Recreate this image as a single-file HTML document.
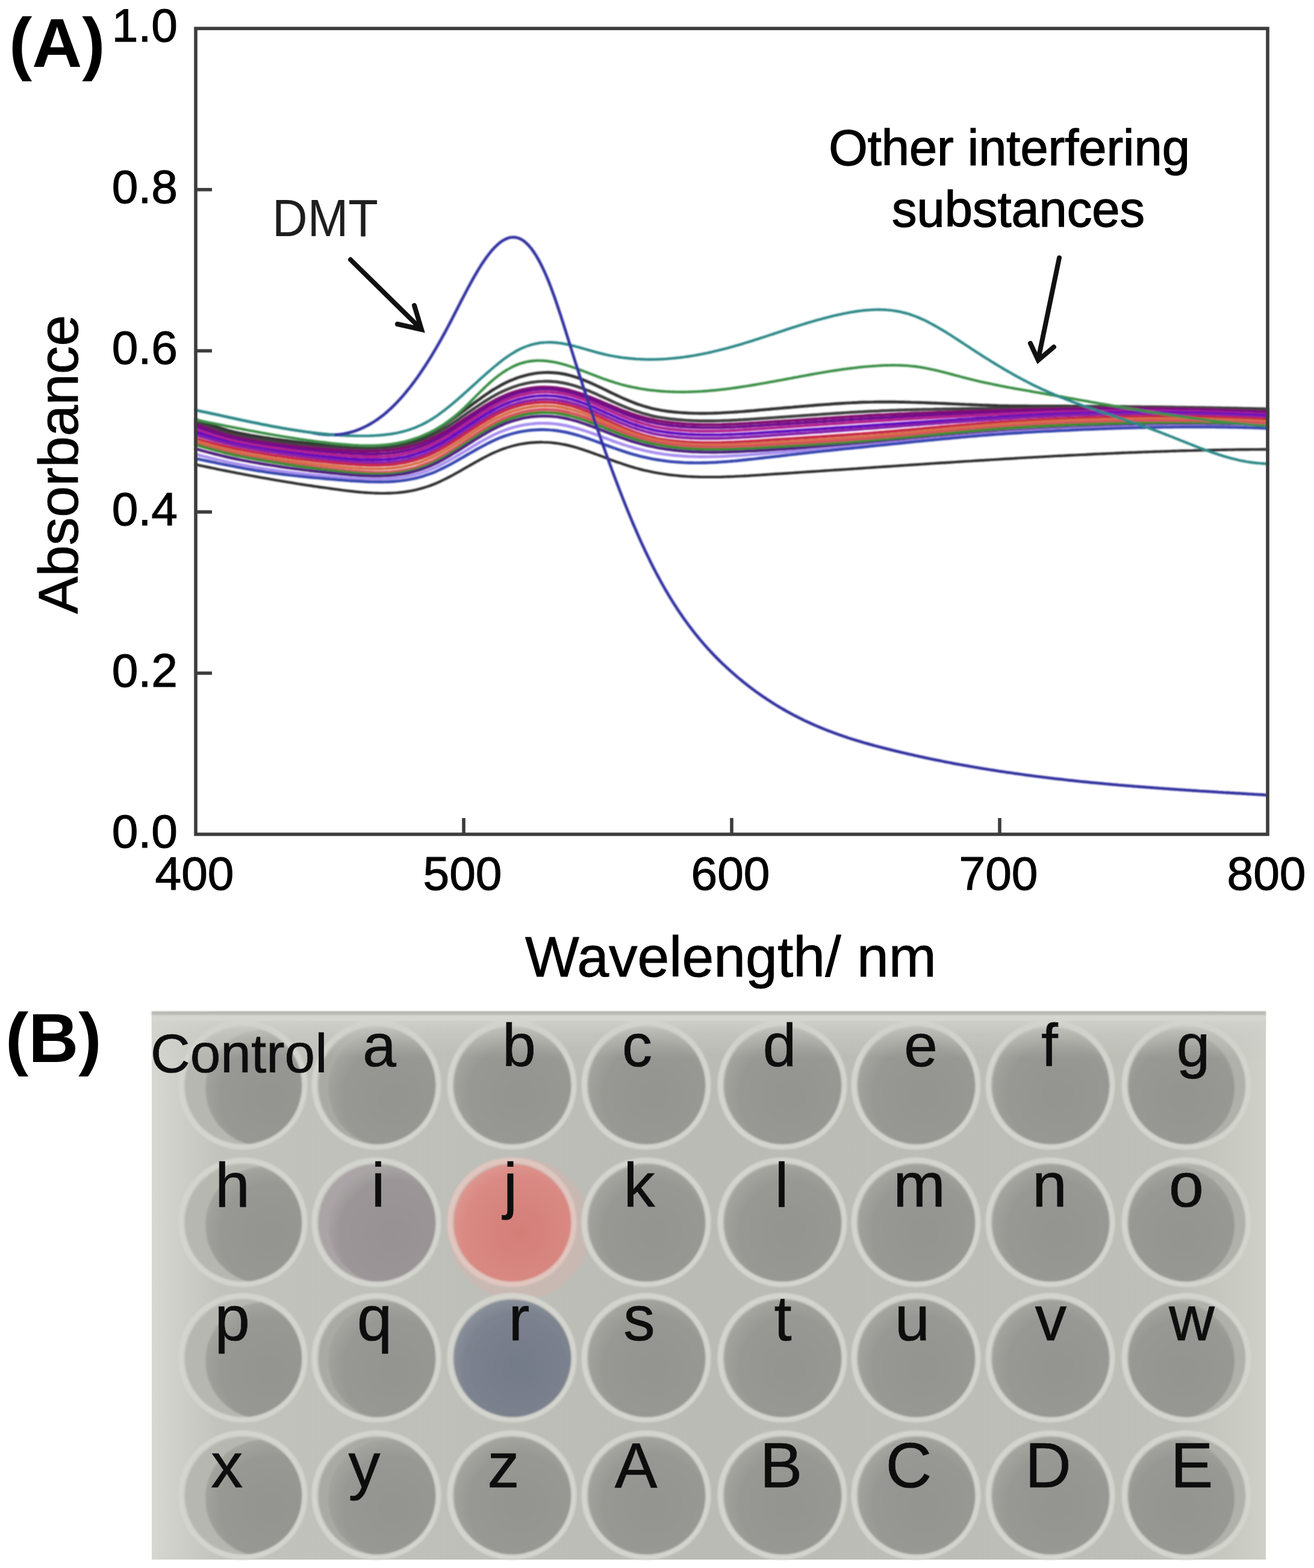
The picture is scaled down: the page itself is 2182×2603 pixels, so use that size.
<!DOCTYPE html>
<html><head><meta charset="utf-8"><title>Figure</title>
<style>
html,body{margin:0;padding:0;background:#fff;}
svg{display:block;}
text{font-family:"Liberation Sans",Arial,sans-serif;}
</style></head>
<body>
<svg width="2182" height="2603" viewBox="0 0 2182 2603">
<defs>
<clipPath id="cw00"><circle cx="404.0" cy="1802.0" r="97.5"/></clipPath>
<clipPath id="cw01"><circle cx="626.0" cy="1802.0" r="97.5"/></clipPath>
<clipPath id="cw07"><circle cx="1971.0" cy="1802.0" r="97.5"/></clipPath>
<clipPath id="cw10"><circle cx="404.0" cy="2030.0" r="97.5"/></clipPath>
<clipPath id="cw11"><circle cx="626.0" cy="2030.0" r="97.5"/></clipPath>
<clipPath id="cw17"><circle cx="1971.0" cy="2030.0" r="97.5"/></clipPath>
<clipPath id="cw20"><circle cx="404.0" cy="2255.0" r="97.5"/></clipPath>
<clipPath id="cw21"><circle cx="626.0" cy="2255.0" r="97.5"/></clipPath>
<clipPath id="cw27"><circle cx="1971.0" cy="2255.0" r="97.5"/></clipPath>
<clipPath id="cw30"><circle cx="404.0" cy="2483.0" r="97.5"/></clipPath>
<clipPath id="cw31"><circle cx="626.0" cy="2483.0" r="97.5"/></clipPath>
<clipPath id="cw37"><circle cx="1971.0" cy="2483.0" r="97.5"/></clipPath>
<radialGradient id="wg" cx="56%" cy="58%" r="62%">
<stop offset="0" stop-color="#939490"/><stop offset="0.7" stop-color="#979893"/><stop offset="1" stop-color="#a6a7a1"/>
</radialGradient>
<linearGradient id="wl" x1="0" y1="0" x2="1" y2="0">
<stop offset="0" stop-color="#b4b5af"/><stop offset="0.35" stop-color="#a4a59f"/><stop offset="0.45" stop-color="#90918c"/><stop offset="1" stop-color="#8e8f8a"/>
</linearGradient>
<radialGradient id="wj" cx="56%" cy="58%" r="62%">
<stop offset="0" stop-color="#d47e78"/><stop offset="0.75" stop-color="#d98882"/><stop offset="1" stop-color="#dc9890"/>
</radialGradient>
<radialGradient id="wr" cx="56%" cy="58%" r="62%">
<stop offset="0" stop-color="#747b88"/><stop offset="0.75" stop-color="#7b828e"/><stop offset="1" stop-color="#8c929c"/>
</radialGradient>
<radialGradient id="wi" cx="56%" cy="58%" r="62%">
<stop offset="0" stop-color="#979193"/><stop offset="0.75" stop-color="#9b9597"/><stop offset="1" stop-color="#aca8a8"/>
</radialGradient>
<linearGradient id="pbg" x1="0" y1="0" x2="1" y2="0">
<stop offset="0" stop-color="#d6d7d0"/><stop offset="0.06" stop-color="#c2c3bd"/><stop offset="0.5" stop-color="#babbb5"/><stop offset="0.92" stop-color="#bebfb8"/><stop offset="1" stop-color="#cfd0c8"/>
</linearGradient>
<linearGradient id="topfade" x1="0" y1="0" x2="0" y2="1">
<stop offset="0" stop-color="#d4d5cf" stop-opacity="0.9"/><stop offset="0.35" stop-color="#cfd0ca" stop-opacity="0.55"/><stop offset="1" stop-color="#c8c9c3" stop-opacity="0"/>
</linearGradient>
<filter id="soft" x="-5%" y="-5%" width="110%" height="110%"><feGaussianBlur stdDeviation="1.8"/></filter>
<filter id="soft2"><feGaussianBlur stdDeviation="1.0"/></filter>
<filter id="soft3"><feGaussianBlur stdDeviation="0.7"/></filter>
</defs>
<rect width="2182" height="2603" fill="#ffffff"/>
<!-- Panel A -->
<text x="15" y="111" font-size="115" font-weight="bold" fill="#000">(A)</text>
<g fill="none" stroke-linejoin="round" stroke-linecap="round" filter="url(#soft2)">
<path d="M325.0,696.2 C326.5,696.7 331.0,698.4 334.0,699.4 C337.0,700.5 340.0,701.6 343.0,702.7 C346.0,703.7 349.0,704.8 352.0,705.8 C355.0,706.9 358.0,707.9 361.0,708.9 C364.0,709.9 367.0,710.9 370.0,711.8 C373.0,712.7 376.0,713.6 379.0,714.5 C382.0,715.3 385.0,716.1 388.0,716.8 C391.0,717.6 394.0,718.3 397.0,718.9 C400.0,719.5 403.0,720.1 406.0,720.6 C409.0,721.2 412.0,721.7 415.0,722.3 C418.0,722.8 421.0,723.3 424.0,723.8 C427.0,724.3 430.0,724.8 433.0,725.3 C436.0,725.8 439.0,726.3 442.0,726.8 C445.0,727.2 448.0,727.7 451.0,728.1 C454.0,728.6 457.0,729.0 460.0,729.4 C463.0,729.8 466.0,730.2 469.0,730.6 C472.0,731.0 475.0,731.4 478.0,731.8 C481.0,732.2 484.0,732.5 487.0,732.9 C490.0,733.3 493.0,733.6 496.0,733.9 C499.0,734.3 502.0,734.6 505.0,734.9 C508.0,735.2 511.0,735.5 514.0,735.8 C517.0,736.1 520.0,736.4 523.0,736.7 C526.0,737.0 529.0,737.3 532.0,737.5 C535.0,737.8 538.0,738.1 541.0,738.3 C544.0,738.5 547.0,738.8 550.0,739.0 C553.0,739.2 556.0,739.5 559.0,739.7 C562.0,739.9 565.0,740.1 568.0,740.3 C571.0,740.5 574.0,740.7 577.0,740.8 C580.0,741.0 583.0,741.2 586.0,741.3 C589.0,741.4 592.0,741.6 595.0,741.7 C598.0,741.8 601.0,741.8 604.0,741.9 C607.0,741.9 610.0,742.0 613.0,741.9 C616.0,741.9 619.0,741.9 622.0,741.8 C625.0,741.7 628.0,741.6 631.0,741.5 C634.0,741.3 637.0,741.1 640.0,740.9 C643.0,740.6 646.0,740.3 649.0,740.0 C652.0,739.6 655.0,739.1 658.0,738.6 C661.0,738.1 664.0,737.5 667.0,736.8 C670.0,736.2 673.0,735.4 676.0,734.6 C679.0,733.8 682.0,732.8 685.0,731.9 C688.0,730.9 691.0,729.8 694.0,728.6 C697.0,727.5 700.0,726.2 703.0,724.9 C706.0,723.5 709.0,722.1 712.0,720.6 C715.0,719.1 718.0,717.4 721.0,715.7 C724.0,714.0 727.0,712.2 730.0,710.4 C733.0,708.5 736.0,706.5 739.0,704.5 C742.0,702.5 745.0,700.4 748.0,698.3 C751.0,696.2 754.0,694.0 757.0,691.8 C760.0,689.6 763.0,687.3 766.0,685.1 C769.0,682.8 772.0,680.6 775.0,678.3 C778.0,676.1 781.0,673.8 784.0,671.5 C787.0,669.3 790.0,667.1 793.0,664.9 C796.0,662.7 799.0,660.5 802.0,658.4 C805.0,656.3 808.0,654.2 811.0,652.2 C814.0,650.2 817.0,648.3 820.0,646.4 C823.0,644.6 826.0,642.8 829.0,641.1 C832.0,639.4 835.0,637.8 838.0,636.3 C841.0,634.8 844.0,633.4 847.0,632.1 C850.0,630.8 853.0,629.6 856.0,628.4 C859.0,627.3 862.0,626.3 865.0,625.3 C868.0,624.4 871.0,623.5 874.0,622.8 C877.0,622.0 880.0,621.4 883.0,620.8 C886.0,620.3 889.0,619.8 892.0,619.4 C895.0,619.1 898.0,618.8 901.0,618.6 C904.0,618.4 907.0,618.3 910.0,618.3 C913.0,618.3 916.0,618.5 919.0,618.7 C922.0,618.9 925.0,619.2 928.0,619.5 C931.0,619.9 934.0,620.4 937.0,621.0 C940.0,621.6 943.0,622.3 946.0,623.1 C949.0,623.9 952.0,624.7 955.0,625.7 C958.0,626.7 961.0,627.7 964.0,628.8 C967.0,629.9 970.0,631.1 973.0,632.4 C976.0,633.6 979.0,634.9 982.0,636.2 C985.0,637.6 988.0,639.0 991.0,640.4 C994.0,641.8 997.0,643.2 1000.0,644.6 C1003.0,646.1 1006.0,647.5 1009.0,649.0 C1012.0,650.5 1015.0,651.9 1018.0,653.4 C1021.0,654.8 1024.0,656.2 1027.0,657.6 C1030.0,659.0 1033.0,660.4 1036.0,661.7 C1039.0,663.0 1042.0,664.3 1045.0,665.6 C1048.0,666.8 1051.0,668.0 1054.0,669.1 C1057.0,670.2 1060.0,671.3 1063.0,672.3 C1066.0,673.3 1069.0,674.3 1072.0,675.2 C1075.0,676.1 1078.0,676.9 1081.0,677.7 C1084.0,678.4 1087.0,679.1 1090.0,679.7 C1093.0,680.4 1096.0,680.9 1099.0,681.4 C1102.0,681.9 1105.0,682.3 1108.0,682.7 C1111.0,683.1 1114.0,683.4 1117.0,683.8 C1120.0,684.1 1123.0,684.4 1126.0,684.6 C1129.0,684.9 1132.0,685.1 1135.0,685.3 C1138.0,685.5 1141.0,685.6 1144.0,685.8 C1147.0,685.9 1150.0,686.0 1153.0,686.1 C1156.0,686.1 1159.0,686.2 1162.0,686.2 C1165.0,686.2 1168.0,686.2 1171.0,686.2 C1174.0,686.2 1177.0,686.1 1180.0,686.1 C1183.0,686.0 1186.0,685.9 1189.0,685.8 C1192.0,685.7 1195.0,685.6 1198.0,685.4 C1201.0,685.3 1204.0,685.1 1207.0,684.9 C1210.0,684.8 1213.0,684.6 1216.0,684.4 C1219.0,684.2 1222.0,684.0 1225.0,683.8 C1228.0,683.5 1231.0,683.3 1234.0,683.1 C1237.0,682.8 1240.0,682.6 1243.0,682.3 C1246.0,682.1 1249.0,681.8 1252.0,681.6 C1255.0,681.3 1258.0,681.1 1261.0,680.8 C1264.0,680.5 1267.0,680.3 1270.0,680.0 C1273.0,679.7 1276.0,679.5 1279.0,679.2 C1282.0,678.9 1285.0,678.7 1288.0,678.4 C1291.0,678.1 1294.0,677.9 1297.0,677.6 C1300.0,677.4 1303.0,677.1 1306.0,676.8 C1309.0,676.6 1312.0,676.3 1315.0,676.1 C1318.0,675.8 1321.0,675.5 1324.0,675.3 C1327.0,675.0 1330.0,674.8 1333.0,674.5 C1336.0,674.3 1339.0,674.0 1342.0,673.8 C1345.0,673.5 1348.0,673.3 1351.0,673.0 C1354.0,672.8 1357.0,672.6 1360.0,672.3 C1363.0,672.1 1366.0,671.9 1369.0,671.6 C1372.0,671.4 1375.0,671.2 1378.0,671.0 C1381.0,670.7 1384.0,670.5 1387.0,670.3 C1390.0,670.1 1393.0,669.9 1396.0,669.7 C1399.0,669.5 1402.0,669.3 1405.0,669.1 C1408.0,668.9 1411.0,668.7 1414.0,668.6 C1417.0,668.4 1420.0,668.3 1423.0,668.2 C1426.0,668.0 1429.0,667.9 1432.0,667.8 C1435.0,667.7 1438.0,667.6 1441.0,667.6 C1444.0,667.5 1447.0,667.4 1450.0,667.4 C1453.0,667.3 1456.0,667.3 1459.0,667.3 C1462.0,667.3 1465.0,667.2 1468.0,667.2 C1471.0,667.2 1474.0,667.2 1477.0,667.3 C1480.0,667.3 1483.0,667.3 1486.0,667.3 C1489.0,667.4 1492.0,667.4 1495.0,667.5 C1498.0,667.5 1501.0,667.6 1504.0,667.6 C1507.0,667.7 1510.0,667.8 1513.0,667.9 C1516.0,667.9 1519.0,668.0 1522.0,668.1 C1525.0,668.2 1528.0,668.3 1531.0,668.4 C1534.0,668.5 1537.0,668.6 1540.0,668.7 C1543.0,668.8 1546.0,668.9 1549.0,669.1 C1552.0,669.2 1555.0,669.3 1558.0,669.4 C1561.0,669.6 1564.0,669.7 1567.0,669.8 C1570.0,669.9 1573.0,670.1 1576.0,670.2 C1579.0,670.3 1582.0,670.5 1585.0,670.6 C1588.0,670.7 1591.0,670.8 1594.0,671.0 C1597.0,671.1 1600.0,671.2 1603.0,671.4 C1606.0,671.5 1609.0,671.6 1612.0,671.7 C1615.0,671.9 1618.0,672.0 1621.0,672.1 C1624.0,672.2 1627.0,672.3 1630.0,672.5 C1633.0,672.6 1636.0,672.7 1639.0,672.8 C1642.0,672.9 1645.0,673.0 1648.0,673.1 C1651.0,673.2 1654.0,673.3 1657.0,673.4 C1660.0,673.4 1663.0,673.5 1666.0,673.6 C1669.0,673.7 1672.0,673.7 1675.0,673.8 C1678.0,673.8 1681.0,673.9 1684.0,673.9 C1687.0,674.0 1690.0,674.0 1693.0,674.0 C1696.0,674.0 1699.0,674.0 1702.0,674.0 C1705.0,674.1 1708.0,674.1 1711.0,674.1 C1714.0,674.1 1717.0,674.1 1720.0,674.1 C1723.0,674.1 1726.0,674.1 1729.0,674.1 C1732.0,674.1 1735.0,674.1 1738.0,674.2 C1741.0,674.2 1744.0,674.2 1747.0,674.2 C1750.0,674.2 1753.0,674.2 1756.0,674.2 C1759.0,674.3 1762.0,674.3 1765.0,674.3 C1768.0,674.3 1771.0,674.3 1774.0,674.3 C1777.0,674.3 1780.0,674.4 1783.0,674.4 C1786.0,674.4 1789.0,674.4 1792.0,674.4 C1795.0,674.5 1798.0,674.5 1801.0,674.5 C1804.0,674.5 1807.0,674.5 1810.0,674.6 C1813.0,674.6 1816.0,674.6 1819.0,674.6 C1822.0,674.6 1825.0,674.7 1828.0,674.7 C1831.0,674.7 1834.0,674.7 1837.0,674.8 C1840.0,674.8 1843.0,674.8 1846.0,674.8 C1849.0,674.9 1852.0,674.9 1855.0,674.9 C1858.0,675.0 1861.0,675.0 1864.0,675.0 C1867.0,675.0 1870.0,675.1 1873.0,675.1 C1876.0,675.1 1879.0,675.2 1882.0,675.2 C1885.0,675.2 1888.0,675.3 1891.0,675.3 C1894.0,675.3 1897.0,675.4 1900.0,675.4 C1903.0,675.4 1906.0,675.5 1909.0,675.5 C1912.0,675.5 1915.0,675.6 1918.0,675.6 C1921.0,675.7 1924.0,675.7 1927.0,675.7 C1930.0,675.8 1933.0,675.8 1936.0,675.9 C1939.0,675.9 1942.0,675.9 1945.0,676.0 C1948.0,676.0 1951.0,676.1 1954.0,676.1 C1957.0,676.1 1960.0,676.2 1963.0,676.2 C1966.0,676.3 1969.0,676.3 1972.0,676.4 C1975.0,676.4 1978.0,676.5 1981.0,676.5 C1984.0,676.6 1987.0,676.6 1990.0,676.7 C1993.0,676.7 1996.0,676.8 1999.0,676.8 C2002.0,676.9 2005.0,676.9 2008.0,677.0 C2011.0,677.0 2014.0,677.1 2017.0,677.1 C2020.0,677.2 2023.0,677.2 2026.0,677.3 C2029.0,677.4 2032.0,677.4 2035.0,677.5 C2038.0,677.5 2041.0,677.6 2044.0,677.6 C2047.0,677.7 2050.0,677.8 2053.0,677.8 C2056.0,677.9 2059.0,677.9 2062.0,678.0 C2065.0,678.1 2068.0,678.1 2071.0,678.2 C2074.0,678.3 2077.0,678.3 2080.0,678.4 C2083.0,678.5 2086.0,678.5 2089.0,678.6 C2092.0,678.7 2095.3,678.7 2098.0,678.8 C2100.7,678.9 2103.8,678.9 2105.0,679.0" stroke="#303030" stroke-width="4.9"/>
<path d="M325.0,700.2 C326.5,700.7 331.0,702.4 334.0,703.4 C337.0,704.5 340.0,705.6 343.0,706.7 C346.0,707.8 349.0,708.8 352.0,709.9 C355.0,710.9 358.0,711.9 361.0,712.9 C364.0,713.9 367.0,714.9 370.0,715.8 C373.0,716.7 376.0,717.6 379.0,718.5 C382.0,719.3 385.0,720.1 388.0,720.8 C391.0,721.6 394.0,722.3 397.0,722.9 C400.0,723.5 403.0,724.1 406.0,724.6 C409.0,725.2 412.0,725.7 415.0,726.3 C418.0,726.8 421.0,727.3 424.0,727.8 C427.0,728.3 430.0,728.8 433.0,729.3 C436.0,729.7 439.0,730.2 442.0,730.7 C445.0,731.1 448.0,731.5 451.0,732.0 C454.0,732.4 457.0,732.8 460.0,733.2 C463.0,733.6 466.0,734.0 469.0,734.4 C472.0,734.8 475.0,735.1 478.0,735.5 C481.0,735.9 484.0,736.2 487.0,736.5 C490.0,736.9 493.0,737.2 496.0,737.5 C499.0,737.8 502.0,738.1 505.0,738.4 C508.0,738.7 511.0,739.0 514.0,739.3 C517.0,739.6 520.0,739.8 523.0,740.1 C526.0,740.4 529.0,740.6 532.0,740.9 C535.0,741.1 538.0,741.3 541.0,741.6 C544.0,741.8 547.0,742.0 550.0,742.2 C553.0,742.4 556.0,742.6 559.0,742.8 C562.0,743.0 565.0,743.2 568.0,743.4 C571.0,743.6 574.0,743.7 577.0,743.9 C580.0,744.1 583.0,744.2 586.0,744.3 C589.0,744.5 592.0,744.6 595.0,744.7 C598.0,744.8 601.0,744.8 604.0,744.9 C607.0,744.9 610.0,744.9 613.0,744.9 C616.0,744.9 619.0,744.9 622.0,744.8 C625.0,744.7 628.0,744.6 631.0,744.4 C634.0,744.3 637.0,744.1 640.0,743.9 C643.0,743.6 646.0,743.4 649.0,743.0 C652.0,742.7 655.0,742.3 658.0,741.8 C661.0,741.3 664.0,740.8 667.0,740.2 C670.0,739.6 673.0,738.9 676.0,738.1 C679.0,737.4 682.0,736.6 685.0,735.7 C688.0,734.8 691.0,733.8 694.0,732.8 C697.0,731.7 700.0,730.6 703.0,729.4 C706.0,728.1 709.0,726.8 712.0,725.4 C715.0,724.1 718.0,722.6 721.0,721.0 C724.0,719.5 727.0,717.8 730.0,716.1 C733.0,714.4 736.0,712.5 739.0,710.7 C742.0,708.8 745.0,706.9 748.0,705.0 C751.0,703.0 754.0,701.0 757.0,699.0 C760.0,696.9 763.0,694.9 766.0,692.8 C769.0,690.7 772.0,688.6 775.0,686.5 C778.0,684.5 781.0,682.4 784.0,680.3 C787.0,678.2 790.0,676.2 793.0,674.2 C796.0,672.2 799.0,670.2 802.0,668.2 C805.0,666.3 808.0,664.4 811.0,662.6 C814.0,660.7 817.0,659.0 820.0,657.3 C823.0,655.6 826.0,654.0 829.0,652.4 C832.0,650.9 835.0,649.5 838.0,648.2 C841.0,646.8 844.0,645.6 847.0,644.4 C850.0,643.2 853.0,642.2 856.0,641.2 C859.0,640.2 862.0,639.3 865.0,638.5 C868.0,637.7 871.0,637.0 874.0,636.3 C877.0,635.7 880.0,635.2 883.0,634.7 C886.0,634.3 889.0,633.9 892.0,633.6 C895.0,633.3 898.0,633.2 901.0,633.1 C904.0,632.9 907.0,632.9 910.0,633.0 C913.0,633.1 916.0,633.2 919.0,633.5 C922.0,633.7 925.0,634.1 928.0,634.5 C931.0,634.9 934.0,635.4 937.0,636.0 C940.0,636.6 943.0,637.3 946.0,638.1 C949.0,638.8 952.0,639.7 955.0,640.6 C958.0,641.6 961.0,642.6 964.0,643.7 C967.0,644.7 970.0,645.9 973.0,647.0 C976.0,648.2 979.0,649.5 982.0,650.7 C985.0,652.0 988.0,653.3 991.0,654.6 C994.0,656.0 997.0,657.3 1000.0,658.7 C1003.0,660.1 1006.0,661.4 1009.0,662.8 C1012.0,664.2 1015.0,665.6 1018.0,666.9 C1021.0,668.3 1024.0,669.6 1027.0,670.9 C1030.0,672.2 1033.0,673.5 1036.0,674.8 C1039.0,676.0 1042.0,677.2 1045.0,678.4 C1048.0,679.5 1051.0,680.7 1054.0,681.7 C1057.0,682.8 1060.0,683.8 1063.0,684.7 C1066.0,685.7 1069.0,686.6 1072.0,687.4 C1075.0,688.3 1078.0,689.1 1081.0,689.8 C1084.0,690.5 1087.0,691.2 1090.0,691.8 C1093.0,692.4 1096.0,692.9 1099.0,693.4 C1102.0,693.9 1105.0,694.3 1108.0,694.7 C1111.0,695.1 1114.0,695.5 1117.0,695.8 C1120.0,696.1 1123.0,696.4 1126.0,696.7 C1129.0,697.0 1132.0,697.2 1135.0,697.4 C1138.0,697.7 1141.0,697.8 1144.0,698.0 C1147.0,698.2 1150.0,698.3 1153.0,698.4 C1156.0,698.5 1159.0,698.6 1162.0,698.7 C1165.0,698.7 1168.0,698.7 1171.0,698.8 C1174.0,698.8 1177.0,698.8 1180.0,698.8 C1183.0,698.7 1186.0,698.7 1189.0,698.6 C1192.0,698.6 1195.0,698.5 1198.0,698.4 C1201.0,698.3 1204.0,698.2 1207.0,698.1 C1210.0,698.0 1213.0,697.9 1216.0,697.7 C1219.0,697.6 1222.0,697.4 1225.0,697.3 C1228.0,697.1 1231.0,696.9 1234.0,696.8 C1237.0,696.6 1240.0,696.4 1243.0,696.2 C1246.0,696.0 1249.0,695.8 1252.0,695.6 C1255.0,695.4 1258.0,695.2 1261.0,695.0 C1264.0,694.8 1267.0,694.6 1270.0,694.4 C1273.0,694.2 1276.0,694.0 1279.0,693.8 C1282.0,693.6 1285.0,693.4 1288.0,693.1 C1291.0,692.9 1294.0,692.7 1297.0,692.5 C1300.0,692.3 1303.0,692.1 1306.0,691.9 C1309.0,691.7 1312.0,691.5 1315.0,691.3 C1318.0,691.1 1321.0,690.9 1324.0,690.6 C1327.0,690.4 1330.0,690.2 1333.0,690.0 C1336.0,689.8 1339.0,689.6 1342.0,689.4 C1345.0,689.2 1348.0,689.0 1351.0,688.8 C1354.0,688.6 1357.0,688.3 1360.0,688.1 C1363.0,687.9 1366.0,687.7 1369.0,687.5 C1372.0,687.3 1375.0,687.1 1378.0,686.9 C1381.0,686.7 1384.0,686.5 1387.0,686.3 C1390.0,686.1 1393.0,685.9 1396.0,685.7 C1399.0,685.5 1402.0,685.3 1405.0,685.1 C1408.0,684.9 1411.0,684.7 1414.0,684.5 C1417.0,684.3 1420.0,684.1 1423.0,684.0 C1426.0,683.8 1429.0,683.6 1432.0,683.5 C1435.0,683.3 1438.0,683.2 1441.0,683.0 C1444.0,682.9 1447.0,682.7 1450.0,682.6 C1453.0,682.4 1456.0,682.3 1459.0,682.2 C1462.0,682.0 1465.0,681.9 1468.0,681.8 C1471.0,681.7 1474.0,681.5 1477.0,681.4 C1480.0,681.3 1483.0,681.2 1486.0,681.1 C1489.0,681.0 1492.0,680.9 1495.0,680.8 C1498.0,680.7 1501.0,680.6 1504.0,680.5 C1507.0,680.4 1510.0,680.3 1513.0,680.2 C1516.0,680.2 1519.0,680.1 1522.0,680.0 C1525.0,679.9 1528.0,679.8 1531.0,679.8 C1534.0,679.7 1537.0,679.6 1540.0,679.6 C1543.0,679.5 1546.0,679.4 1549.0,679.4 C1552.0,679.3 1555.0,679.3 1558.0,679.2 C1561.0,679.1 1564.0,679.1 1567.0,679.0 C1570.0,679.0 1573.0,678.9 1576.0,678.9 C1579.0,678.8 1582.0,678.8 1585.0,678.7 C1588.0,678.7 1591.0,678.6 1594.0,678.6 C1597.0,678.5 1600.0,678.5 1603.0,678.4 C1606.0,678.4 1609.0,678.4 1612.0,678.3 C1615.0,678.3 1618.0,678.2 1621.0,678.2 C1624.0,678.2 1627.0,678.1 1630.0,678.1 C1633.0,678.0 1636.0,678.0 1639.0,678.0 C1642.0,677.9 1645.0,677.9 1648.0,677.8 C1651.0,677.8 1654.0,677.7 1657.0,677.7 C1660.0,677.7 1663.0,677.6 1666.0,677.6 C1669.0,677.5 1672.0,677.5 1675.0,677.4 C1678.0,677.4 1681.0,677.4 1684.0,677.3 C1687.0,677.3 1690.0,677.2 1693.0,677.2 C1696.0,677.1 1699.0,677.1 1702.0,677.0 C1705.0,677.0 1708.0,676.9 1711.0,676.9 C1714.0,676.8 1717.0,676.8 1720.0,676.7 C1723.0,676.7 1726.0,676.6 1729.0,676.6 C1732.0,676.5 1735.0,676.5 1738.0,676.4 C1741.0,676.4 1744.0,676.4 1747.0,676.3 C1750.0,676.3 1753.0,676.3 1756.0,676.2 C1759.0,676.2 1762.0,676.2 1765.0,676.1 C1768.0,676.1 1771.0,676.1 1774.0,676.0 C1777.0,676.0 1780.0,676.0 1783.0,675.9 C1786.0,675.9 1789.0,675.9 1792.0,675.9 C1795.0,675.9 1798.0,675.8 1801.0,675.8 C1804.0,675.8 1807.0,675.8 1810.0,675.8 C1813.0,675.7 1816.0,675.7 1819.0,675.7 C1822.0,675.7 1825.0,675.7 1828.0,675.7 C1831.0,675.7 1834.0,675.7 1837.0,675.7 C1840.0,675.7 1843.0,675.7 1846.0,675.7 C1849.0,675.7 1852.0,675.7 1855.0,675.7 C1858.0,675.7 1861.0,675.7 1864.0,675.7 C1867.0,675.7 1870.0,675.7 1873.0,675.7 C1876.0,675.7 1879.0,675.7 1882.0,675.7 C1885.0,675.7 1888.0,675.8 1891.0,675.8 C1894.0,675.8 1897.0,675.8 1900.0,675.8 C1903.0,675.9 1906.0,675.9 1909.0,675.9 C1912.0,675.9 1915.0,676.0 1918.0,676.0 C1921.0,676.0 1924.0,676.1 1927.0,676.1 C1930.0,676.1 1933.0,676.2 1936.0,676.2 C1939.0,676.2 1942.0,676.3 1945.0,676.3 C1948.0,676.4 1951.0,676.4 1954.0,676.5 C1957.0,676.5 1960.0,676.6 1963.0,676.6 C1966.0,676.7 1969.0,676.7 1972.0,676.8 C1975.0,676.8 1978.0,676.9 1981.0,677.0 C1984.0,677.0 1987.0,677.1 1990.0,677.2 C1993.0,677.2 1996.0,677.3 1999.0,677.4 C2002.0,677.4 2005.0,677.5 2008.0,677.6 C2011.0,677.7 2014.0,677.7 2017.0,677.8 C2020.0,677.9 2023.0,678.0 2026.0,678.1 C2029.0,678.2 2032.0,678.2 2035.0,678.3 C2038.0,678.4 2041.0,678.5 2044.0,678.6 C2047.0,678.7 2050.0,678.8 2053.0,678.9 C2056.0,679.0 2059.0,679.1 2062.0,679.2 C2065.0,679.3 2068.0,679.5 2071.0,679.6 C2074.0,679.7 2077.0,679.8 2080.0,679.9 C2083.0,680.0 2086.0,680.1 2089.0,680.3 C2092.0,680.4 2095.3,680.5 2098.0,680.7 C2100.7,680.8 2103.8,680.9 2105.0,681.0" stroke="#404040" stroke-width="4.9"/>
<path d="M325.0,704.2 C326.5,704.7 331.0,706.4 334.0,707.4 C337.0,708.5 340.0,709.6 343.0,710.7 C346.0,711.8 349.0,712.8 352.0,713.9 C355.0,714.9 358.0,715.9 361.0,716.9 C364.0,717.9 367.0,718.9 370.0,719.8 C373.0,720.7 376.0,721.6 379.0,722.5 C382.0,723.3 385.0,724.1 388.0,724.8 C391.0,725.6 394.0,726.3 397.0,726.9 C400.0,727.5 403.0,728.1 406.0,728.6 C409.0,729.2 412.0,729.7 415.0,730.2 C418.0,730.8 421.0,731.3 424.0,731.8 C427.0,732.3 430.0,732.8 433.0,733.2 C436.0,733.7 439.0,734.2 442.0,734.6 C445.0,735.1 448.0,735.5 451.0,735.9 C454.0,736.3 457.0,736.8 460.0,737.2 C463.0,737.6 466.0,737.9 469.0,738.3 C472.0,738.7 475.0,739.0 478.0,739.4 C481.0,739.8 484.0,740.1 487.0,740.4 C490.0,740.8 493.0,741.1 496.0,741.4 C499.0,741.7 502.0,742.0 505.0,742.3 C508.0,742.6 511.0,742.9 514.0,743.1 C517.0,743.4 520.0,743.7 523.0,743.9 C526.0,744.2 529.0,744.4 532.0,744.7 C535.0,744.9 538.0,745.1 541.0,745.4 C544.0,745.6 547.0,745.8 550.0,746.0 C553.0,746.2 556.0,746.4 559.0,746.6 C562.0,746.8 565.0,747.0 568.0,747.2 C571.0,747.4 574.0,747.5 577.0,747.7 C580.0,747.9 583.0,748.0 586.0,748.2 C589.0,748.3 592.0,748.4 595.0,748.5 C598.0,748.6 601.0,748.7 604.0,748.7 C607.0,748.8 610.0,748.8 613.0,748.8 C616.0,748.8 619.0,748.8 622.0,748.7 C625.0,748.6 628.0,748.5 631.0,748.4 C634.0,748.3 637.0,748.1 640.0,747.9 C643.0,747.7 646.0,747.4 649.0,747.1 C652.0,746.8 655.0,746.4 658.0,745.9 C661.0,745.5 664.0,745.0 667.0,744.4 C670.0,743.9 673.0,743.2 676.0,742.5 C679.0,741.8 682.0,741.1 685.0,740.2 C688.0,739.4 691.0,738.5 694.0,737.5 C697.0,736.5 700.0,735.4 703.0,734.3 C706.0,733.1 709.0,731.9 712.0,730.6 C715.0,729.2 718.0,727.8 721.0,726.3 C724.0,724.9 727.0,723.3 730.0,721.6 C733.0,720.0 736.0,718.2 739.0,716.5 C742.0,714.7 745.0,712.9 748.0,711.0 C751.0,709.1 754.0,707.2 757.0,705.2 C760.0,703.3 763.0,701.3 766.0,699.3 C769.0,697.3 772.0,695.3 775.0,693.3 C778.0,691.3 781.0,689.3 784.0,687.3 C787.0,685.4 790.0,683.4 793.0,681.5 C796.0,679.5 799.0,677.6 802.0,675.8 C805.0,673.9 808.0,672.1 811.0,670.4 C814.0,668.6 817.0,666.9 820.0,665.3 C823.0,663.7 826.0,662.2 829.0,660.7 C832.0,659.3 835.0,657.9 838.0,656.7 C841.0,655.4 844.0,654.2 847.0,653.1 C850.0,652.0 853.0,651.0 856.0,650.1 C859.0,649.2 862.0,648.4 865.0,647.6 C868.0,646.9 871.0,646.2 874.0,645.7 C877.0,645.1 880.0,644.6 883.0,644.2 C886.0,643.8 889.0,643.5 892.0,643.2 C895.0,643.0 898.0,642.9 901.0,642.8 C904.0,642.7 907.0,642.8 910.0,642.9 C913.0,643.0 916.0,643.1 919.0,643.4 C922.0,643.7 925.0,644.0 928.0,644.5 C931.0,644.9 934.0,645.4 937.0,646.0 C940.0,646.6 943.0,647.3 946.0,648.0 C949.0,648.8 952.0,649.6 955.0,650.5 C958.0,651.4 961.0,652.4 964.0,653.4 C967.0,654.4 970.0,655.5 973.0,656.6 C976.0,657.7 979.0,658.9 982.0,660.1 C985.0,661.2 988.0,662.5 991.0,663.7 C994.0,664.9 997.0,666.2 1000.0,667.4 C1003.0,668.7 1006.0,670.0 1009.0,671.2 C1012.0,672.5 1015.0,673.7 1018.0,675.0 C1021.0,676.2 1024.0,677.5 1027.0,678.7 C1030.0,679.9 1033.0,681.1 1036.0,682.2 C1039.0,683.3 1042.0,684.4 1045.0,685.5 C1048.0,686.5 1051.0,687.6 1054.0,688.5 C1057.0,689.5 1060.0,690.4 1063.0,691.3 C1066.0,692.2 1069.0,693.0 1072.0,693.8 C1075.0,694.5 1078.0,695.3 1081.0,695.9 C1084.0,696.6 1087.0,697.2 1090.0,697.8 C1093.0,698.4 1096.0,698.9 1099.0,699.4 C1102.0,699.9 1105.0,700.3 1108.0,700.7 C1111.0,701.1 1114.0,701.5 1117.0,701.8 C1120.0,702.1 1123.0,702.5 1126.0,702.7 C1129.0,703.0 1132.0,703.3 1135.0,703.5 C1138.0,703.7 1141.0,703.9 1144.0,704.1 C1147.0,704.2 1150.0,704.4 1153.0,704.5 C1156.0,704.6 1159.0,704.7 1162.0,704.8 C1165.0,704.8 1168.0,704.9 1171.0,704.9 C1174.0,704.9 1177.0,704.9 1180.0,704.9 C1183.0,704.9 1186.0,704.9 1189.0,704.9 C1192.0,704.8 1195.0,704.7 1198.0,704.7 C1201.0,704.6 1204.0,704.5 1207.0,704.4 C1210.0,704.3 1213.0,704.2 1216.0,704.1 C1219.0,703.9 1222.0,703.8 1225.0,703.6 C1228.0,703.5 1231.0,703.3 1234.0,703.2 C1237.0,703.0 1240.0,702.8 1243.0,702.7 C1246.0,702.5 1249.0,702.3 1252.0,702.1 C1255.0,701.9 1258.0,701.8 1261.0,701.6 C1264.0,701.4 1267.0,701.2 1270.0,701.0 C1273.0,700.8 1276.0,700.6 1279.0,700.4 C1282.0,700.2 1285.0,700.0 1288.0,699.8 C1291.0,699.6 1294.0,699.4 1297.0,699.3 C1300.0,699.1 1303.0,698.9 1306.0,698.7 C1309.0,698.5 1312.0,698.3 1315.0,698.1 C1318.0,697.9 1321.0,697.7 1324.0,697.5 C1327.0,697.3 1330.0,697.1 1333.0,696.9 C1336.0,696.7 1339.0,696.5 1342.0,696.3 C1345.0,696.1 1348.0,695.9 1351.0,695.7 C1354.0,695.5 1357.0,695.3 1360.0,695.1 C1363.0,694.9 1366.0,694.7 1369.0,694.5 C1372.0,694.3 1375.0,694.1 1378.0,693.9 C1381.0,693.7 1384.0,693.5 1387.0,693.3 C1390.0,693.1 1393.0,692.9 1396.0,692.7 C1399.0,692.5 1402.0,692.3 1405.0,692.1 C1408.0,691.9 1411.0,691.7 1414.0,691.5 C1417.0,691.3 1420.0,691.1 1423.0,690.9 C1426.0,690.7 1429.0,690.6 1432.0,690.4 C1435.0,690.2 1438.0,690.0 1441.0,689.8 C1444.0,689.7 1447.0,689.5 1450.0,689.3 C1453.0,689.2 1456.0,689.0 1459.0,688.8 C1462.0,688.7 1465.0,688.5 1468.0,688.4 C1471.0,688.2 1474.0,688.1 1477.0,687.9 C1480.0,687.8 1483.0,687.6 1486.0,687.5 C1489.0,687.3 1492.0,687.2 1495.0,687.0 C1498.0,686.9 1501.0,686.8 1504.0,686.6 C1507.0,686.5 1510.0,686.4 1513.0,686.2 C1516.0,686.1 1519.0,686.0 1522.0,685.8 C1525.0,685.7 1528.0,685.6 1531.0,685.5 C1534.0,685.3 1537.0,685.2 1540.0,685.1 C1543.0,685.0 1546.0,684.9 1549.0,684.8 C1552.0,684.6 1555.0,684.5 1558.0,684.4 C1561.0,684.3 1564.0,684.2 1567.0,684.1 C1570.0,684.0 1573.0,683.9 1576.0,683.8 C1579.0,683.7 1582.0,683.6 1585.0,683.5 C1588.0,683.4 1591.0,683.3 1594.0,683.2 C1597.0,683.1 1600.0,683.0 1603.0,682.9 C1606.0,682.8 1609.0,682.7 1612.0,682.6 C1615.0,682.5 1618.0,682.4 1621.0,682.3 C1624.0,682.2 1627.0,682.1 1630.0,682.0 C1633.0,681.9 1636.0,681.8 1639.0,681.8 C1642.0,681.7 1645.0,681.6 1648.0,681.5 C1651.0,681.4 1654.0,681.3 1657.0,681.2 C1660.0,681.2 1663.0,681.1 1666.0,681.0 C1669.0,680.9 1672.0,680.8 1675.0,680.7 C1678.0,680.6 1681.0,680.6 1684.0,680.5 C1687.0,680.4 1690.0,680.3 1693.0,680.2 C1696.0,680.2 1699.0,680.1 1702.0,680.0 C1705.0,679.9 1708.0,679.8 1711.0,679.7 C1714.0,679.7 1717.0,679.6 1720.0,679.5 C1723.0,679.5 1726.0,679.4 1729.0,679.3 C1732.0,679.2 1735.0,679.2 1738.0,679.1 C1741.0,679.1 1744.0,679.0 1747.0,678.9 C1750.0,678.9 1753.0,678.8 1756.0,678.8 C1759.0,678.7 1762.0,678.6 1765.0,678.6 C1768.0,678.5 1771.0,678.5 1774.0,678.5 C1777.0,678.4 1780.0,678.4 1783.0,678.3 C1786.0,678.3 1789.0,678.2 1792.0,678.2 C1795.0,678.2 1798.0,678.1 1801.0,678.1 C1804.0,678.1 1807.0,678.0 1810.0,678.0 C1813.0,678.0 1816.0,678.0 1819.0,677.9 C1822.0,677.9 1825.0,677.9 1828.0,677.9 C1831.0,677.9 1834.0,677.9 1837.0,677.8 C1840.0,677.8 1843.0,677.8 1846.0,677.8 C1849.0,677.8 1852.0,677.8 1855.0,677.8 C1858.0,677.8 1861.0,677.8 1864.0,677.8 C1867.0,677.8 1870.0,677.8 1873.0,677.8 C1876.0,677.8 1879.0,677.8 1882.0,677.8 C1885.0,677.9 1888.0,677.9 1891.0,677.9 C1894.0,677.9 1897.0,677.9 1900.0,678.0 C1903.0,678.0 1906.0,678.0 1909.0,678.0 C1912.0,678.1 1915.0,678.1 1918.0,678.1 C1921.0,678.2 1924.0,678.2 1927.0,678.2 C1930.0,678.3 1933.0,678.3 1936.0,678.4 C1939.0,678.4 1942.0,678.5 1945.0,678.5 C1948.0,678.6 1951.0,678.6 1954.0,678.7 C1957.0,678.7 1960.0,678.8 1963.0,678.8 C1966.0,678.9 1969.0,679.0 1972.0,679.0 C1975.0,679.1 1978.0,679.2 1981.0,679.2 C1984.0,679.3 1987.0,679.4 1990.0,679.5 C1993.0,679.6 1996.0,679.6 1999.0,679.7 C2002.0,679.8 2005.0,679.9 2008.0,680.0 C2011.0,680.1 2014.0,680.2 2017.0,680.3 C2020.0,680.4 2023.0,680.5 2026.0,680.6 C2029.0,680.7 2032.0,680.8 2035.0,680.9 C2038.0,681.0 2041.0,681.1 2044.0,681.2 C2047.0,681.3 2050.0,681.4 2053.0,681.6 C2056.0,681.7 2059.0,681.8 2062.0,681.9 C2065.0,682.1 2068.0,682.2 2071.0,682.3 C2074.0,682.5 2077.0,682.6 2080.0,682.7 C2083.0,682.9 2086.0,683.0 2089.0,683.2 C2092.0,683.3 2095.3,683.5 2098.0,683.6 C2100.7,683.7 2103.8,683.9 2105.0,684.0" stroke="#801070" stroke-width="4.9"/>
<path d="M325.0,708.2 C326.5,708.7 331.0,710.2 334.0,711.3 C337.0,712.3 340.0,713.3 343.0,714.3 C346.0,715.4 349.0,716.4 352.0,717.4 C355.0,718.3 358.0,719.3 361.0,720.3 C364.0,721.2 367.0,722.1 370.0,723.0 C373.0,723.9 376.0,724.8 379.0,725.6 C382.0,726.4 385.0,727.2 388.0,727.9 C391.0,728.6 394.0,729.3 397.0,729.9 C400.0,730.5 403.0,731.1 406.0,731.6 C409.0,732.2 412.0,732.7 415.0,733.3 C418.0,733.8 421.0,734.3 424.0,734.8 C427.0,735.3 430.0,735.8 433.0,736.3 C436.0,736.8 439.0,737.3 442.0,737.8 C445.0,738.2 448.0,738.7 451.0,739.1 C454.0,739.6 457.0,740.0 460.0,740.4 C463.0,740.8 466.0,741.2 469.0,741.6 C472.0,742.0 475.0,742.4 478.0,742.8 C481.0,743.2 484.0,743.6 487.0,743.9 C490.0,744.3 493.0,744.6 496.0,745.0 C499.0,745.3 502.0,745.7 505.0,746.0 C508.0,746.3 511.0,746.6 514.0,746.9 C517.0,747.2 520.0,747.5 523.0,747.8 C526.0,748.1 529.0,748.4 532.0,748.7 C535.0,749.0 538.0,749.2 541.0,749.5 C544.0,749.7 547.0,750.0 550.0,750.2 C553.0,750.5 556.0,750.7 559.0,750.9 C562.0,751.2 565.0,751.4 568.0,751.6 C571.0,751.8 574.0,752.0 577.0,752.2 C580.0,752.4 583.0,752.6 586.0,752.7 C589.0,752.9 592.0,753.1 595.0,753.2 C598.0,753.3 601.0,753.4 604.0,753.5 C607.0,753.6 610.0,753.6 613.0,753.6 C616.0,753.6 619.0,753.6 622.0,753.6 C625.0,753.5 628.0,753.5 631.0,753.4 C634.0,753.2 637.0,753.1 640.0,752.9 C643.0,752.7 646.0,752.4 649.0,752.1 C652.0,751.8 655.0,751.4 658.0,751.0 C661.0,750.6 664.0,750.1 667.0,749.5 C670.0,748.9 673.0,748.3 676.0,747.6 C679.0,746.9 682.0,746.1 685.0,745.3 C688.0,744.4 691.0,743.5 694.0,742.5 C697.0,741.5 700.0,740.4 703.0,739.2 C706.0,738.0 709.0,736.8 712.0,735.5 C715.0,734.1 718.0,732.7 721.0,731.2 C724.0,729.7 727.0,728.1 730.0,726.4 C733.0,724.7 736.0,723.0 739.0,721.2 C742.0,719.4 745.0,717.5 748.0,715.6 C751.0,713.7 754.0,711.7 757.0,709.8 C760.0,707.8 763.0,705.8 766.0,703.7 C769.0,701.7 772.0,699.7 775.0,697.7 C778.0,695.6 781.0,693.6 784.0,691.6 C787.0,689.6 790.0,687.6 793.0,685.6 C796.0,683.6 799.0,681.7 802.0,679.8 C805.0,677.9 808.0,676.1 811.0,674.3 C814.0,672.5 817.0,670.8 820.0,669.2 C823.0,667.5 826.0,666.0 829.0,664.5 C832.0,663.0 835.0,661.6 838.0,660.3 C841.0,659.0 844.0,657.8 847.0,656.7 C850.0,655.6 853.0,654.5 856.0,653.6 C859.0,652.6 862.0,651.8 865.0,651.0 C868.0,650.2 871.0,649.6 874.0,649.0 C877.0,648.4 880.0,647.9 883.0,647.4 C886.0,647.0 889.0,646.7 892.0,646.4 C895.0,646.2 898.0,646.0 901.0,645.9 C904.0,645.8 907.0,645.8 910.0,645.9 C913.0,646.0 916.0,646.2 919.0,646.4 C922.0,646.7 925.0,647.0 928.0,647.5 C931.0,647.9 934.0,648.4 937.0,649.0 C940.0,649.6 943.0,650.3 946.0,651.1 C949.0,651.8 952.0,652.7 955.0,653.6 C958.0,654.5 961.0,655.5 964.0,656.5 C967.0,657.6 970.0,658.7 973.0,659.8 C976.0,661.0 979.0,662.2 982.0,663.4 C985.0,664.6 988.0,665.9 991.0,667.2 C994.0,668.4 997.0,669.8 1000.0,671.1 C1003.0,672.4 1006.0,673.7 1009.0,675.0 C1012.0,676.3 1015.0,677.7 1018.0,678.9 C1021.0,680.2 1024.0,681.5 1027.0,682.8 C1030.0,684.1 1033.0,685.3 1036.0,686.5 C1039.0,687.7 1042.0,688.8 1045.0,689.9 C1048.0,691.0 1051.0,692.1 1054.0,693.1 C1057.0,694.1 1060.0,695.1 1063.0,696.0 C1066.0,696.9 1069.0,697.8 1072.0,698.6 C1075.0,699.4 1078.0,700.2 1081.0,700.9 C1084.0,701.6 1087.0,702.2 1090.0,702.8 C1093.0,703.4 1096.0,703.9 1099.0,704.4 C1102.0,704.9 1105.0,705.3 1108.0,705.7 C1111.0,706.1 1114.0,706.5 1117.0,706.8 C1120.0,707.1 1123.0,707.5 1126.0,707.7 C1129.0,708.0 1132.0,708.3 1135.0,708.5 C1138.0,708.7 1141.0,708.9 1144.0,709.1 C1147.0,709.2 1150.0,709.4 1153.0,709.5 C1156.0,709.6 1159.0,709.7 1162.0,709.8 C1165.0,709.8 1168.0,709.9 1171.0,709.9 C1174.0,709.9 1177.0,709.9 1180.0,709.9 C1183.0,709.9 1186.0,709.9 1189.0,709.9 C1192.0,709.8 1195.0,709.7 1198.0,709.7 C1201.0,709.6 1204.0,709.5 1207.0,709.4 C1210.0,709.3 1213.0,709.2 1216.0,709.1 C1219.0,708.9 1222.0,708.8 1225.0,708.6 C1228.0,708.5 1231.0,708.3 1234.0,708.2 C1237.0,708.0 1240.0,707.8 1243.0,707.7 C1246.0,707.5 1249.0,707.3 1252.0,707.1 C1255.0,706.9 1258.0,706.8 1261.0,706.6 C1264.0,706.4 1267.0,706.2 1270.0,706.0 C1273.0,705.8 1276.0,705.6 1279.0,705.4 C1282.0,705.2 1285.0,705.0 1288.0,704.8 C1291.0,704.6 1294.0,704.4 1297.0,704.3 C1300.0,704.1 1303.0,703.9 1306.0,703.7 C1309.0,703.5 1312.0,703.3 1315.0,703.1 C1318.0,702.9 1321.0,702.7 1324.0,702.5 C1327.0,702.3 1330.0,702.1 1333.0,701.9 C1336.0,701.7 1339.0,701.5 1342.0,701.3 C1345.0,701.1 1348.0,700.9 1351.0,700.7 C1354.0,700.5 1357.0,700.3 1360.0,700.1 C1363.0,699.9 1366.0,699.7 1369.0,699.5 C1372.0,699.3 1375.0,699.1 1378.0,698.9 C1381.0,698.7 1384.0,698.5 1387.0,698.3 C1390.0,698.1 1393.0,697.9 1396.0,697.7 C1399.0,697.5 1402.0,697.3 1405.0,697.1 C1408.0,696.9 1411.0,696.7 1414.0,696.5 C1417.0,696.3 1420.0,696.1 1423.0,695.9 C1426.0,695.7 1429.0,695.5 1432.0,695.3 C1435.0,695.1 1438.0,695.0 1441.0,694.8 C1444.0,694.6 1447.0,694.4 1450.0,694.2 C1453.0,694.1 1456.0,693.9 1459.0,693.7 C1462.0,693.5 1465.0,693.4 1468.0,693.2 C1471.0,693.0 1474.0,692.9 1477.0,692.7 C1480.0,692.5 1483.0,692.4 1486.0,692.2 C1489.0,692.0 1492.0,691.9 1495.0,691.7 C1498.0,691.5 1501.0,691.4 1504.0,691.2 C1507.0,691.1 1510.0,690.9 1513.0,690.8 C1516.0,690.6 1519.0,690.5 1522.0,690.3 C1525.0,690.2 1528.0,690.0 1531.0,689.9 C1534.0,689.7 1537.0,689.6 1540.0,689.4 C1543.0,689.3 1546.0,689.2 1549.0,689.0 C1552.0,688.9 1555.0,688.7 1558.0,688.6 C1561.0,688.5 1564.0,688.3 1567.0,688.2 C1570.0,688.1 1573.0,687.9 1576.0,687.8 C1579.0,687.7 1582.0,687.5 1585.0,687.4 C1588.0,687.3 1591.0,687.2 1594.0,687.0 C1597.0,686.9 1600.0,686.8 1603.0,686.7 C1606.0,686.5 1609.0,686.4 1612.0,686.3 C1615.0,686.2 1618.0,686.1 1621.0,685.9 C1624.0,685.8 1627.0,685.7 1630.0,685.6 C1633.0,685.5 1636.0,685.4 1639.0,685.2 C1642.0,685.1 1645.0,685.0 1648.0,684.9 C1651.0,684.8 1654.0,684.7 1657.0,684.6 C1660.0,684.5 1663.0,684.3 1666.0,684.2 C1669.0,684.1 1672.0,684.0 1675.0,683.9 C1678.0,683.8 1681.0,683.7 1684.0,683.6 C1687.0,683.5 1690.0,683.4 1693.0,683.3 C1696.0,683.2 1699.0,683.1 1702.0,683.0 C1705.0,682.9 1708.0,682.8 1711.0,682.7 C1714.0,682.6 1717.0,682.5 1720.0,682.4 C1723.0,682.3 1726.0,682.2 1729.0,682.1 C1732.0,682.0 1735.0,682.0 1738.0,681.9 C1741.0,681.8 1744.0,681.7 1747.0,681.6 C1750.0,681.6 1753.0,681.5 1756.0,681.4 C1759.0,681.4 1762.0,681.3 1765.0,681.2 C1768.0,681.2 1771.0,681.1 1774.0,681.0 C1777.0,681.0 1780.0,680.9 1783.0,680.9 C1786.0,680.8 1789.0,680.8 1792.0,680.7 C1795.0,680.7 1798.0,680.6 1801.0,680.6 C1804.0,680.5 1807.0,680.5 1810.0,680.4 C1813.0,680.4 1816.0,680.4 1819.0,680.3 C1822.0,680.3 1825.0,680.3 1828.0,680.2 C1831.0,680.2 1834.0,680.2 1837.0,680.2 C1840.0,680.1 1843.0,680.1 1846.0,680.1 C1849.0,680.1 1852.0,680.1 1855.0,680.1 C1858.0,680.1 1861.0,680.1 1864.0,680.0 C1867.0,680.0 1870.0,680.0 1873.0,680.0 C1876.0,680.0 1879.0,680.0 1882.0,680.0 C1885.0,680.1 1888.0,680.1 1891.0,680.1 C1894.0,680.1 1897.0,680.1 1900.0,680.1 C1903.0,680.1 1906.0,680.2 1909.0,680.2 C1912.0,680.2 1915.0,680.2 1918.0,680.3 C1921.0,680.3 1924.0,680.3 1927.0,680.4 C1930.0,680.4 1933.0,680.4 1936.0,680.5 C1939.0,680.5 1942.0,680.5 1945.0,680.6 C1948.0,680.6 1951.0,680.7 1954.0,680.7 C1957.0,680.8 1960.0,680.8 1963.0,680.9 C1966.0,681.0 1969.0,681.0 1972.0,681.1 C1975.0,681.2 1978.0,681.2 1981.0,681.3 C1984.0,681.4 1987.0,681.4 1990.0,681.5 C1993.0,681.6 1996.0,681.7 1999.0,681.8 C2002.0,681.8 2005.0,681.9 2008.0,682.0 C2011.0,682.1 2014.0,682.2 2017.0,682.3 C2020.0,682.4 2023.0,682.5 2026.0,682.6 C2029.0,682.7 2032.0,682.8 2035.0,682.9 C2038.0,683.0 2041.0,683.1 2044.0,683.2 C2047.0,683.3 2050.0,683.4 2053.0,683.6 C2056.0,683.7 2059.0,683.8 2062.0,683.9 C2065.0,684.1 2068.0,684.2 2071.0,684.3 C2074.0,684.5 2077.0,684.6 2080.0,684.7 C2083.0,684.9 2086.0,685.0 2089.0,685.2 C2092.0,685.3 2095.3,685.5 2098.0,685.6 C2100.7,685.7 2103.8,685.9 2105.0,686.0" stroke="#701090" stroke-width="4.9"/>
<path d="M325.0,713.2 C326.5,713.7 331.0,715.1 334.0,716.1 C337.0,717.1 340.0,718.1 343.0,719.0 C346.0,720.0 349.0,720.9 352.0,721.9 C355.0,722.8 358.0,723.7 361.0,724.6 C364.0,725.5 367.0,726.4 370.0,727.3 C373.0,728.1 376.0,728.9 379.0,729.7 C382.0,730.5 385.0,731.2 388.0,731.9 C391.0,732.6 394.0,733.3 397.0,733.9 C400.0,734.5 403.0,735.1 406.0,735.6 C409.0,736.2 412.0,736.7 415.0,737.3 C418.0,737.8 421.0,738.3 424.0,738.9 C427.0,739.4 430.0,739.9 433.0,740.4 C436.0,740.9 439.0,741.3 442.0,741.8 C445.0,742.3 448.0,742.8 451.0,743.2 C454.0,743.7 457.0,744.1 460.0,744.5 C463.0,745.0 466.0,745.4 469.0,745.8 C472.0,746.2 475.0,746.6 478.0,747.0 C481.0,747.4 484.0,747.8 487.0,748.2 C490.0,748.5 493.0,748.9 496.0,749.3 C499.0,749.6 502.0,750.0 505.0,750.3 C508.0,750.6 511.0,751.0 514.0,751.3 C517.0,751.6 520.0,751.9 523.0,752.2 C526.0,752.5 529.0,752.8 532.0,753.1 C535.0,753.4 538.0,753.7 541.0,754.0 C544.0,754.3 547.0,754.5 550.0,754.8 C553.0,755.0 556.0,755.3 559.0,755.5 C562.0,755.8 565.0,756.0 568.0,756.3 C571.0,756.5 574.0,756.7 577.0,756.9 C580.0,757.1 583.0,757.3 586.0,757.5 C589.0,757.7 592.0,757.8 595.0,758.0 C598.0,758.1 601.0,758.2 604.0,758.3 C607.0,758.4 610.0,758.5 613.0,758.5 C616.0,758.5 619.0,758.6 622.0,758.5 C625.0,758.5 628.0,758.4 631.0,758.3 C634.0,758.2 637.0,758.1 640.0,757.9 C643.0,757.7 646.0,757.5 649.0,757.2 C652.0,756.8 655.0,756.5 658.0,756.1 C661.0,755.6 664.0,755.1 667.0,754.6 C670.0,754.0 673.0,753.4 676.0,752.7 C679.0,752.0 682.0,751.2 685.0,750.4 C688.0,749.5 691.0,748.6 694.0,747.6 C697.0,746.6 700.0,745.5 703.0,744.4 C706.0,743.2 709.0,741.9 712.0,740.6 C715.0,739.3 718.0,737.8 721.0,736.3 C724.0,734.8 727.0,733.2 730.0,731.6 C733.0,729.9 736.0,728.1 739.0,726.3 C742.0,724.5 745.0,722.7 748.0,720.8 C751.0,718.8 754.0,716.9 757.0,714.9 C760.0,712.9 763.0,710.9 766.0,708.9 C769.0,706.9 772.0,704.8 775.0,702.8 C778.0,700.8 781.0,698.7 784.0,696.7 C787.0,694.7 790.0,692.7 793.0,690.7 C796.0,688.8 799.0,686.8 802.0,684.9 C805.0,683.1 808.0,681.2 811.0,679.4 C814.0,677.6 817.0,675.9 820.0,674.3 C823.0,672.6 826.0,671.0 829.0,669.6 C832.0,668.1 835.0,666.7 838.0,665.4 C841.0,664.1 844.0,662.9 847.0,661.8 C850.0,660.6 853.0,659.6 856.0,658.6 C859.0,657.7 862.0,656.8 865.0,656.1 C868.0,655.3 871.0,654.6 874.0,654.0 C877.0,653.4 880.0,652.9 883.0,652.5 C886.0,652.0 889.0,651.7 892.0,651.4 C895.0,651.2 898.0,651.0 901.0,650.9 C904.0,650.8 907.0,650.8 910.0,650.9 C913.0,651.0 916.0,651.2 919.0,651.5 C922.0,651.7 925.0,652.1 928.0,652.5 C931.0,652.9 934.0,653.4 937.0,654.0 C940.0,654.6 943.0,655.3 946.0,656.1 C949.0,656.8 952.0,657.7 955.0,658.6 C958.0,659.5 961.0,660.5 964.0,661.6 C967.0,662.6 970.0,663.8 973.0,664.9 C976.0,666.1 979.0,667.3 982.0,668.6 C985.0,669.8 988.0,671.1 991.0,672.4 C994.0,673.7 997.0,675.0 1000.0,676.4 C1003.0,677.7 1006.0,679.1 1009.0,680.4 C1012.0,681.8 1015.0,683.1 1018.0,684.4 C1021.0,685.8 1024.0,687.1 1027.0,688.4 C1030.0,689.6 1033.0,690.9 1036.0,692.1 C1039.0,693.3 1042.0,694.5 1045.0,695.7 C1048.0,696.8 1051.0,697.9 1054.0,698.9 C1057.0,700.0 1060.0,700.9 1063.0,701.9 C1066.0,702.8 1069.0,703.7 1072.0,704.5 C1075.0,705.3 1078.0,706.1 1081.0,706.8 C1084.0,707.5 1087.0,708.2 1090.0,708.8 C1093.0,709.4 1096.0,709.9 1099.0,710.4 C1102.0,710.9 1105.0,711.3 1108.0,711.7 C1111.0,712.1 1114.0,712.5 1117.0,712.8 C1120.0,713.1 1123.0,713.4 1126.0,713.7 C1129.0,714.0 1132.0,714.2 1135.0,714.4 C1138.0,714.7 1141.0,714.8 1144.0,715.0 C1147.0,715.2 1150.0,715.3 1153.0,715.4 C1156.0,715.5 1159.0,715.6 1162.0,715.7 C1165.0,715.7 1168.0,715.7 1171.0,715.8 C1174.0,715.8 1177.0,715.8 1180.0,715.8 C1183.0,715.7 1186.0,715.7 1189.0,715.6 C1192.0,715.6 1195.0,715.5 1198.0,715.4 C1201.0,715.3 1204.0,715.2 1207.0,715.1 C1210.0,715.0 1213.0,714.9 1216.0,714.7 C1219.0,714.6 1222.0,714.4 1225.0,714.3 C1228.0,714.1 1231.0,713.9 1234.0,713.8 C1237.0,713.6 1240.0,713.4 1243.0,713.2 C1246.0,713.0 1249.0,712.8 1252.0,712.6 C1255.0,712.4 1258.0,712.2 1261.0,712.0 C1264.0,711.8 1267.0,711.6 1270.0,711.4 C1273.0,711.2 1276.0,711.0 1279.0,710.8 C1282.0,710.6 1285.0,710.4 1288.0,710.1 C1291.0,709.9 1294.0,709.7 1297.0,709.5 C1300.0,709.3 1303.0,709.1 1306.0,708.9 C1309.0,708.7 1312.0,708.5 1315.0,708.3 C1318.0,708.1 1321.0,707.9 1324.0,707.6 C1327.0,707.4 1330.0,707.2 1333.0,707.0 C1336.0,706.8 1339.0,706.6 1342.0,706.4 C1345.0,706.2 1348.0,706.0 1351.0,705.8 C1354.0,705.6 1357.0,705.3 1360.0,705.1 C1363.0,704.9 1366.0,704.7 1369.0,704.5 C1372.0,704.3 1375.0,704.1 1378.0,703.9 C1381.0,703.7 1384.0,703.5 1387.0,703.3 C1390.0,703.1 1393.0,702.9 1396.0,702.7 C1399.0,702.5 1402.0,702.3 1405.0,702.1 C1408.0,701.9 1411.0,701.7 1414.0,701.5 C1417.0,701.3 1420.0,701.1 1423.0,700.9 C1426.0,700.7 1429.0,700.5 1432.0,700.3 C1435.0,700.1 1438.0,699.9 1441.0,699.7 C1444.0,699.5 1447.0,699.3 1450.0,699.1 C1453.0,699.0 1456.0,698.8 1459.0,698.6 C1462.0,698.4 1465.0,698.2 1468.0,698.0 C1471.0,697.8 1474.0,697.7 1477.0,697.5 C1480.0,697.3 1483.0,697.1 1486.0,696.9 C1489.0,696.8 1492.0,696.6 1495.0,696.4 C1498.0,696.2 1501.0,696.0 1504.0,695.9 C1507.0,695.7 1510.0,695.5 1513.0,695.3 C1516.0,695.2 1519.0,695.0 1522.0,694.8 C1525.0,694.7 1528.0,694.5 1531.0,694.3 C1534.0,694.2 1537.0,694.0 1540.0,693.8 C1543.0,693.7 1546.0,693.5 1549.0,693.3 C1552.0,693.2 1555.0,693.0 1558.0,692.8 C1561.0,692.7 1564.0,692.5 1567.0,692.4 C1570.0,692.2 1573.0,692.0 1576.0,691.9 C1579.0,691.7 1582.0,691.6 1585.0,691.4 C1588.0,691.3 1591.0,691.1 1594.0,691.0 C1597.0,690.8 1600.0,690.7 1603.0,690.5 C1606.0,690.4 1609.0,690.2 1612.0,690.1 C1615.0,689.9 1618.0,689.8 1621.0,689.6 C1624.0,689.5 1627.0,689.3 1630.0,689.2 C1633.0,689.0 1636.0,688.9 1639.0,688.8 C1642.0,688.6 1645.0,688.5 1648.0,688.3 C1651.0,688.2 1654.0,688.1 1657.0,687.9 C1660.0,687.8 1663.0,687.7 1666.0,687.5 C1669.0,687.4 1672.0,687.2 1675.0,687.1 C1678.0,687.0 1681.0,686.9 1684.0,686.7 C1687.0,686.6 1690.0,686.5 1693.0,686.3 C1696.0,686.2 1699.0,686.1 1702.0,686.0 C1705.0,685.8 1708.0,685.7 1711.0,685.6 C1714.0,685.5 1717.0,685.4 1720.0,685.2 C1723.0,685.1 1726.0,685.0 1729.0,684.9 C1732.0,684.8 1735.0,684.7 1738.0,684.6 C1741.0,684.5 1744.0,684.4 1747.0,684.3 C1750.0,684.2 1753.0,684.1 1756.0,684.0 C1759.0,684.0 1762.0,683.9 1765.0,683.8 C1768.0,683.7 1771.0,683.6 1774.0,683.6 C1777.0,683.5 1780.0,683.4 1783.0,683.3 C1786.0,683.3 1789.0,683.2 1792.0,683.1 C1795.0,683.1 1798.0,683.0 1801.0,683.0 C1804.0,682.9 1807.0,682.9 1810.0,682.8 C1813.0,682.8 1816.0,682.7 1819.0,682.7 C1822.0,682.6 1825.0,682.6 1828.0,682.5 C1831.0,682.5 1834.0,682.5 1837.0,682.4 C1840.0,682.4 1843.0,682.4 1846.0,682.3 C1849.0,682.3 1852.0,682.3 1855.0,682.3 C1858.0,682.3 1861.0,682.2 1864.0,682.2 C1867.0,682.2 1870.0,682.2 1873.0,682.2 C1876.0,682.2 1879.0,682.2 1882.0,682.2 C1885.0,682.2 1888.0,682.2 1891.0,682.2 C1894.0,682.2 1897.0,682.2 1900.0,682.2 C1903.0,682.2 1906.0,682.3 1909.0,682.3 C1912.0,682.3 1915.0,682.3 1918.0,682.3 C1921.0,682.4 1924.0,682.4 1927.0,682.4 C1930.0,682.4 1933.0,682.5 1936.0,682.5 C1939.0,682.6 1942.0,682.6 1945.0,682.6 C1948.0,682.7 1951.0,682.7 1954.0,682.8 C1957.0,682.8 1960.0,682.9 1963.0,682.9 C1966.0,683.0 1969.0,683.1 1972.0,683.1 C1975.0,683.2 1978.0,683.2 1981.0,683.3 C1984.0,683.4 1987.0,683.5 1990.0,683.5 C1993.0,683.6 1996.0,683.7 1999.0,683.8 C2002.0,683.8 2005.0,683.9 2008.0,684.0 C2011.0,684.1 2014.0,684.2 2017.0,684.3 C2020.0,684.4 2023.0,684.5 2026.0,684.6 C2029.0,684.7 2032.0,684.8 2035.0,684.9 C2038.0,685.0 2041.0,685.1 2044.0,685.2 C2047.0,685.3 2050.0,685.5 2053.0,685.6 C2056.0,685.7 2059.0,685.8 2062.0,685.9 C2065.0,686.1 2068.0,686.2 2071.0,686.3 C2074.0,686.5 2077.0,686.6 2080.0,686.7 C2083.0,686.9 2086.0,687.0 2089.0,687.2 C2092.0,687.3 2095.3,687.5 2098.0,687.6 C2100.7,687.7 2103.8,687.9 2105.0,688.0" stroke="#b02090" stroke-width="4.9"/>
<path d="M325.0,717.2 C326.5,717.7 331.0,719.1 334.0,720.1 C337.0,721.1 340.0,722.0 343.0,723.0 C346.0,724.0 349.0,724.9 352.0,725.9 C355.0,726.8 358.0,727.7 361.0,728.6 C364.0,729.5 367.0,730.4 370.0,731.2 C373.0,732.1 376.0,732.9 379.0,733.7 C382.0,734.5 385.0,735.2 388.0,735.9 C391.0,736.6 394.0,737.3 397.0,737.9 C400.0,738.5 403.0,739.1 406.0,739.6 C409.0,740.2 412.0,740.7 415.0,741.3 C418.0,741.8 421.0,742.4 424.0,742.9 C427.0,743.4 430.0,743.9 433.0,744.4 C436.0,744.9 439.0,745.4 442.0,745.9 C445.0,746.4 448.0,746.8 451.0,747.3 C454.0,747.7 457.0,748.2 460.0,748.6 C463.0,749.1 466.0,749.5 469.0,749.9 C472.0,750.4 475.0,750.8 478.0,751.2 C481.0,751.6 484.0,752.0 487.0,752.4 C490.0,752.8 493.0,753.1 496.0,753.5 C499.0,753.9 502.0,754.2 505.0,754.6 C508.0,754.9 511.0,755.3 514.0,755.6 C517.0,756.0 520.0,756.3 523.0,756.6 C526.0,756.9 529.0,757.3 532.0,757.6 C535.0,757.9 538.0,758.2 541.0,758.5 C544.0,758.7 547.0,759.0 550.0,759.3 C553.0,759.6 556.0,759.9 559.0,760.1 C562.0,760.4 565.0,760.6 568.0,760.9 C571.0,761.1 574.0,761.4 577.0,761.6 C580.0,761.8 583.0,762.0 586.0,762.2 C589.0,762.4 592.0,762.6 595.0,762.7 C598.0,762.9 601.0,763.0 604.0,763.1 C607.0,763.2 610.0,763.3 613.0,763.4 C616.0,763.4 619.0,763.5 622.0,763.4 C625.0,763.4 628.0,763.4 631.0,763.3 C634.0,763.2 637.0,763.1 640.0,762.9 C643.0,762.7 646.0,762.5 649.0,762.2 C652.0,761.9 655.0,761.6 658.0,761.1 C661.0,760.7 664.0,760.2 667.0,759.7 C670.0,759.2 673.0,758.5 676.0,757.9 C679.0,757.2 682.0,756.4 685.0,755.6 C688.0,754.7 691.0,753.8 694.0,752.8 C697.0,751.9 700.0,750.8 703.0,749.6 C706.0,748.5 709.0,747.3 712.0,745.9 C715.0,744.6 718.0,743.2 721.0,741.7 C724.0,740.2 727.0,738.6 730.0,737.0 C733.0,735.3 736.0,733.6 739.0,731.8 C742.0,730.0 745.0,728.1 748.0,726.2 C751.0,724.4 754.0,722.4 757.0,720.4 C760.0,718.5 763.0,716.5 766.0,714.5 C769.0,712.5 772.0,710.4 775.0,708.4 C778.0,706.4 781.0,704.4 784.0,702.4 C787.0,700.4 790.0,698.4 793.0,696.4 C796.0,694.5 799.0,692.5 802.0,690.7 C805.0,688.8 808.0,686.9 811.0,685.2 C814.0,683.4 817.0,681.7 820.0,680.0 C823.0,678.4 826.0,676.8 829.0,675.4 C832.0,673.9 835.0,672.5 838.0,671.2 C841.0,669.9 844.0,668.7 847.0,667.6 C850.0,666.5 853.0,665.5 856.0,664.5 C859.0,663.6 862.0,662.7 865.0,662.0 C868.0,661.2 871.0,660.5 874.0,659.9 C877.0,659.3 880.0,658.8 883.0,658.4 C886.0,658.0 889.0,657.6 892.0,657.4 C895.0,657.1 898.0,657.0 901.0,656.9 C904.0,656.8 907.0,656.8 910.0,656.9 C913.0,657.0 916.0,657.2 919.0,657.4 C922.0,657.7 925.0,658.0 928.0,658.5 C931.0,658.9 934.0,659.4 937.0,660.0 C940.0,660.6 943.0,661.3 946.0,662.1 C949.0,662.8 952.0,663.7 955.0,664.6 C958.0,665.5 961.0,666.5 964.0,667.6 C967.0,668.6 970.0,669.8 973.0,670.9 C976.0,672.1 979.0,673.3 982.0,674.6 C985.0,675.8 988.0,677.1 991.0,678.4 C994.0,679.7 997.0,681.0 1000.0,682.4 C1003.0,683.7 1006.0,685.1 1009.0,686.4 C1012.0,687.8 1015.0,689.1 1018.0,690.4 C1021.0,691.8 1024.0,693.1 1027.0,694.4 C1030.0,695.6 1033.0,696.9 1036.0,698.1 C1039.0,699.3 1042.0,700.5 1045.0,701.7 C1048.0,702.8 1051.0,703.9 1054.0,704.9 C1057.0,706.0 1060.0,706.9 1063.0,707.9 C1066.0,708.8 1069.0,709.7 1072.0,710.5 C1075.0,711.3 1078.0,712.1 1081.0,712.8 C1084.0,713.5 1087.0,714.2 1090.0,714.8 C1093.0,715.4 1096.0,715.9 1099.0,716.4 C1102.0,716.9 1105.0,717.3 1108.0,717.7 C1111.0,718.1 1114.0,718.5 1117.0,718.8 C1120.0,719.1 1123.0,719.5 1126.0,719.7 C1129.0,720.0 1132.0,720.3 1135.0,720.5 C1138.0,720.7 1141.0,720.9 1144.0,721.1 C1147.0,721.2 1150.0,721.4 1153.0,721.5 C1156.0,721.6 1159.0,721.7 1162.0,721.8 C1165.0,721.8 1168.0,721.9 1171.0,721.9 C1174.0,721.9 1177.0,721.9 1180.0,721.9 C1183.0,721.9 1186.0,721.9 1189.0,721.9 C1192.0,721.8 1195.0,721.7 1198.0,721.7 C1201.0,721.6 1204.0,721.5 1207.0,721.4 C1210.0,721.3 1213.0,721.2 1216.0,721.1 C1219.0,720.9 1222.0,720.8 1225.0,720.6 C1228.0,720.5 1231.0,720.3 1234.0,720.2 C1237.0,720.0 1240.0,719.8 1243.0,719.7 C1246.0,719.5 1249.0,719.3 1252.0,719.1 C1255.0,718.9 1258.0,718.8 1261.0,718.6 C1264.0,718.4 1267.0,718.2 1270.0,718.0 C1273.0,717.8 1276.0,717.6 1279.0,717.4 C1282.0,717.2 1285.0,717.0 1288.0,716.8 C1291.0,716.6 1294.0,716.4 1297.0,716.3 C1300.0,716.1 1303.0,715.9 1306.0,715.7 C1309.0,715.5 1312.0,715.3 1315.0,715.1 C1318.0,714.9 1321.0,714.7 1324.0,714.5 C1327.0,714.3 1330.0,714.1 1333.0,713.9 C1336.0,713.7 1339.0,713.5 1342.0,713.3 C1345.0,713.1 1348.0,712.9 1351.0,712.7 C1354.0,712.5 1357.0,712.3 1360.0,712.1 C1363.0,711.9 1366.0,711.7 1369.0,711.5 C1372.0,711.3 1375.0,711.1 1378.0,710.9 C1381.0,710.7 1384.0,710.5 1387.0,710.3 C1390.0,710.1 1393.0,709.9 1396.0,709.7 C1399.0,709.5 1402.0,709.3 1405.0,709.1 C1408.0,708.9 1411.0,708.7 1414.0,708.5 C1417.0,708.3 1420.0,708.1 1423.0,707.9 C1426.0,707.7 1429.0,707.4 1432.0,707.2 C1435.0,707.0 1438.0,706.8 1441.0,706.6 C1444.0,706.4 1447.0,706.2 1450.0,706.0 C1453.0,705.8 1456.0,705.6 1459.0,705.4 C1462.0,705.2 1465.0,705.0 1468.0,704.8 C1471.0,704.6 1474.0,704.4 1477.0,704.2 C1480.0,704.0 1483.0,703.8 1486.0,703.6 C1489.0,703.4 1492.0,703.2 1495.0,703.0 C1498.0,702.8 1501.0,702.6 1504.0,702.4 C1507.0,702.2 1510.0,702.0 1513.0,701.8 C1516.0,701.6 1519.0,701.4 1522.0,701.2 C1525.0,701.0 1528.0,700.8 1531.0,700.6 C1534.0,700.4 1537.0,700.2 1540.0,700.0 C1543.0,699.8 1546.0,699.6 1549.0,699.4 C1552.0,699.2 1555.0,699.0 1558.0,698.8 C1561.0,698.6 1564.0,698.4 1567.0,698.2 C1570.0,698.0 1573.0,697.9 1576.0,697.7 C1579.0,697.5 1582.0,697.3 1585.0,697.1 C1588.0,696.9 1591.0,696.7 1594.0,696.5 C1597.0,696.3 1600.0,696.1 1603.0,695.9 C1606.0,695.7 1609.0,695.5 1612.0,695.4 C1615.0,695.2 1618.0,695.0 1621.0,694.8 C1624.0,694.6 1627.0,694.4 1630.0,694.2 C1633.0,694.0 1636.0,693.9 1639.0,693.7 C1642.0,693.5 1645.0,693.3 1648.0,693.1 C1651.0,692.9 1654.0,692.8 1657.0,692.6 C1660.0,692.4 1663.0,692.2 1666.0,692.0 C1669.0,691.9 1672.0,691.7 1675.0,691.5 C1678.0,691.3 1681.0,691.1 1684.0,691.0 C1687.0,690.8 1690.0,690.6 1693.0,690.4 C1696.0,690.3 1699.0,690.1 1702.0,689.9 C1705.0,689.8 1708.0,689.6 1711.0,689.4 C1714.0,689.3 1717.0,689.1 1720.0,689.0 C1723.0,688.8 1726.0,688.7 1729.0,688.5 C1732.0,688.4 1735.0,688.2 1738.0,688.1 C1741.0,687.9 1744.0,687.8 1747.0,687.7 C1750.0,687.6 1753.0,687.4 1756.0,687.3 C1759.0,687.2 1762.0,687.1 1765.0,687.0 C1768.0,686.8 1771.0,686.7 1774.0,686.6 C1777.0,686.5 1780.0,686.4 1783.0,686.3 C1786.0,686.2 1789.0,686.1 1792.0,686.1 C1795.0,686.0 1798.0,685.9 1801.0,685.8 C1804.0,685.7 1807.0,685.7 1810.0,685.6 C1813.0,685.5 1816.0,685.4 1819.0,685.4 C1822.0,685.3 1825.0,685.2 1828.0,685.2 C1831.0,685.1 1834.0,685.1 1837.0,685.0 C1840.0,685.0 1843.0,684.9 1846.0,684.9 C1849.0,684.9 1852.0,684.8 1855.0,684.8 C1858.0,684.8 1861.0,684.7 1864.0,684.7 C1867.0,684.7 1870.0,684.6 1873.0,684.6 C1876.0,684.6 1879.0,684.6 1882.0,684.6 C1885.0,684.6 1888.0,684.6 1891.0,684.6 C1894.0,684.5 1897.0,684.5 1900.0,684.6 C1903.0,684.6 1906.0,684.6 1909.0,684.6 C1912.0,684.6 1915.0,684.6 1918.0,684.6 C1921.0,684.6 1924.0,684.6 1927.0,684.7 C1930.0,684.7 1933.0,684.7 1936.0,684.8 C1939.0,684.8 1942.0,684.8 1945.0,684.9 C1948.0,684.9 1951.0,684.9 1954.0,685.0 C1957.0,685.0 1960.0,685.1 1963.0,685.1 C1966.0,685.2 1969.0,685.2 1972.0,685.3 C1975.0,685.3 1978.0,685.4 1981.0,685.5 C1984.0,685.5 1987.0,685.6 1990.0,685.7 C1993.0,685.8 1996.0,685.8 1999.0,685.9 C2002.0,686.0 2005.0,686.1 2008.0,686.1 C2011.0,686.2 2014.0,686.3 2017.0,686.4 C2020.0,686.5 2023.0,686.6 2026.0,686.7 C2029.0,686.8 2032.0,686.9 2035.0,687.0 C2038.0,687.1 2041.0,687.2 2044.0,687.3 C2047.0,687.4 2050.0,687.5 2053.0,687.6 C2056.0,687.8 2059.0,687.9 2062.0,688.0 C2065.0,688.1 2068.0,688.3 2071.0,688.4 C2074.0,688.5 2077.0,688.6 2080.0,688.8 C2083.0,688.9 2086.0,689.0 2089.0,689.2 C2092.0,689.3 2095.3,689.5 2098.0,689.6 C2100.7,689.7 2103.8,689.9 2105.0,690.0" stroke="#6010c0" stroke-width="4.9"/>
<path d="M325.0,722.2 C326.5,722.6 331.0,723.9 334.0,724.8 C337.0,725.6 340.0,726.5 343.0,727.4 C346.0,728.2 349.0,729.1 352.0,729.9 C355.0,730.7 358.0,731.5 361.0,732.3 C364.0,733.1 367.0,733.9 370.0,734.7 C373.0,735.5 376.0,736.2 379.0,736.9 C382.0,737.6 385.0,738.3 388.0,739.0 C391.0,739.7 394.0,740.3 397.0,740.9 C400.0,741.5 403.0,742.1 406.0,742.6 C409.0,743.2 412.0,743.7 415.0,744.3 C418.0,744.8 421.0,745.4 424.0,745.9 C427.0,746.4 430.0,747.0 433.0,747.5 C436.0,748.0 439.0,748.5 442.0,749.0 C445.0,749.5 448.0,750.0 451.0,750.4 C454.0,750.9 457.0,751.4 460.0,751.8 C463.0,752.3 466.0,752.8 469.0,753.2 C472.0,753.7 475.0,754.1 478.0,754.5 C481.0,754.9 484.0,755.4 487.0,755.8 C490.0,756.2 493.0,756.6 496.0,757.0 C499.0,757.4 502.0,757.8 505.0,758.2 C508.0,758.6 511.0,758.9 514.0,759.3 C517.0,759.7 520.0,760.0 523.0,760.4 C526.0,760.7 529.0,761.1 532.0,761.4 C535.0,761.8 538.0,762.1 541.0,762.4 C544.0,762.7 547.0,763.0 550.0,763.4 C553.0,763.7 556.0,764.0 559.0,764.3 C562.0,764.6 565.0,764.8 568.0,765.1 C571.0,765.4 574.0,765.7 577.0,765.9 C580.0,766.2 583.0,766.4 586.0,766.7 C589.0,766.9 592.0,767.1 595.0,767.3 C598.0,767.5 601.0,767.7 604.0,767.8 C607.0,767.9 610.0,768.0 613.0,768.1 C616.0,768.2 619.0,768.3 622.0,768.3 C625.0,768.3 628.0,768.3 631.0,768.2 C634.0,768.1 637.0,768.0 640.0,767.9 C643.0,767.7 646.0,767.5 649.0,767.3 C652.0,767.0 655.0,766.7 658.0,766.3 C661.0,765.9 664.0,765.4 667.0,764.9 C670.0,764.4 673.0,763.8 676.0,763.1 C679.0,762.5 682.0,761.7 685.0,760.9 C688.0,760.1 691.0,759.2 694.0,758.3 C697.0,757.3 700.0,756.2 703.0,755.1 C706.0,754.0 709.0,752.8 712.0,751.5 C715.0,750.2 718.0,748.8 721.0,747.3 C724.0,745.8 727.0,744.2 730.0,742.6 C733.0,740.9 736.0,739.2 739.0,737.4 C742.0,735.7 745.0,733.8 748.0,731.9 C751.0,730.1 754.0,728.1 757.0,726.2 C760.0,724.2 763.0,722.2 766.0,720.2 C769.0,718.2 772.0,716.2 775.0,714.2 C778.0,712.2 781.0,710.2 784.0,708.2 C787.0,706.2 790.0,704.2 793.0,702.3 C796.0,700.3 799.0,698.4 802.0,696.5 C805.0,694.7 808.0,692.8 811.0,691.1 C814.0,689.3 817.0,687.6 820.0,686.0 C823.0,684.3 826.0,682.8 829.0,681.3 C832.0,679.8 835.0,678.5 838.0,677.2 C841.0,675.9 844.0,674.7 847.0,673.6 C850.0,672.5 853.0,671.4 856.0,670.5 C859.0,669.6 862.0,668.7 865.0,667.9 C868.0,667.2 871.0,666.5 874.0,665.9 C877.0,665.3 880.0,664.8 883.0,664.4 C886.0,664.0 889.0,663.6 892.0,663.4 C895.0,663.1 898.0,663.0 901.0,662.9 C904.0,662.8 907.0,662.8 910.0,662.9 C913.0,663.0 916.0,663.2 919.0,663.4 C922.0,663.7 925.0,664.0 928.0,664.5 C931.0,664.9 934.0,665.4 937.0,666.0 C940.0,666.6 943.0,667.3 946.0,668.1 C949.0,668.8 952.0,669.7 955.0,670.6 C958.0,671.5 961.0,672.5 964.0,673.6 C967.0,674.6 970.0,675.8 973.0,676.9 C976.0,678.1 979.0,679.3 982.0,680.6 C985.0,681.8 988.0,683.1 991.0,684.4 C994.0,685.7 997.0,687.0 1000.0,688.4 C1003.0,689.7 1006.0,691.1 1009.0,692.4 C1012.0,693.8 1015.0,695.1 1018.0,696.4 C1021.0,697.8 1024.0,699.1 1027.0,700.4 C1030.0,701.6 1033.0,702.9 1036.0,704.1 C1039.0,705.3 1042.0,706.5 1045.0,707.7 C1048.0,708.8 1051.0,709.9 1054.0,710.9 C1057.0,712.0 1060.0,712.9 1063.0,713.9 C1066.0,714.8 1069.0,715.7 1072.0,716.5 C1075.0,717.3 1078.0,718.1 1081.0,718.8 C1084.0,719.5 1087.0,720.2 1090.0,720.8 C1093.0,721.4 1096.0,721.9 1099.0,722.4 C1102.0,722.9 1105.0,723.3 1108.0,723.7 C1111.0,724.1 1114.0,724.5 1117.0,724.8 C1120.0,725.1 1123.0,725.4 1126.0,725.7 C1129.0,726.0 1132.0,726.2 1135.0,726.5 C1138.0,726.7 1141.0,726.9 1144.0,727.0 C1147.0,727.2 1150.0,727.3 1153.0,727.4 C1156.0,727.5 1159.0,727.6 1162.0,727.7 C1165.0,727.8 1168.0,727.8 1171.0,727.8 C1174.0,727.8 1177.0,727.8 1180.0,727.8 C1183.0,727.8 1186.0,727.8 1189.0,727.7 C1192.0,727.7 1195.0,727.6 1198.0,727.5 C1201.0,727.4 1204.0,727.3 1207.0,727.2 C1210.0,727.1 1213.0,727.0 1216.0,726.8 C1219.0,726.7 1222.0,726.6 1225.0,726.4 C1228.0,726.2 1231.0,726.1 1234.0,725.9 C1237.0,725.7 1240.0,725.5 1243.0,725.4 C1246.0,725.2 1249.0,725.0 1252.0,724.8 C1255.0,724.6 1258.0,724.4 1261.0,724.2 C1264.0,724.0 1267.0,723.8 1270.0,723.6 C1273.0,723.4 1276.0,723.2 1279.0,723.0 C1282.0,722.8 1285.0,722.6 1288.0,722.3 C1291.0,722.1 1294.0,721.9 1297.0,721.7 C1300.0,721.5 1303.0,721.3 1306.0,721.1 C1309.0,720.9 1312.0,720.7 1315.0,720.5 C1318.0,720.3 1321.0,720.0 1324.0,719.8 C1327.0,719.6 1330.0,719.4 1333.0,719.2 C1336.0,719.0 1339.0,718.8 1342.0,718.6 C1345.0,718.3 1348.0,718.1 1351.0,717.9 C1354.0,717.7 1357.0,717.5 1360.0,717.3 C1363.0,717.1 1366.0,716.8 1369.0,716.6 C1372.0,716.4 1375.0,716.2 1378.0,716.0 C1381.0,715.8 1384.0,715.6 1387.0,715.3 C1390.0,715.1 1393.0,714.9 1396.0,714.7 C1399.0,714.5 1402.0,714.3 1405.0,714.0 C1408.0,713.8 1411.0,713.6 1414.0,713.4 C1417.0,713.2 1420.0,713.0 1423.0,712.7 C1426.0,712.5 1429.0,712.3 1432.0,712.1 C1435.0,711.8 1438.0,711.6 1441.0,711.4 C1444.0,711.2 1447.0,711.0 1450.0,710.7 C1453.0,710.5 1456.0,710.3 1459.0,710.1 C1462.0,709.8 1465.0,709.6 1468.0,709.4 C1471.0,709.1 1474.0,708.9 1477.0,708.7 C1480.0,708.5 1483.0,708.2 1486.0,708.0 C1489.0,707.8 1492.0,707.6 1495.0,707.3 C1498.0,707.1 1501.0,706.9 1504.0,706.6 C1507.0,706.4 1510.0,706.2 1513.0,706.0 C1516.0,705.7 1519.0,705.5 1522.0,705.3 C1525.0,705.1 1528.0,704.8 1531.0,704.6 C1534.0,704.4 1537.0,704.2 1540.0,703.9 C1543.0,703.7 1546.0,703.5 1549.0,703.3 C1552.0,703.0 1555.0,702.8 1558.0,702.6 C1561.0,702.4 1564.0,702.1 1567.0,701.9 C1570.0,701.7 1573.0,701.5 1576.0,701.3 C1579.0,701.0 1582.0,700.8 1585.0,700.6 C1588.0,700.4 1591.0,700.2 1594.0,700.0 C1597.0,699.8 1600.0,699.5 1603.0,699.3 C1606.0,699.1 1609.0,698.9 1612.0,698.7 C1615.0,698.5 1618.0,698.3 1621.0,698.1 C1624.0,697.9 1627.0,697.7 1630.0,697.5 C1633.0,697.3 1636.0,697.0 1639.0,696.8 C1642.0,696.6 1645.0,696.4 1648.0,696.3 C1651.0,696.1 1654.0,695.9 1657.0,695.7 C1660.0,695.5 1663.0,695.3 1666.0,695.1 C1669.0,694.9 1672.0,694.7 1675.0,694.5 C1678.0,694.3 1681.0,694.2 1684.0,694.0 C1687.0,693.8 1690.0,693.6 1693.0,693.4 C1696.0,693.3 1699.0,693.1 1702.0,692.9 C1705.0,692.8 1708.0,692.6 1711.0,692.4 C1714.0,692.3 1717.0,692.1 1720.0,691.9 C1723.0,691.8 1726.0,691.6 1729.0,691.5 C1732.0,691.4 1735.0,691.2 1738.0,691.1 C1741.0,690.9 1744.0,690.8 1747.0,690.7 C1750.0,690.5 1753.0,690.4 1756.0,690.3 C1759.0,690.2 1762.0,690.0 1765.0,689.9 C1768.0,689.8 1771.0,689.7 1774.0,689.6 C1777.0,689.5 1780.0,689.4 1783.0,689.3 C1786.0,689.2 1789.0,689.1 1792.0,689.0 C1795.0,688.9 1798.0,688.8 1801.0,688.7 C1804.0,688.7 1807.0,688.6 1810.0,688.5 C1813.0,688.4 1816.0,688.3 1819.0,688.3 C1822.0,688.2 1825.0,688.1 1828.0,688.1 C1831.0,688.0 1834.0,688.0 1837.0,687.9 C1840.0,687.9 1843.0,687.8 1846.0,687.8 C1849.0,687.7 1852.0,687.7 1855.0,687.6 C1858.0,687.6 1861.0,687.6 1864.0,687.5 C1867.0,687.5 1870.0,687.5 1873.0,687.5 C1876.0,687.4 1879.0,687.4 1882.0,687.4 C1885.0,687.4 1888.0,687.4 1891.0,687.4 C1894.0,687.4 1897.0,687.4 1900.0,687.4 C1903.0,687.4 1906.0,687.4 1909.0,687.4 C1912.0,687.4 1915.0,687.4 1918.0,687.4 C1921.0,687.4 1924.0,687.4 1927.0,687.5 C1930.0,687.5 1933.0,687.5 1936.0,687.5 C1939.0,687.6 1942.0,687.6 1945.0,687.6 C1948.0,687.7 1951.0,687.7 1954.0,687.8 C1957.0,687.8 1960.0,687.8 1963.0,687.9 C1966.0,687.9 1969.0,688.0 1972.0,688.1 C1975.0,688.1 1978.0,688.2 1981.0,688.2 C1984.0,688.3 1987.0,688.4 1990.0,688.5 C1993.0,688.5 1996.0,688.6 1999.0,688.7 C2002.0,688.8 2005.0,688.8 2008.0,688.9 C2011.0,689.0 2014.0,689.1 2017.0,689.2 C2020.0,689.3 2023.0,689.4 2026.0,689.5 C2029.0,689.6 2032.0,689.7 2035.0,689.8 C2038.0,689.9 2041.0,690.0 2044.0,690.1 C2047.0,690.3 2050.0,690.4 2053.0,690.5 C2056.0,690.6 2059.0,690.7 2062.0,690.9 C2065.0,691.0 2068.0,691.1 2071.0,691.3 C2074.0,691.4 2077.0,691.5 2080.0,691.7 C2083.0,691.8 2086.0,692.0 2089.0,692.1 C2092.0,692.3 2095.3,692.4 2098.0,692.6 C2100.7,692.7 2103.8,692.9 2105.0,693.0" stroke="#8a20a8" stroke-width="4.9"/>
<path d="M325.0,728.2 C326.5,728.6 331.0,729.8 334.0,730.6 C337.0,731.4 340.0,732.2 343.0,733.0 C346.0,733.8 349.0,734.6 352.0,735.4 C355.0,736.2 358.0,737.0 361.0,737.7 C364.0,738.5 367.0,739.2 370.0,739.9 C373.0,740.7 376.0,741.4 379.0,742.1 C382.0,742.7 385.0,743.4 388.0,744.1 C391.0,744.7 394.0,745.3 397.0,745.9 C400.0,746.5 403.0,747.1 406.0,747.6 C409.0,748.2 412.0,748.7 415.0,749.3 C418.0,749.8 421.0,750.4 424.0,750.9 C427.0,751.4 430.0,751.9 433.0,752.4 C436.0,752.9 439.0,753.4 442.0,753.9 C445.0,754.4 448.0,754.9 451.0,755.4 C454.0,755.8 457.0,756.3 460.0,756.7 C463.0,757.2 466.0,757.6 469.0,758.1 C472.0,758.5 475.0,758.9 478.0,759.3 C481.0,759.8 484.0,760.2 487.0,760.6 C490.0,761.0 493.0,761.4 496.0,761.7 C499.0,762.1 502.0,762.5 505.0,762.9 C508.0,763.2 511.0,763.6 514.0,763.9 C517.0,764.3 520.0,764.6 523.0,765.0 C526.0,765.3 529.0,765.6 532.0,766.0 C535.0,766.3 538.0,766.6 541.0,766.9 C544.0,767.2 547.0,767.5 550.0,767.8 C553.0,768.1 556.0,768.4 559.0,768.7 C562.0,768.9 565.0,769.2 568.0,769.5 C571.0,769.7 574.0,770.0 577.0,770.2 C580.0,770.5 583.0,770.7 586.0,770.9 C589.0,771.1 592.0,771.3 595.0,771.5 C598.0,771.7 601.0,771.8 604.0,771.9 C607.0,772.1 610.0,772.2 613.0,772.2 C616.0,772.3 619.0,772.3 622.0,772.3 C625.0,772.3 628.0,772.3 631.0,772.2 C634.0,772.2 637.0,772.1 640.0,771.9 C643.0,771.7 646.0,771.5 649.0,771.2 C652.0,771.0 655.0,770.6 658.0,770.2 C661.0,769.8 664.0,769.4 667.0,768.9 C670.0,768.3 673.0,767.7 676.0,767.1 C679.0,766.4 682.0,765.7 685.0,764.9 C688.0,764.1 691.0,763.2 694.0,762.2 C697.0,761.2 700.0,760.2 703.0,759.1 C706.0,757.9 709.0,756.7 712.0,755.4 C715.0,754.2 718.0,752.8 721.0,751.3 C724.0,749.8 727.0,748.3 730.0,746.6 C733.0,745.0 736.0,743.3 739.0,741.5 C742.0,739.8 745.0,737.9 748.0,736.1 C751.0,734.2 754.0,732.3 757.0,730.3 C760.0,728.4 763.0,726.4 766.0,724.5 C769.0,722.5 772.0,720.5 775.0,718.5 C778.0,716.5 781.0,714.5 784.0,712.5 C787.0,710.5 790.0,708.6 793.0,706.6 C796.0,704.7 799.0,702.8 802.0,701.0 C805.0,699.1 808.0,697.3 811.0,695.5 C814.0,693.8 817.0,692.1 820.0,690.5 C823.0,688.9 826.0,687.3 829.0,685.9 C832.0,684.5 835.0,683.1 838.0,681.8 C841.0,680.5 844.0,679.4 847.0,678.3 C850.0,677.2 853.0,676.2 856.0,675.2 C859.0,674.3 862.0,673.5 865.0,672.7 C868.0,672.0 871.0,671.3 874.0,670.7 C877.0,670.2 880.0,669.7 883.0,669.3 C886.0,668.9 889.0,668.5 892.0,668.3 C895.0,668.1 898.0,667.9 901.0,667.8 C904.0,667.8 907.0,667.8 910.0,667.9 C913.0,668.0 916.0,668.2 919.0,668.4 C922.0,668.7 925.0,669.0 928.0,669.5 C931.0,669.9 934.0,670.4 937.0,671.0 C940.0,671.6 943.0,672.3 946.0,673.1 C949.0,673.8 952.0,674.7 955.0,675.7 C958.0,676.6 961.0,677.6 964.0,678.7 C967.0,679.8 970.0,681.0 973.0,682.2 C976.0,683.4 979.0,684.6 982.0,685.9 C985.0,687.2 988.0,688.5 991.0,689.9 C994.0,691.2 997.0,692.6 1000.0,694.0 C1003.0,695.4 1006.0,696.8 1009.0,698.2 C1012.0,699.6 1015.0,701.0 1018.0,702.4 C1021.0,703.8 1024.0,705.2 1027.0,706.5 C1030.0,707.8 1033.0,709.2 1036.0,710.4 C1039.0,711.7 1042.0,712.9 1045.0,714.1 C1048.0,715.3 1051.0,716.4 1054.0,717.5 C1057.0,718.6 1060.0,719.6 1063.0,720.6 C1066.0,721.6 1069.0,722.5 1072.0,723.4 C1075.0,724.2 1078.0,725.0 1081.0,725.7 C1084.0,726.5 1087.0,727.2 1090.0,727.8 C1093.0,728.4 1096.0,728.9 1099.0,729.4 C1102.0,729.9 1105.0,730.3 1108.0,730.7 C1111.0,731.1 1114.0,731.5 1117.0,731.8 C1120.0,732.1 1123.0,732.5 1126.0,732.7 C1129.0,733.0 1132.0,733.3 1135.0,733.5 C1138.0,733.7 1141.0,733.9 1144.0,734.1 C1147.0,734.2 1150.0,734.4 1153.0,734.5 C1156.0,734.6 1159.0,734.7 1162.0,734.8 C1165.0,734.8 1168.0,734.9 1171.0,734.9 C1174.0,734.9 1177.0,734.9 1180.0,734.9 C1183.0,734.9 1186.0,734.9 1189.0,734.9 C1192.0,734.8 1195.0,734.7 1198.0,734.7 C1201.0,734.6 1204.0,734.5 1207.0,734.4 C1210.0,734.3 1213.0,734.2 1216.0,734.1 C1219.0,733.9 1222.0,733.8 1225.0,733.6 C1228.0,733.5 1231.0,733.3 1234.0,733.2 C1237.0,733.0 1240.0,732.8 1243.0,732.7 C1246.0,732.5 1249.0,732.3 1252.0,732.1 C1255.0,731.9 1258.0,731.8 1261.0,731.6 C1264.0,731.4 1267.0,731.2 1270.0,731.0 C1273.0,730.8 1276.0,730.6 1279.0,730.4 C1282.0,730.2 1285.0,730.0 1288.0,729.8 C1291.0,729.6 1294.0,729.4 1297.0,729.3 C1300.0,729.1 1303.0,728.9 1306.0,728.7 C1309.0,728.5 1312.0,728.3 1315.0,728.1 C1318.0,727.9 1321.0,727.7 1324.0,727.5 C1327.0,727.3 1330.0,727.1 1333.0,726.9 C1336.0,726.7 1339.0,726.5 1342.0,726.3 C1345.0,726.1 1348.0,725.9 1351.0,725.7 C1354.0,725.5 1357.0,725.3 1360.0,725.1 C1363.0,724.9 1366.0,724.7 1369.0,724.5 C1372.0,724.3 1375.0,724.1 1378.0,723.9 C1381.0,723.7 1384.0,723.5 1387.0,723.3 C1390.0,723.1 1393.0,722.9 1396.0,722.7 C1399.0,722.5 1402.0,722.3 1405.0,722.1 C1408.0,721.9 1411.0,721.6 1414.0,721.4 C1417.0,721.2 1420.0,721.0 1423.0,720.8 C1426.0,720.5 1429.0,720.3 1432.0,720.1 C1435.0,719.9 1438.0,719.6 1441.0,719.4 C1444.0,719.1 1447.0,718.9 1450.0,718.7 C1453.0,718.4 1456.0,718.2 1459.0,717.9 C1462.0,717.7 1465.0,717.4 1468.0,717.2 C1471.0,716.9 1474.0,716.7 1477.0,716.4 C1480.0,716.1 1483.0,715.9 1486.0,715.6 C1489.0,715.3 1492.0,715.1 1495.0,714.8 C1498.0,714.6 1501.0,714.3 1504.0,714.0 C1507.0,713.7 1510.0,713.5 1513.0,713.2 C1516.0,712.9 1519.0,712.7 1522.0,712.4 C1525.0,712.1 1528.0,711.8 1531.0,711.6 C1534.0,711.3 1537.0,711.0 1540.0,710.8 C1543.0,710.5 1546.0,710.2 1549.0,709.9 C1552.0,709.7 1555.0,709.4 1558.0,709.1 C1561.0,708.9 1564.0,708.6 1567.0,708.3 C1570.0,708.1 1573.0,707.8 1576.0,707.5 C1579.0,707.2 1582.0,707.0 1585.0,706.7 C1588.0,706.5 1591.0,706.2 1594.0,705.9 C1597.0,705.7 1600.0,705.4 1603.0,705.2 C1606.0,704.9 1609.0,704.6 1612.0,704.4 C1615.0,704.1 1618.0,703.9 1621.0,703.7 C1624.0,703.4 1627.0,703.2 1630.0,702.9 C1633.0,702.7 1636.0,702.4 1639.0,702.2 C1642.0,702.0 1645.0,701.8 1648.0,701.5 C1651.0,701.3 1654.0,701.1 1657.0,700.9 C1660.0,700.6 1663.0,700.4 1666.0,700.2 C1669.0,700.0 1672.0,699.8 1675.0,699.6 C1678.0,699.4 1681.0,699.2 1684.0,699.0 C1687.0,698.8 1690.0,698.6 1693.0,698.5 C1696.0,698.3 1699.0,698.1 1702.0,697.9 C1705.0,697.8 1708.0,697.6 1711.0,697.4 C1714.0,697.3 1717.0,697.1 1720.0,696.9 C1723.0,696.8 1726.0,696.6 1729.0,696.5 C1732.0,696.3 1735.0,696.2 1738.0,696.0 C1741.0,695.9 1744.0,695.7 1747.0,695.6 C1750.0,695.5 1753.0,695.3 1756.0,695.2 C1759.0,695.1 1762.0,694.9 1765.0,694.8 C1768.0,694.7 1771.0,694.6 1774.0,694.4 C1777.0,694.3 1780.0,694.2 1783.0,694.1 C1786.0,694.0 1789.0,693.9 1792.0,693.8 C1795.0,693.7 1798.0,693.6 1801.0,693.5 C1804.0,693.4 1807.0,693.3 1810.0,693.2 C1813.0,693.1 1816.0,693.0 1819.0,692.9 C1822.0,692.8 1825.0,692.7 1828.0,692.7 C1831.0,692.6 1834.0,692.5 1837.0,692.4 C1840.0,692.4 1843.0,692.3 1846.0,692.2 C1849.0,692.2 1852.0,692.1 1855.0,692.1 C1858.0,692.0 1861.0,692.0 1864.0,691.9 C1867.0,691.9 1870.0,691.8 1873.0,691.8 C1876.0,691.7 1879.0,691.7 1882.0,691.6 C1885.0,691.6 1888.0,691.6 1891.0,691.6 C1894.0,691.5 1897.0,691.5 1900.0,691.5 C1903.0,691.5 1906.0,691.4 1909.0,691.4 C1912.0,691.4 1915.0,691.4 1918.0,691.4 C1921.0,691.4 1924.0,691.4 1927.0,691.4 C1930.0,691.4 1933.0,691.4 1936.0,691.4 C1939.0,691.4 1942.0,691.4 1945.0,691.4 C1948.0,691.5 1951.0,691.5 1954.0,691.5 C1957.0,691.5 1960.0,691.6 1963.0,691.6 C1966.0,691.6 1969.0,691.6 1972.0,691.7 C1975.0,691.7 1978.0,691.8 1981.0,691.8 C1984.0,691.9 1987.0,691.9 1990.0,692.0 C1993.0,692.0 1996.0,692.1 1999.0,692.1 C2002.0,692.2 2005.0,692.3 2008.0,692.3 C2011.0,692.4 2014.0,692.5 2017.0,692.6 C2020.0,692.6 2023.0,692.7 2026.0,692.8 C2029.0,692.9 2032.0,693.0 2035.0,693.1 C2038.0,693.2 2041.0,693.3 2044.0,693.4 C2047.0,693.5 2050.0,693.6 2053.0,693.7 C2056.0,693.8 2059.0,693.9 2062.0,694.0 C2065.0,694.1 2068.0,694.2 2071.0,694.4 C2074.0,694.5 2077.0,694.6 2080.0,694.8 C2083.0,694.9 2086.0,695.0 2089.0,695.2 C2092.0,695.3 2095.3,695.5 2098.0,695.6 C2100.7,695.7 2103.8,695.9 2105.0,696.0" stroke="#c82848" stroke-width="4.9"/>
<path d="M325.0,732.2 C326.5,732.6 331.0,733.9 334.0,734.8 C337.0,735.6 340.0,736.5 343.0,737.4 C346.0,738.2 349.0,739.1 352.0,739.9 C355.0,740.7 358.0,741.5 361.0,742.3 C364.0,743.1 367.0,743.9 370.0,744.7 C373.0,745.5 376.0,746.2 379.0,746.9 C382.0,747.6 385.0,748.3 388.0,749.0 C391.0,749.7 394.0,750.3 397.0,750.9 C400.0,751.5 403.0,752.1 406.0,752.6 C409.0,753.2 412.0,753.7 415.0,754.3 C418.0,754.8 421.0,755.4 424.0,755.9 C427.0,756.4 430.0,757.0 433.0,757.5 C436.0,758.0 439.0,758.5 442.0,759.0 C445.0,759.5 448.0,760.0 451.0,760.4 C454.0,760.9 457.0,761.4 460.0,761.8 C463.0,762.3 466.0,762.8 469.0,763.2 C472.0,763.6 475.0,764.1 478.0,764.5 C481.0,764.9 484.0,765.4 487.0,765.8 C490.0,766.2 493.0,766.6 496.0,767.0 C499.0,767.4 502.0,767.8 505.0,768.2 C508.0,768.5 511.0,768.9 514.0,769.3 C517.0,769.7 520.0,770.0 523.0,770.4 C526.0,770.7 529.0,771.1 532.0,771.4 C535.0,771.7 538.0,772.1 541.0,772.4 C544.0,772.7 547.0,773.0 550.0,773.3 C553.0,773.7 556.0,774.0 559.0,774.2 C562.0,774.5 565.0,774.8 568.0,775.1 C571.0,775.4 574.0,775.7 577.0,775.9 C580.0,776.2 583.0,776.4 586.0,776.7 C589.0,776.9 592.0,777.1 595.0,777.3 C598.0,777.5 601.0,777.6 604.0,777.8 C607.0,777.9 610.0,778.0 613.0,778.1 C616.0,778.2 619.0,778.2 622.0,778.3 C625.0,778.3 628.0,778.3 631.0,778.2 C634.0,778.1 637.0,778.0 640.0,777.9 C643.0,777.7 646.0,777.5 649.0,777.3 C652.0,777.0 655.0,776.7 658.0,776.3 C661.0,775.9 664.0,775.5 667.0,775.0 C670.0,774.4 673.0,773.9 676.0,773.2 C679.0,772.5 682.0,771.8 685.0,771.0 C688.0,770.2 691.0,769.3 694.0,768.4 C697.0,767.4 700.0,766.4 703.0,765.2 C706.0,764.1 709.0,762.9 712.0,761.6 C715.0,760.3 718.0,758.9 721.0,757.5 C724.0,756.0 727.0,754.4 730.0,752.8 C733.0,751.2 736.0,749.5 739.0,747.7 C742.0,746.0 745.0,744.1 748.0,742.3 C751.0,740.4 754.0,738.5 757.0,736.5 C760.0,734.6 763.0,732.6 766.0,730.6 C769.0,728.7 772.0,726.6 775.0,724.7 C778.0,722.7 781.0,720.7 784.0,718.7 C787.0,716.7 790.0,714.7 793.0,712.8 C796.0,710.9 799.0,708.9 802.0,707.1 C805.0,705.2 808.0,703.4 811.0,701.7 C814.0,699.9 817.0,698.2 820.0,696.6 C823.0,695.0 826.0,693.5 829.0,692.0 C832.0,690.6 835.0,689.2 838.0,687.9 C841.0,686.6 844.0,685.5 847.0,684.4 C850.0,683.3 853.0,682.2 856.0,681.3 C859.0,680.4 862.0,679.5 865.0,678.8 C868.0,678.0 871.0,677.4 874.0,676.8 C877.0,676.2 880.0,675.7 883.0,675.3 C886.0,674.9 889.0,674.6 892.0,674.3 C895.0,674.1 898.0,673.9 901.0,673.9 C904.0,673.8 907.0,673.8 910.0,673.9 C913.0,674.0 916.0,674.2 919.0,674.4 C922.0,674.7 925.0,675.0 928.0,675.5 C931.0,675.9 934.0,676.4 937.0,677.0 C940.0,677.6 943.0,678.3 946.0,679.1 C949.0,679.8 952.0,680.7 955.0,681.6 C958.0,682.5 961.0,683.5 964.0,684.5 C967.0,685.5 970.0,686.6 973.0,687.8 C976.0,688.9 979.0,690.1 982.0,691.3 C985.0,692.5 988.0,693.8 991.0,695.0 C994.0,696.3 997.0,697.6 1000.0,698.9 C1003.0,700.2 1006.0,701.5 1009.0,702.8 C1012.0,704.1 1015.0,705.4 1018.0,706.7 C1021.0,708.0 1024.0,709.3 1027.0,710.5 C1030.0,711.8 1033.0,713.0 1036.0,714.2 C1039.0,715.4 1042.0,716.5 1045.0,717.6 C1048.0,718.7 1051.0,719.8 1054.0,720.8 C1057.0,721.8 1060.0,722.8 1063.0,723.7 C1066.0,724.7 1069.0,725.5 1072.0,726.4 C1075.0,727.2 1078.0,728.0 1081.0,728.7 C1084.0,729.4 1087.0,730.1 1090.0,730.7 C1093.0,731.3 1096.0,731.9 1099.0,732.4 C1102.0,732.9 1105.0,733.4 1108.0,733.8 C1111.0,734.2 1114.0,734.6 1117.0,735.0 C1120.0,735.4 1123.0,735.7 1126.0,736.0 C1129.0,736.4 1132.0,736.6 1135.0,736.9 C1138.0,737.1 1141.0,737.4 1144.0,737.6 C1147.0,737.8 1150.0,737.9 1153.0,738.1 C1156.0,738.2 1159.0,738.4 1162.0,738.5 C1165.0,738.6 1168.0,738.7 1171.0,738.7 C1174.0,738.8 1177.0,738.8 1180.0,738.8 C1183.0,738.8 1186.0,738.8 1189.0,738.8 C1192.0,738.8 1195.0,738.8 1198.0,738.7 C1201.0,738.7 1204.0,738.6 1207.0,738.5 C1210.0,738.5 1213.0,738.4 1216.0,738.3 C1219.0,738.2 1222.0,738.1 1225.0,737.9 C1228.0,737.8 1231.0,737.7 1234.0,737.5 C1237.0,737.4 1240.0,737.2 1243.0,737.1 C1246.0,736.9 1249.0,736.8 1252.0,736.6 C1255.0,736.4 1258.0,736.3 1261.0,736.1 C1264.0,735.9 1267.0,735.8 1270.0,735.6 C1273.0,735.4 1276.0,735.2 1279.0,735.1 C1282.0,734.9 1285.0,734.7 1288.0,734.5 C1291.0,734.4 1294.0,734.2 1297.0,734.0 C1300.0,733.8 1303.0,733.6 1306.0,733.5 C1309.0,733.3 1312.0,733.1 1315.0,732.9 C1318.0,732.7 1321.0,732.5 1324.0,732.3 C1327.0,732.2 1330.0,732.0 1333.0,731.8 C1336.0,731.6 1339.0,731.4 1342.0,731.2 C1345.0,731.0 1348.0,730.8 1351.0,730.6 C1354.0,730.4 1357.0,730.2 1360.0,730.1 C1363.0,729.9 1366.0,729.7 1369.0,729.5 C1372.0,729.3 1375.0,729.1 1378.0,728.9 C1381.0,728.7 1384.0,728.5 1387.0,728.3 C1390.0,728.1 1393.0,727.9 1396.0,727.7 C1399.0,727.5 1402.0,727.3 1405.0,727.1 C1408.0,726.9 1411.0,726.6 1414.0,726.4 C1417.0,726.2 1420.0,726.0 1423.0,725.8 C1426.0,725.5 1429.0,725.3 1432.0,725.1 C1435.0,724.8 1438.0,724.6 1441.0,724.3 C1444.0,724.1 1447.0,723.8 1450.0,723.6 C1453.0,723.3 1456.0,723.1 1459.0,722.8 C1462.0,722.6 1465.0,722.3 1468.0,722.0 C1471.0,721.8 1474.0,721.5 1477.0,721.2 C1480.0,721.0 1483.0,720.7 1486.0,720.4 C1489.0,720.1 1492.0,719.9 1495.0,719.6 C1498.0,719.3 1501.0,719.0 1504.0,718.7 C1507.0,718.5 1510.0,718.2 1513.0,717.9 C1516.0,717.6 1519.0,717.3 1522.0,717.0 C1525.0,716.7 1528.0,716.5 1531.0,716.2 C1534.0,715.9 1537.0,715.6 1540.0,715.3 C1543.0,715.0 1546.0,714.7 1549.0,714.4 C1552.0,714.2 1555.0,713.9 1558.0,713.6 C1561.0,713.3 1564.0,713.0 1567.0,712.7 C1570.0,712.5 1573.0,712.2 1576.0,711.9 C1579.0,711.6 1582.0,711.3 1585.0,711.0 C1588.0,710.8 1591.0,710.5 1594.0,710.2 C1597.0,709.9 1600.0,709.7 1603.0,709.4 C1606.0,709.1 1609.0,708.9 1612.0,708.6 C1615.0,708.3 1618.0,708.1 1621.0,707.8 C1624.0,707.6 1627.0,707.3 1630.0,707.1 C1633.0,706.8 1636.0,706.6 1639.0,706.3 C1642.0,706.1 1645.0,705.8 1648.0,705.6 C1651.0,705.4 1654.0,705.1 1657.0,704.9 C1660.0,704.7 1663.0,704.5 1666.0,704.3 C1669.0,704.0 1672.0,703.8 1675.0,703.6 C1678.0,703.4 1681.0,703.2 1684.0,703.0 C1687.0,702.8 1690.0,702.6 1693.0,702.5 C1696.0,702.3 1699.0,702.1 1702.0,701.9 C1705.0,701.8 1708.0,701.6 1711.0,701.4 C1714.0,701.3 1717.0,701.1 1720.0,700.9 C1723.0,700.8 1726.0,700.6 1729.0,700.5 C1732.0,700.3 1735.0,700.2 1738.0,700.0 C1741.0,699.9 1744.0,699.7 1747.0,699.6 C1750.0,699.5 1753.0,699.3 1756.0,699.2 C1759.0,699.0 1762.0,698.9 1765.0,698.8 C1768.0,698.7 1771.0,698.5 1774.0,698.4 C1777.0,698.3 1780.0,698.2 1783.0,698.1 C1786.0,698.0 1789.0,697.8 1792.0,697.7 C1795.0,697.6 1798.0,697.5 1801.0,697.4 C1804.0,697.3 1807.0,697.2 1810.0,697.1 C1813.0,697.0 1816.0,697.0 1819.0,696.9 C1822.0,696.8 1825.0,696.7 1828.0,696.6 C1831.0,696.5 1834.0,696.5 1837.0,696.4 C1840.0,696.3 1843.0,696.2 1846.0,696.2 C1849.0,696.1 1852.0,696.1 1855.0,696.0 C1858.0,695.9 1861.0,695.9 1864.0,695.8 C1867.0,695.8 1870.0,695.7 1873.0,695.7 C1876.0,695.6 1879.0,695.6 1882.0,695.6 C1885.0,695.5 1888.0,695.5 1891.0,695.5 C1894.0,695.4 1897.0,695.4 1900.0,695.4 C1903.0,695.4 1906.0,695.3 1909.0,695.3 C1912.0,695.3 1915.0,695.3 1918.0,695.3 C1921.0,695.3 1924.0,695.3 1927.0,695.3 C1930.0,695.3 1933.0,695.3 1936.0,695.3 C1939.0,695.3 1942.0,695.3 1945.0,695.3 C1948.0,695.3 1951.0,695.4 1954.0,695.4 C1957.0,695.4 1960.0,695.4 1963.0,695.5 C1966.0,695.5 1969.0,695.5 1972.0,695.6 C1975.0,695.6 1978.0,695.7 1981.0,695.7 C1984.0,695.7 1987.0,695.8 1990.0,695.9 C1993.0,695.9 1996.0,696.0 1999.0,696.0 C2002.0,696.1 2005.0,696.2 2008.0,696.2 C2011.0,696.3 2014.0,696.4 2017.0,696.5 C2020.0,696.5 2023.0,696.6 2026.0,696.7 C2029.0,696.8 2032.0,696.9 2035.0,697.0 C2038.0,697.1 2041.0,697.2 2044.0,697.3 C2047.0,697.4 2050.0,697.5 2053.0,697.6 C2056.0,697.7 2059.0,697.8 2062.0,697.9 C2065.0,698.1 2068.0,698.2 2071.0,698.3 C2074.0,698.4 2077.0,698.6 2080.0,698.7 C2083.0,698.9 2086.0,699.0 2089.0,699.1 C2092.0,699.3 2095.3,699.5 2098.0,699.6 C2100.7,699.7 2103.8,699.9 2105.0,700.0" stroke="#d87048" stroke-width="4.9"/>
<path d="M325.0,736.2 C326.5,736.6 331.0,737.9 334.0,738.8 C337.0,739.6 340.0,740.5 343.0,741.3 C346.0,742.2 349.0,743.0 352.0,743.9 C355.0,744.7 358.0,745.5 361.0,746.3 C364.0,747.1 367.0,747.9 370.0,748.7 C373.0,749.4 376.0,750.2 379.0,750.9 C382.0,751.6 385.0,752.3 388.0,753.0 C391.0,753.7 394.0,754.3 397.0,754.9 C400.0,755.5 403.0,756.1 406.0,756.6 C409.0,757.2 412.0,757.8 415.0,758.3 C418.0,758.9 421.0,759.4 424.0,759.9 C427.0,760.5 430.0,761.0 433.0,761.5 C436.0,762.1 439.0,762.6 442.0,763.1 C445.0,763.6 448.0,764.1 451.0,764.6 C454.0,765.1 457.0,765.6 460.0,766.0 C463.0,766.5 466.0,767.0 469.0,767.5 C472.0,767.9 475.0,768.4 478.0,768.8 C481.0,769.3 484.0,769.7 487.0,770.2 C490.0,770.6 493.0,771.0 496.0,771.5 C499.0,771.9 502.0,772.3 505.0,772.7 C508.0,773.1 511.0,773.5 514.0,773.9 C517.0,774.3 520.0,774.7 523.0,775.1 C526.0,775.5 529.0,775.9 532.0,776.2 C535.0,776.6 538.0,777.0 541.0,777.3 C544.0,777.7 547.0,778.0 550.0,778.4 C553.0,778.7 556.0,779.0 559.0,779.4 C562.0,779.7 565.0,780.0 568.0,780.3 C571.0,780.7 574.0,781.0 577.0,781.3 C580.0,781.5 583.0,781.8 586.0,782.1 C589.0,782.3 592.0,782.6 595.0,782.8 C598.0,783.0 601.0,783.2 604.0,783.4 C607.0,783.6 610.0,783.7 613.0,783.8 C616.0,783.9 619.0,784.0 622.0,784.1 C625.0,784.1 628.0,784.1 631.0,784.1 C634.0,784.1 637.0,784.0 640.0,783.9 C643.0,783.8 646.0,783.6 649.0,783.4 C652.0,783.1 655.0,782.8 658.0,782.5 C661.0,782.1 664.0,781.7 667.0,781.2 C670.0,780.7 673.0,780.1 676.0,779.5 C679.0,778.8 682.0,778.1 685.0,777.3 C688.0,776.5 691.0,775.7 694.0,774.7 C697.0,773.8 700.0,772.7 703.0,771.6 C706.0,770.5 709.0,769.3 712.0,768.0 C715.0,766.7 718.0,765.4 721.0,763.9 C724.0,762.4 727.0,760.9 730.0,759.2 C733.0,757.6 736.0,755.9 739.0,754.1 C742.0,752.4 745.0,750.5 748.0,748.7 C751.0,746.8 754.0,744.9 757.0,743.0 C760.0,741.0 763.0,739.0 766.0,737.0 C769.0,735.1 772.0,733.0 775.0,731.0 C778.0,729.0 781.0,727.0 784.0,725.1 C787.0,723.1 790.0,721.1 793.0,719.1 C796.0,717.2 799.0,715.3 802.0,713.4 C805.0,711.6 808.0,709.7 811.0,708.0 C814.0,706.2 817.0,704.5 820.0,702.9 C823.0,701.3 826.0,699.7 829.0,698.3 C832.0,696.8 835.0,695.4 838.0,694.1 C841.0,692.9 844.0,691.7 847.0,690.5 C850.0,689.4 853.0,688.4 856.0,687.5 C859.0,686.5 862.0,685.7 865.0,684.9 C868.0,684.2 871.0,683.5 874.0,682.9 C877.0,682.3 880.0,681.8 883.0,681.4 C886.0,681.0 889.0,680.6 892.0,680.4 C895.0,680.1 898.0,680.0 901.0,679.9 C904.0,679.8 907.0,679.8 910.0,679.9 C913.0,680.0 916.0,680.2 919.0,680.4 C922.0,680.7 925.0,681.0 928.0,681.5 C931.0,681.9 934.0,682.4 937.0,683.0 C940.0,683.6 943.0,684.3 946.0,685.0 C949.0,685.8 952.0,686.6 955.0,687.5 C958.0,688.4 961.0,689.3 964.0,690.3 C967.0,691.3 970.0,692.3 973.0,693.4 C976.0,694.5 979.0,695.6 982.0,696.8 C985.0,697.9 988.0,699.1 991.0,700.3 C994.0,701.5 997.0,702.7 1000.0,703.9 C1003.0,705.1 1006.0,706.3 1009.0,707.6 C1012.0,708.8 1015.0,710.0 1018.0,711.2 C1021.0,712.4 1024.0,713.6 1027.0,714.8 C1030.0,715.9 1033.0,717.1 1036.0,718.2 C1039.0,719.3 1042.0,720.4 1045.0,721.4 C1048.0,722.4 1051.0,723.4 1054.0,724.4 C1057.0,725.3 1060.0,726.2 1063.0,727.1 C1066.0,728.0 1069.0,728.8 1072.0,729.6 C1075.0,730.3 1078.0,731.1 1081.0,731.8 C1084.0,732.4 1087.0,733.1 1090.0,733.7 C1093.0,734.3 1096.0,734.9 1099.0,735.4 C1102.0,735.9 1105.0,736.4 1108.0,736.8 C1111.0,737.3 1114.0,737.7 1117.0,738.1 C1120.0,738.4 1123.0,738.8 1126.0,739.1 C1129.0,739.4 1132.0,739.7 1135.0,740.0 C1138.0,740.3 1141.0,740.5 1144.0,740.7 C1147.0,740.9 1150.0,741.1 1153.0,741.3 C1156.0,741.4 1159.0,741.6 1162.0,741.7 C1165.0,741.8 1168.0,741.9 1171.0,742.0 C1174.0,742.0 1177.0,742.1 1180.0,742.1 C1183.0,742.1 1186.0,742.1 1189.0,742.1 C1192.0,742.1 1195.0,742.1 1198.0,742.1 C1201.0,742.1 1204.0,742.0 1207.0,741.9 C1210.0,741.9 1213.0,741.8 1216.0,741.7 C1219.0,741.6 1222.0,741.5 1225.0,741.4 C1228.0,741.3 1231.0,741.2 1234.0,741.1 C1237.0,740.9 1240.0,740.8 1243.0,740.6 C1246.0,740.5 1249.0,740.4 1252.0,740.2 C1255.0,740.1 1258.0,739.9 1261.0,739.7 C1264.0,739.6 1267.0,739.4 1270.0,739.3 C1273.0,739.1 1276.0,738.9 1279.0,738.8 C1282.0,738.6 1285.0,738.4 1288.0,738.3 C1291.0,738.1 1294.0,737.9 1297.0,737.8 C1300.0,737.6 1303.0,737.4 1306.0,737.3 C1309.0,737.1 1312.0,736.9 1315.0,736.7 C1318.0,736.6 1321.0,736.4 1324.0,736.2 C1327.0,736.0 1330.0,735.9 1333.0,735.7 C1336.0,735.5 1339.0,735.3 1342.0,735.1 C1345.0,734.9 1348.0,734.8 1351.0,734.6 C1354.0,734.4 1357.0,734.2 1360.0,734.0 C1363.0,733.8 1366.0,733.6 1369.0,733.4 C1372.0,733.3 1375.0,733.1 1378.0,732.9 C1381.0,732.7 1384.0,732.5 1387.0,732.3 C1390.0,732.1 1393.0,731.9 1396.0,731.7 C1399.0,731.5 1402.0,731.3 1405.0,731.1 C1408.0,730.9 1411.0,730.6 1414.0,730.4 C1417.0,730.2 1420.0,730.0 1423.0,729.8 C1426.0,729.5 1429.0,729.3 1432.0,729.1 C1435.0,728.8 1438.0,728.6 1441.0,728.3 C1444.0,728.1 1447.0,727.8 1450.0,727.6 C1453.0,727.3 1456.0,727.1 1459.0,726.8 C1462.0,726.6 1465.0,726.3 1468.0,726.0 C1471.0,725.8 1474.0,725.5 1477.0,725.2 C1480.0,725.0 1483.0,724.7 1486.0,724.4 C1489.0,724.1 1492.0,723.9 1495.0,723.6 C1498.0,723.3 1501.0,723.0 1504.0,722.7 C1507.0,722.5 1510.0,722.2 1513.0,721.9 C1516.0,721.6 1519.0,721.3 1522.0,721.0 C1525.0,720.7 1528.0,720.5 1531.0,720.2 C1534.0,719.9 1537.0,719.6 1540.0,719.3 C1543.0,719.0 1546.0,718.7 1549.0,718.4 C1552.0,718.2 1555.0,717.9 1558.0,717.6 C1561.0,717.3 1564.0,717.0 1567.0,716.7 C1570.0,716.5 1573.0,716.2 1576.0,715.9 C1579.0,715.6 1582.0,715.3 1585.0,715.0 C1588.0,714.8 1591.0,714.5 1594.0,714.2 C1597.0,713.9 1600.0,713.7 1603.0,713.4 C1606.0,713.1 1609.0,712.9 1612.0,712.6 C1615.0,712.3 1618.0,712.1 1621.0,711.8 C1624.0,711.6 1627.0,711.3 1630.0,711.1 C1633.0,710.8 1636.0,710.6 1639.0,710.3 C1642.0,710.1 1645.0,709.8 1648.0,709.6 C1651.0,709.4 1654.0,709.1 1657.0,708.9 C1660.0,708.7 1663.0,708.5 1666.0,708.3 C1669.0,708.0 1672.0,707.8 1675.0,707.6 C1678.0,707.4 1681.0,707.2 1684.0,707.0 C1687.0,706.8 1690.0,706.6 1693.0,706.5 C1696.0,706.3 1699.0,706.1 1702.0,705.9 C1705.0,705.8 1708.0,705.6 1711.0,705.4 C1714.0,705.3 1717.0,705.1 1720.0,704.9 C1723.0,704.8 1726.0,704.6 1729.0,704.5 C1732.0,704.3 1735.0,704.2 1738.0,704.0 C1741.0,703.9 1744.0,703.7 1747.0,703.6 C1750.0,703.4 1753.0,703.3 1756.0,703.2 C1759.0,703.0 1762.0,702.9 1765.0,702.8 C1768.0,702.6 1771.0,702.5 1774.0,702.4 C1777.0,702.3 1780.0,702.1 1783.0,702.0 C1786.0,701.9 1789.0,701.8 1792.0,701.7 C1795.0,701.6 1798.0,701.5 1801.0,701.3 C1804.0,701.2 1807.0,701.1 1810.0,701.0 C1813.0,700.9 1816.0,700.8 1819.0,700.8 C1822.0,700.7 1825.0,700.6 1828.0,700.5 C1831.0,700.4 1834.0,700.3 1837.0,700.2 C1840.0,700.2 1843.0,700.1 1846.0,700.0 C1849.0,699.9 1852.0,699.9 1855.0,699.8 C1858.0,699.7 1861.0,699.7 1864.0,699.6 C1867.0,699.6 1870.0,699.5 1873.0,699.5 C1876.0,699.4 1879.0,699.4 1882.0,699.3 C1885.0,699.3 1888.0,699.2 1891.0,699.2 C1894.0,699.2 1897.0,699.1 1900.0,699.1 C1903.0,699.1 1906.0,699.0 1909.0,699.0 C1912.0,699.0 1915.0,699.0 1918.0,698.9 C1921.0,698.9 1924.0,698.9 1927.0,698.9 C1930.0,698.9 1933.0,698.9 1936.0,698.9 C1939.0,698.9 1942.0,698.9 1945.0,698.9 C1948.0,698.9 1951.0,698.9 1954.0,698.9 C1957.0,698.9 1960.0,699.0 1963.0,699.0 C1966.0,699.0 1969.0,699.0 1972.0,699.1 C1975.0,699.1 1978.0,699.1 1981.0,699.2 C1984.0,699.2 1987.0,699.2 1990.0,699.3 C1993.0,699.3 1996.0,699.4 1999.0,699.4 C2002.0,699.5 2005.0,699.5 2008.0,699.6 C2011.0,699.7 2014.0,699.7 2017.0,699.8 C2020.0,699.9 2023.0,699.9 2026.0,700.0 C2029.0,700.1 2032.0,700.2 2035.0,700.2 C2038.0,700.3 2041.0,700.4 2044.0,700.5 C2047.0,700.6 2050.0,700.7 2053.0,700.8 C2056.0,700.9 2059.0,701.0 2062.0,701.1 C2065.0,701.2 2068.0,701.3 2071.0,701.4 C2074.0,701.6 2077.0,701.7 2080.0,701.8 C2083.0,701.9 2086.0,702.1 2089.0,702.2 C2092.0,702.3 2095.3,702.5 2098.0,702.6 C2100.7,702.7 2103.8,702.9 2105.0,703.0" stroke="#d85060" stroke-width="4.9"/>
<path d="M325.0,738.2 C326.5,738.6 331.0,739.9 334.0,740.8 C337.0,741.6 340.0,742.5 343.0,743.3 C346.0,744.2 349.0,745.0 352.0,745.8 C355.0,746.7 358.0,747.5 361.0,748.3 C364.0,749.1 367.0,749.9 370.0,750.7 C373.0,751.4 376.0,752.2 379.0,752.9 C382.0,753.6 385.0,754.3 388.0,755.0 C391.0,755.7 394.0,756.3 397.0,756.9 C400.0,757.5 403.0,758.1 406.0,758.6 C409.0,759.2 412.0,759.8 415.0,760.3 C418.0,760.9 421.0,761.4 424.0,762.0 C427.0,762.5 430.0,763.0 433.0,763.6 C436.0,764.1 439.0,764.6 442.0,765.1 C445.0,765.6 448.0,766.1 451.0,766.6 C454.0,767.2 457.0,767.6 460.0,768.1 C463.0,768.6 466.0,769.1 469.0,769.6 C472.0,770.1 475.0,770.5 478.0,771.0 C481.0,771.5 484.0,771.9 487.0,772.4 C490.0,772.8 493.0,773.3 496.0,773.7 C499.0,774.1 502.0,774.6 505.0,775.0 C508.0,775.4 511.0,775.8 514.0,776.2 C517.0,776.6 520.0,777.0 523.0,777.4 C526.0,777.8 529.0,778.2 532.0,778.6 C535.0,779.0 538.0,779.4 541.0,779.7 C544.0,780.1 547.0,780.5 550.0,780.8 C553.0,781.2 556.0,781.6 559.0,781.9 C562.0,782.2 565.0,782.6 568.0,782.9 C571.0,783.2 574.0,783.6 577.0,783.9 C580.0,784.2 583.0,784.5 586.0,784.8 C589.0,785.0 592.0,785.3 595.0,785.5 C598.0,785.8 601.0,786.0 604.0,786.2 C607.0,786.4 610.0,786.5 613.0,786.7 C616.0,786.8 619.0,786.9 622.0,787.0 C625.0,787.0 628.0,787.1 631.0,787.0 C634.0,787.0 637.0,787.0 640.0,786.9 C643.0,786.8 646.0,786.6 649.0,786.4 C652.0,786.2 655.0,785.9 658.0,785.6 C661.0,785.2 664.0,784.8 667.0,784.4 C670.0,783.9 673.0,783.3 676.0,782.7 C679.0,782.1 682.0,781.4 685.0,780.6 C688.0,779.9 691.0,779.0 694.0,778.1 C697.0,777.2 700.0,776.2 703.0,775.1 C706.0,774.0 709.0,772.8 712.0,771.6 C715.0,770.3 718.0,768.9 721.0,767.5 C724.0,766.1 727.0,764.5 730.0,762.9 C733.0,761.3 736.0,759.6 739.0,757.9 C742.0,756.2 745.0,754.4 748.0,752.5 C751.0,750.7 754.0,748.8 757.0,746.9 C760.0,745.0 763.0,743.0 766.0,741.1 C769.0,739.1 772.0,737.1 775.0,735.1 C778.0,733.2 781.0,731.2 784.0,729.2 C787.0,727.3 790.0,725.3 793.0,723.4 C796.0,721.5 799.0,719.6 802.0,717.7 C805.0,715.9 808.0,714.1 811.0,712.4 C814.0,710.6 817.0,709.0 820.0,707.4 C823.0,705.8 826.0,704.2 829.0,702.8 C832.0,701.4 835.0,700.0 838.0,698.7 C841.0,697.5 844.0,696.3 847.0,695.2 C850.0,694.1 853.0,693.1 856.0,692.2 C859.0,691.3 862.0,690.4 865.0,689.7 C868.0,689.0 871.0,688.3 874.0,687.7 C877.0,687.1 880.0,686.7 883.0,686.2 C886.0,685.8 889.0,685.5 892.0,685.3 C895.0,685.0 898.0,684.9 901.0,684.8 C904.0,684.8 907.0,684.8 910.0,684.9 C913.0,685.0 916.0,685.2 919.0,685.4 C922.0,685.7 925.0,686.0 928.0,686.5 C931.0,686.9 934.0,687.4 937.0,688.0 C940.0,688.6 943.0,689.3 946.0,690.0 C949.0,690.8 952.0,691.6 955.0,692.5 C958.0,693.3 961.0,694.3 964.0,695.2 C967.0,696.2 970.0,697.3 973.0,698.3 C976.0,699.4 979.0,700.5 982.0,701.6 C985.0,702.7 988.0,703.9 991.0,705.1 C994.0,706.2 997.0,707.4 1000.0,708.6 C1003.0,709.8 1006.0,711.0 1009.0,712.2 C1012.0,713.4 1015.0,714.6 1018.0,715.8 C1021.0,716.9 1024.0,718.1 1027.0,719.2 C1030.0,720.4 1033.0,721.5 1036.0,722.6 C1039.0,723.7 1042.0,724.7 1045.0,725.7 C1048.0,726.7 1051.0,727.7 1054.0,728.6 C1057.0,729.5 1060.0,730.4 1063.0,731.3 C1066.0,732.1 1069.0,732.9 1072.0,733.7 C1075.0,734.4 1078.0,735.1 1081.0,735.8 C1084.0,736.5 1087.0,737.1 1090.0,737.7 C1093.0,738.3 1096.0,738.9 1099.0,739.4 C1102.0,739.9 1105.0,740.4 1108.0,740.8 C1111.0,741.3 1114.0,741.7 1117.0,742.0 C1120.0,742.4 1123.0,742.8 1126.0,743.1 C1129.0,743.4 1132.0,743.7 1135.0,744.0 C1138.0,744.2 1141.0,744.5 1144.0,744.7 C1147.0,744.9 1150.0,745.1 1153.0,745.2 C1156.0,745.4 1159.0,745.5 1162.0,745.6 C1165.0,745.7 1168.0,745.8 1171.0,745.9 C1174.0,746.0 1177.0,746.0 1180.0,746.0 C1183.0,746.1 1186.0,746.1 1189.0,746.1 C1192.0,746.1 1195.0,746.1 1198.0,746.0 C1201.0,746.0 1204.0,745.9 1207.0,745.9 C1210.0,745.8 1213.0,745.7 1216.0,745.6 C1219.0,745.6 1222.0,745.5 1225.0,745.3 C1228.0,745.2 1231.0,745.1 1234.0,745.0 C1237.0,744.9 1240.0,744.7 1243.0,744.6 C1246.0,744.5 1249.0,744.3 1252.0,744.2 C1255.0,744.0 1258.0,743.8 1261.0,743.7 C1264.0,743.5 1267.0,743.4 1270.0,743.2 C1273.0,743.1 1276.0,742.9 1279.0,742.7 C1282.0,742.6 1285.0,742.4 1288.0,742.2 C1291.0,742.1 1294.0,741.9 1297.0,741.7 C1300.0,741.6 1303.0,741.4 1306.0,741.2 C1309.0,741.1 1312.0,740.9 1315.0,740.7 C1318.0,740.5 1321.0,740.4 1324.0,740.2 C1327.0,740.0 1330.0,739.8 1333.0,739.7 C1336.0,739.5 1339.0,739.3 1342.0,739.1 C1345.0,738.9 1348.0,738.8 1351.0,738.6 C1354.0,738.4 1357.0,738.2 1360.0,738.0 C1363.0,737.8 1366.0,737.6 1369.0,737.4 C1372.0,737.2 1375.0,737.1 1378.0,736.9 C1381.0,736.7 1384.0,736.5 1387.0,736.3 C1390.0,736.1 1393.0,735.9 1396.0,735.7 C1399.0,735.5 1402.0,735.3 1405.0,735.1 C1408.0,734.9 1411.0,734.6 1414.0,734.4 C1417.0,734.2 1420.0,734.0 1423.0,733.7 C1426.0,733.5 1429.0,733.3 1432.0,733.0 C1435.0,732.8 1438.0,732.5 1441.0,732.3 C1444.0,732.0 1447.0,731.8 1450.0,731.5 C1453.0,731.3 1456.0,731.0 1459.0,730.7 C1462.0,730.4 1465.0,730.2 1468.0,729.9 C1471.0,729.6 1474.0,729.3 1477.0,729.1 C1480.0,728.8 1483.0,728.5 1486.0,728.2 C1489.0,727.9 1492.0,727.6 1495.0,727.3 C1498.0,727.0 1501.0,726.8 1504.0,726.5 C1507.0,726.2 1510.0,725.9 1513.0,725.6 C1516.0,725.3 1519.0,725.0 1522.0,724.7 C1525.0,724.4 1528.0,724.1 1531.0,723.8 C1534.0,723.5 1537.0,723.2 1540.0,722.9 C1543.0,722.6 1546.0,722.3 1549.0,722.0 C1552.0,721.7 1555.0,721.3 1558.0,721.0 C1561.0,720.7 1564.0,720.4 1567.0,720.2 C1570.0,719.9 1573.0,719.6 1576.0,719.3 C1579.0,719.0 1582.0,718.7 1585.0,718.4 C1588.0,718.1 1591.0,717.8 1594.0,717.5 C1597.0,717.2 1600.0,716.9 1603.0,716.7 C1606.0,716.4 1609.0,716.1 1612.0,715.8 C1615.0,715.5 1618.0,715.3 1621.0,715.0 C1624.0,714.7 1627.0,714.5 1630.0,714.2 C1633.0,713.9 1636.0,713.7 1639.0,713.4 C1642.0,713.2 1645.0,712.9 1648.0,712.7 C1651.0,712.4 1654.0,712.2 1657.0,712.0 C1660.0,711.7 1663.0,711.5 1666.0,711.3 C1669.0,711.1 1672.0,710.8 1675.0,710.6 C1678.0,710.4 1681.0,710.2 1684.0,710.0 C1687.0,709.8 1690.0,709.6 1693.0,709.5 C1696.0,709.3 1699.0,709.1 1702.0,708.9 C1705.0,708.8 1708.0,708.6 1711.0,708.4 C1714.0,708.3 1717.0,708.1 1720.0,707.9 C1723.0,707.8 1726.0,707.6 1729.0,707.5 C1732.0,707.3 1735.0,707.2 1738.0,707.0 C1741.0,706.9 1744.0,706.7 1747.0,706.6 C1750.0,706.5 1753.0,706.3 1756.0,706.2 C1759.0,706.0 1762.0,705.9 1765.0,705.8 C1768.0,705.7 1771.0,705.5 1774.0,705.4 C1777.0,705.3 1780.0,705.2 1783.0,705.1 C1786.0,705.0 1789.0,704.8 1792.0,704.7 C1795.0,704.6 1798.0,704.5 1801.0,704.4 C1804.0,704.3 1807.0,704.2 1810.0,704.1 C1813.0,704.1 1816.0,704.0 1819.0,703.9 C1822.0,703.8 1825.0,703.7 1828.0,703.6 C1831.0,703.5 1834.0,703.5 1837.0,703.4 C1840.0,703.3 1843.0,703.3 1846.0,703.2 C1849.0,703.1 1852.0,703.1 1855.0,703.0 C1858.0,703.0 1861.0,702.9 1864.0,702.9 C1867.0,702.8 1870.0,702.8 1873.0,702.7 C1876.0,702.7 1879.0,702.6 1882.0,702.6 C1885.0,702.6 1888.0,702.5 1891.0,702.5 C1894.0,702.5 1897.0,702.5 1900.0,702.4 C1903.0,702.4 1906.0,702.4 1909.0,702.4 C1912.0,702.4 1915.0,702.4 1918.0,702.4 C1921.0,702.4 1924.0,702.4 1927.0,702.4 C1930.0,702.4 1933.0,702.4 1936.0,702.4 C1939.0,702.4 1942.0,702.4 1945.0,702.4 C1948.0,702.5 1951.0,702.5 1954.0,702.5 C1957.0,702.5 1960.0,702.6 1963.0,702.6 C1966.0,702.6 1969.0,702.7 1972.0,702.7 C1975.0,702.8 1978.0,702.8 1981.0,702.9 C1984.0,702.9 1987.0,703.0 1990.0,703.0 C1993.0,703.1 1996.0,703.2 1999.0,703.2 C2002.0,703.3 2005.0,703.4 2008.0,703.4 C2011.0,703.5 2014.0,703.6 2017.0,703.7 C2020.0,703.8 2023.0,703.9 2026.0,704.0 C2029.0,704.0 2032.0,704.1 2035.0,704.2 C2038.0,704.4 2041.0,704.5 2044.0,704.6 C2047.0,704.7 2050.0,704.8 2053.0,704.9 C2056.0,705.0 2059.0,705.2 2062.0,705.3 C2065.0,705.4 2068.0,705.6 2071.0,705.7 C2074.0,705.8 2077.0,706.0 2080.0,706.1 C2083.0,706.3 2086.0,706.4 2089.0,706.6 C2092.0,706.7 2095.3,706.9 2098.0,707.1 C2100.7,707.2 2103.8,707.4 2105.0,707.5" stroke="#3f8a30" stroke-width="4.9"/>
<path d="M325.0,745.2 C326.5,745.6 331.0,746.8 334.0,747.6 C337.0,748.4 340.0,749.2 343.0,750.0 C346.0,750.8 349.0,751.6 352.0,752.4 C355.0,753.2 358.0,754.0 361.0,754.7 C364.0,755.5 367.0,756.2 370.0,756.9 C373.0,757.7 376.0,758.4 379.0,759.0 C382.0,759.7 385.0,760.4 388.0,761.0 C391.0,761.7 394.0,762.3 397.0,762.9 C400.0,763.5 403.0,764.1 406.0,764.6 C409.0,765.2 412.0,765.7 415.0,766.3 C418.0,766.8 421.0,767.4 424.0,767.9 C427.0,768.4 430.0,768.9 433.0,769.5 C436.0,770.0 439.0,770.5 442.0,771.0 C445.0,771.5 448.0,771.9 451.0,772.4 C454.0,772.9 457.0,773.4 460.0,773.8 C463.0,774.3 466.0,774.7 469.0,775.2 C472.0,775.6 475.0,776.0 478.0,776.5 C481.0,776.9 484.0,777.3 487.0,777.7 C490.0,778.1 493.0,778.5 496.0,778.9 C499.0,779.3 502.0,779.7 505.0,780.1 C508.0,780.5 511.0,780.8 514.0,781.2 C517.0,781.6 520.0,781.9 523.0,782.3 C526.0,782.6 529.0,783.0 532.0,783.3 C535.0,783.6 538.0,784.0 541.0,784.3 C544.0,784.6 547.0,784.9 550.0,785.2 C553.0,785.5 556.0,785.9 559.0,786.1 C562.0,786.4 565.0,786.7 568.0,787.0 C571.0,787.3 574.0,787.6 577.0,787.8 C580.0,788.1 583.0,788.3 586.0,788.6 C589.0,788.8 592.0,789.0 595.0,789.2 C598.0,789.4 601.0,789.6 604.0,789.7 C607.0,789.8 610.0,790.0 613.0,790.0 C616.0,790.1 619.0,790.2 622.0,790.2 C625.0,790.2 628.0,790.2 631.0,790.2 C634.0,790.1 637.0,790.0 640.0,789.9 C643.0,789.7 646.0,789.6 649.0,789.3 C652.0,789.1 655.0,788.8 658.0,788.4 C661.0,788.0 664.0,787.6 667.0,787.1 C670.0,786.6 673.0,786.1 676.0,785.5 C679.0,784.9 682.0,784.2 685.0,783.4 C688.0,782.6 691.0,781.8 694.0,780.9 C697.0,780.0 700.0,779.0 703.0,777.9 C706.0,776.9 709.0,775.7 712.0,774.5 C715.0,773.2 718.0,771.9 721.0,770.5 C724.0,769.1 727.0,767.6 730.0,766.0 C733.0,764.5 736.0,762.8 739.0,761.1 C742.0,759.4 745.0,757.7 748.0,755.9 C751.0,754.1 754.0,752.2 757.0,750.3 C760.0,748.5 763.0,746.6 766.0,744.7 C769.0,742.8 772.0,740.8 775.0,738.9 C778.0,737.0 781.0,735.0 784.0,733.1 C787.0,731.2 790.0,729.3 793.0,727.5 C796.0,725.6 799.0,723.8 802.0,722.0 C805.0,720.2 808.0,718.5 811.0,716.8 C814.0,715.1 817.0,713.5 820.0,711.9 C823.0,710.4 826.0,708.9 829.0,707.5 C832.0,706.1 835.0,704.9 838.0,703.6 C841.0,702.4 844.0,701.3 847.0,700.3 C850.0,699.2 853.0,698.3 856.0,697.4 C859.0,696.5 862.0,695.8 865.0,695.0 C868.0,694.3 871.0,693.7 874.0,693.2 C877.0,692.7 880.0,692.2 883.0,691.8 C886.0,691.5 889.0,691.2 892.0,691.0 C895.0,690.8 898.0,690.7 901.0,690.6 C904.0,690.6 907.0,690.6 910.0,690.8 C913.0,690.9 916.0,691.1 919.0,691.4 C922.0,691.6 925.0,692.0 928.0,692.4 C931.0,692.9 934.0,693.4 937.0,694.0 C940.0,694.6 943.0,695.3 946.0,696.0 C949.0,696.8 952.0,697.6 955.0,698.4 C958.0,699.3 961.0,700.2 964.0,701.2 C967.0,702.2 970.0,703.2 973.0,704.2 C976.0,705.3 979.0,706.4 982.0,707.5 C985.0,708.6 988.0,709.7 991.0,710.9 C994.0,712.0 997.0,713.2 1000.0,714.4 C1003.0,715.5 1006.0,716.7 1009.0,717.9 C1012.0,719.0 1015.0,720.2 1018.0,721.4 C1021.0,722.5 1024.0,723.7 1027.0,724.8 C1030.0,725.9 1033.0,727.0 1036.0,728.0 C1039.0,729.1 1042.0,730.1 1045.0,731.1 C1048.0,732.1 1051.0,733.0 1054.0,733.9 C1057.0,734.8 1060.0,735.7 1063.0,736.5 C1066.0,737.3 1069.0,738.1 1072.0,738.8 C1075.0,739.6 1078.0,740.3 1081.0,740.9 C1084.0,741.6 1087.0,742.2 1090.0,742.8 C1093.0,743.4 1096.0,743.9 1099.0,744.4 C1102.0,744.9 1105.0,745.3 1108.0,745.8 C1111.0,746.2 1114.0,746.6 1117.0,747.0 C1120.0,747.3 1123.0,747.7 1126.0,748.0 C1129.0,748.3 1132.0,748.5 1135.0,748.8 C1138.0,749.0 1141.0,749.3 1144.0,749.5 C1147.0,749.7 1150.0,749.8 1153.0,750.0 C1156.0,750.1 1159.0,750.2 1162.0,750.3 C1165.0,750.4 1168.0,750.5 1171.0,750.6 C1174.0,750.6 1177.0,750.7 1180.0,750.7 C1183.0,750.7 1186.0,750.7 1189.0,750.7 C1192.0,750.7 1195.0,750.6 1198.0,750.6 C1201.0,750.5 1204.0,750.5 1207.0,750.4 C1210.0,750.3 1213.0,750.2 1216.0,750.1 C1219.0,750.0 1222.0,749.9 1225.0,749.8 C1228.0,749.7 1231.0,749.5 1234.0,749.4 C1237.0,749.2 1240.0,749.1 1243.0,748.9 C1246.0,748.8 1249.0,748.6 1252.0,748.5 C1255.0,748.3 1258.0,748.2 1261.0,748.0 C1264.0,747.8 1267.0,747.6 1270.0,747.5 C1273.0,747.3 1276.0,747.1 1279.0,747.0 C1282.0,746.8 1285.0,746.6 1288.0,746.4 C1291.0,746.3 1294.0,746.1 1297.0,745.9 C1300.0,745.7 1303.0,745.6 1306.0,745.4 C1309.0,745.2 1312.0,745.0 1315.0,744.8 C1318.0,744.7 1321.0,744.5 1324.0,744.3 C1327.0,744.1 1330.0,743.9 1333.0,743.7 C1336.0,743.6 1339.0,743.4 1342.0,743.2 C1345.0,743.0 1348.0,742.8 1351.0,742.6 C1354.0,742.4 1357.0,742.2 1360.0,742.0 C1363.0,741.8 1366.0,741.7 1369.0,741.5 C1372.0,741.3 1375.0,741.1 1378.0,740.9 C1381.0,740.7 1384.0,740.5 1387.0,740.3 C1390.0,740.1 1393.0,739.9 1396.0,739.7 C1399.0,739.5 1402.0,739.3 1405.0,739.1 C1408.0,738.9 1411.0,738.6 1414.0,738.4 C1417.0,738.2 1420.0,738.0 1423.0,737.8 C1426.0,737.5 1429.0,737.3 1432.0,737.1 C1435.0,736.8 1438.0,736.6 1441.0,736.3 C1444.0,736.1 1447.0,735.8 1450.0,735.6 C1453.0,735.3 1456.0,735.1 1459.0,734.8 C1462.0,734.6 1465.0,734.3 1468.0,734.0 C1471.0,733.8 1474.0,733.5 1477.0,733.2 C1480.0,733.0 1483.0,732.7 1486.0,732.4 C1489.0,732.1 1492.0,731.9 1495.0,731.6 C1498.0,731.3 1501.0,731.0 1504.0,730.7 C1507.0,730.5 1510.0,730.2 1513.0,729.9 C1516.0,729.6 1519.0,729.3 1522.0,729.0 C1525.0,728.7 1528.0,728.5 1531.0,728.2 C1534.0,727.9 1537.0,727.6 1540.0,727.3 C1543.0,727.0 1546.0,726.7 1549.0,726.4 C1552.0,726.2 1555.0,725.9 1558.0,725.6 C1561.0,725.3 1564.0,725.0 1567.0,724.7 C1570.0,724.5 1573.0,724.2 1576.0,723.9 C1579.0,723.6 1582.0,723.3 1585.0,723.0 C1588.0,722.8 1591.0,722.5 1594.0,722.2 C1597.0,721.9 1600.0,721.7 1603.0,721.4 C1606.0,721.1 1609.0,720.9 1612.0,720.6 C1615.0,720.3 1618.0,720.1 1621.0,719.8 C1624.0,719.6 1627.0,719.3 1630.0,719.1 C1633.0,718.8 1636.0,718.6 1639.0,718.3 C1642.0,718.1 1645.0,717.8 1648.0,717.6 C1651.0,717.4 1654.0,717.1 1657.0,716.9 C1660.0,716.7 1663.0,716.5 1666.0,716.3 C1669.0,716.0 1672.0,715.8 1675.0,715.6 C1678.0,715.4 1681.0,715.2 1684.0,715.0 C1687.0,714.8 1690.0,714.6 1693.0,714.5 C1696.0,714.3 1699.0,714.1 1702.0,713.9 C1705.0,713.8 1708.0,713.6 1711.0,713.4 C1714.0,713.3 1717.0,713.1 1720.0,712.9 C1723.0,712.8 1726.0,712.6 1729.0,712.4 C1732.0,712.3 1735.0,712.1 1738.0,712.0 C1741.0,711.8 1744.0,711.7 1747.0,711.5 C1750.0,711.4 1753.0,711.2 1756.0,711.1 C1759.0,711.0 1762.0,710.8 1765.0,710.7 C1768.0,710.6 1771.0,710.4 1774.0,710.3 C1777.0,710.2 1780.0,710.0 1783.0,709.9 C1786.0,709.8 1789.0,709.7 1792.0,709.5 C1795.0,709.4 1798.0,709.3 1801.0,709.2 C1804.0,709.1 1807.0,709.0 1810.0,708.8 C1813.0,708.7 1816.0,708.6 1819.0,708.5 C1822.0,708.4 1825.0,708.3 1828.0,708.2 C1831.0,708.1 1834.0,708.0 1837.0,707.9 C1840.0,707.9 1843.0,707.8 1846.0,707.7 C1849.0,707.6 1852.0,707.5 1855.0,707.4 C1858.0,707.4 1861.0,707.3 1864.0,707.2 C1867.0,707.1 1870.0,707.1 1873.0,707.0 C1876.0,706.9 1879.0,706.9 1882.0,706.8 C1885.0,706.8 1888.0,706.7 1891.0,706.6 C1894.0,706.6 1897.0,706.5 1900.0,706.5 C1903.0,706.4 1906.0,706.4 1909.0,706.4 C1912.0,706.3 1915.0,706.3 1918.0,706.3 C1921.0,706.2 1924.0,706.2 1927.0,706.2 C1930.0,706.1 1933.0,706.1 1936.0,706.1 C1939.0,706.1 1942.0,706.1 1945.0,706.0 C1948.0,706.0 1951.0,706.0 1954.0,706.0 C1957.0,706.0 1960.0,706.0 1963.0,706.0 C1966.0,706.0 1969.0,706.0 1972.0,706.0 C1975.0,706.0 1978.0,706.1 1981.0,706.1 C1984.0,706.1 1987.0,706.1 1990.0,706.1 C1993.0,706.2 1996.0,706.2 1999.0,706.2 C2002.0,706.2 2005.0,706.3 2008.0,706.3 C2011.0,706.4 2014.0,706.4 2017.0,706.4 C2020.0,706.5 2023.0,706.5 2026.0,706.6 C2029.0,706.6 2032.0,706.7 2035.0,706.8 C2038.0,706.8 2041.0,706.9 2044.0,707.0 C2047.0,707.0 2050.0,707.1 2053.0,707.2 C2056.0,707.3 2059.0,707.4 2062.0,707.4 C2065.0,707.5 2068.0,707.6 2071.0,707.7 C2074.0,707.8 2077.0,707.9 2080.0,708.0 C2083.0,708.1 2086.0,708.2 2089.0,708.3 C2092.0,708.4 2095.3,708.6 2098.0,708.7 C2100.7,708.8 2103.8,708.9 2105.0,709.0" stroke="#502080" stroke-width="4.9"/>
<path d="M325.0,754.2 C326.5,754.6 331.0,755.7 334.0,756.5 C337.0,757.3 340.0,758.0 343.0,758.7 C346.0,759.5 349.0,760.2 352.0,761.0 C355.0,761.7 358.0,762.4 361.0,763.1 C364.0,763.8 367.0,764.5 370.0,765.2 C373.0,765.9 376.0,766.5 379.0,767.2 C382.0,767.8 385.0,768.5 388.0,769.1 C391.0,769.7 394.0,770.3 397.0,770.9 C400.0,771.5 403.0,772.1 406.0,772.6 C409.0,773.2 412.0,773.7 415.0,774.3 C418.0,774.8 421.0,775.3 424.0,775.8 C427.0,776.3 430.0,776.8 433.0,777.3 C436.0,777.8 439.0,778.2 442.0,778.7 C445.0,779.2 448.0,779.6 451.0,780.0 C454.0,780.5 457.0,780.9 460.0,781.3 C463.0,781.7 466.0,782.1 469.0,782.5 C472.0,782.9 475.0,783.3 478.0,783.7 C481.0,784.1 484.0,784.4 487.0,784.8 C490.0,785.1 493.0,785.5 496.0,785.8 C499.0,786.2 502.0,786.5 505.0,786.8 C508.0,787.2 511.0,787.5 514.0,787.8 C517.0,788.1 520.0,788.4 523.0,788.7 C526.0,789.0 529.0,789.3 532.0,789.5 C535.0,789.8 538.0,790.1 541.0,790.4 C544.0,790.6 547.0,790.9 550.0,791.1 C553.0,791.4 556.0,791.6 559.0,791.9 C562.0,792.1 565.0,792.4 568.0,792.6 C571.0,792.8 574.0,793.1 577.0,793.3 C580.0,793.5 583.0,793.7 586.0,793.9 C589.0,794.1 592.0,794.3 595.0,794.4 C598.0,794.6 601.0,794.7 604.0,794.8 C607.0,795.0 610.0,795.1 613.0,795.1 C616.0,795.2 619.0,795.2 622.0,795.2 C625.0,795.2 628.0,795.2 631.0,795.2 C634.0,795.1 637.0,795.0 640.0,794.9 C643.0,794.7 646.0,794.6 649.0,794.4 C652.0,794.1 655.0,793.8 658.0,793.5 C661.0,793.2 664.0,792.8 667.0,792.4 C670.0,791.9 673.0,791.4 676.0,790.8 C679.0,790.3 682.0,789.6 685.0,788.9 C688.0,788.2 691.0,787.5 694.0,786.6 C697.0,785.8 700.0,784.9 703.0,783.9 C706.0,782.9 709.0,781.8 712.0,780.7 C715.0,779.5 718.0,778.3 721.0,777.0 C724.0,775.7 727.0,774.3 730.0,772.8 C733.0,771.3 736.0,769.8 739.0,768.2 C742.0,766.6 745.0,764.9 748.0,763.2 C751.0,761.5 754.0,759.8 757.0,758.0 C760.0,756.3 763.0,754.5 766.0,752.7 C769.0,750.9 772.0,749.1 775.0,747.3 C778.0,745.4 781.0,743.6 784.0,741.8 C787.0,740.0 790.0,738.2 793.0,736.5 C796.0,734.8 799.0,733.0 802.0,731.3 C805.0,729.7 808.0,728.0 811.0,726.5 C814.0,724.9 817.0,723.4 820.0,721.9 C823.0,720.5 826.0,719.1 829.0,717.8 C832.0,716.5 835.0,715.3 838.0,714.2 C841.0,713.1 844.0,712.1 847.0,711.1 C850.0,710.2 853.0,709.3 856.0,708.5 C859.0,707.7 862.0,707.0 865.0,706.4 C868.0,705.8 871.0,705.2 874.0,704.7 C877.0,704.3 880.0,703.9 883.0,703.6 C886.0,703.2 889.0,703.0 892.0,702.8 C895.0,702.7 898.0,702.6 901.0,702.6 C904.0,702.6 907.0,702.7 910.0,702.8 C913.0,702.9 916.0,703.2 919.0,703.4 C922.0,703.7 925.0,704.1 928.0,704.5 C931.0,705.0 934.0,705.5 937.0,706.0 C940.0,706.6 943.0,707.3 946.0,708.0 C949.0,708.7 952.0,709.5 955.0,710.3 C958.0,711.1 961.0,712.0 964.0,712.9 C967.0,713.8 970.0,714.8 973.0,715.8 C976.0,716.8 979.0,717.8 982.0,718.9 C985.0,719.9 988.0,721.0 991.0,722.1 C994.0,723.2 997.0,724.3 1000.0,725.4 C1003.0,726.5 1006.0,727.7 1009.0,728.8 C1012.0,729.9 1015.0,731.0 1018.0,732.1 C1021.0,733.2 1024.0,734.2 1027.0,735.3 C1030.0,736.3 1033.0,737.4 1036.0,738.3 C1039.0,739.3 1042.0,740.3 1045.0,741.2 C1048.0,742.1 1051.0,743.0 1054.0,743.8 C1057.0,744.7 1060.0,745.5 1063.0,746.2 C1066.0,747.0 1069.0,747.7 1072.0,748.4 C1075.0,749.0 1078.0,749.7 1081.0,750.3 C1084.0,750.9 1087.0,751.4 1090.0,752.0 C1093.0,752.5 1096.0,753.0 1099.0,753.4 C1102.0,753.8 1105.0,754.3 1108.0,754.6 C1111.0,755.0 1114.0,755.4 1117.0,755.7 C1120.0,756.0 1123.0,756.3 1126.0,756.5 C1129.0,756.8 1132.0,757.0 1135.0,757.2 C1138.0,757.4 1141.0,757.5 1144.0,757.7 C1147.0,757.8 1150.0,757.9 1153.0,758.0 C1156.0,758.1 1159.0,758.1 1162.0,758.2 C1165.0,758.2 1168.0,758.2 1171.0,758.2 C1174.0,758.2 1177.0,758.2 1180.0,758.1 C1183.0,758.1 1186.0,758.0 1189.0,758.0 C1192.0,757.9 1195.0,757.8 1198.0,757.7 C1201.0,757.6 1204.0,757.4 1207.0,757.3 C1210.0,757.2 1213.0,757.0 1216.0,756.8 C1219.0,756.7 1222.0,756.5 1225.0,756.3 C1228.0,756.1 1231.0,755.9 1234.0,755.7 C1237.0,755.5 1240.0,755.3 1243.0,755.1 C1246.0,754.9 1249.0,754.7 1252.0,754.4 C1255.0,754.2 1258.0,754.0 1261.0,753.7 C1264.0,753.5 1267.0,753.3 1270.0,753.0 C1273.0,752.8 1276.0,752.6 1279.0,752.3 C1282.0,752.1 1285.0,751.9 1288.0,751.6 C1291.0,751.4 1294.0,751.1 1297.0,750.9 C1300.0,750.7 1303.0,750.4 1306.0,750.2 C1309.0,749.9 1312.0,749.7 1315.0,749.5 C1318.0,749.2 1321.0,749.0 1324.0,748.7 C1327.0,748.5 1330.0,748.2 1333.0,748.0 C1336.0,747.7 1339.0,747.5 1342.0,747.2 C1345.0,747.0 1348.0,746.8 1351.0,746.5 C1354.0,746.3 1357.0,746.0 1360.0,745.8 C1363.0,745.5 1366.0,745.3 1369.0,745.0 C1372.0,744.8 1375.0,744.5 1378.0,744.3 C1381.0,744.0 1384.0,743.8 1387.0,743.5 C1390.0,743.2 1393.0,743.0 1396.0,742.7 C1399.0,742.5 1402.0,742.2 1405.0,742.0 C1408.0,741.7 1411.0,741.5 1414.0,741.2 C1417.0,740.9 1420.0,740.7 1423.0,740.4 C1426.0,740.1 1429.0,739.9 1432.0,739.6 C1435.0,739.3 1438.0,739.0 1441.0,738.8 C1444.0,738.5 1447.0,738.2 1450.0,737.9 C1453.0,737.6 1456.0,737.4 1459.0,737.1 C1462.0,736.8 1465.0,736.5 1468.0,736.2 C1471.0,735.9 1474.0,735.6 1477.0,735.3 C1480.0,735.1 1483.0,734.8 1486.0,734.5 C1489.0,734.2 1492.0,733.9 1495.0,733.6 C1498.0,733.3 1501.0,733.0 1504.0,732.7 C1507.0,732.4 1510.0,732.1 1513.0,731.8 C1516.0,731.5 1519.0,731.2 1522.0,730.9 C1525.0,730.6 1528.0,730.4 1531.0,730.1 C1534.0,729.8 1537.0,729.5 1540.0,729.2 C1543.0,728.9 1546.0,728.6 1549.0,728.3 C1552.0,728.0 1555.0,727.7 1558.0,727.4 C1561.0,727.2 1564.0,726.9 1567.0,726.6 C1570.0,726.3 1573.0,726.0 1576.0,725.7 C1579.0,725.5 1582.0,725.2 1585.0,724.9 C1588.0,724.6 1591.0,724.4 1594.0,724.1 C1597.0,723.8 1600.0,723.6 1603.0,723.3 C1606.0,723.0 1609.0,722.8 1612.0,722.5 C1615.0,722.2 1618.0,722.0 1621.0,721.7 C1624.0,721.5 1627.0,721.2 1630.0,721.0 C1633.0,720.7 1636.0,720.5 1639.0,720.3 C1642.0,720.0 1645.0,719.8 1648.0,719.6 C1651.0,719.3 1654.0,719.1 1657.0,718.9 C1660.0,718.7 1663.0,718.4 1666.0,718.2 C1669.0,718.0 1672.0,717.8 1675.0,717.6 C1678.0,717.4 1681.0,717.2 1684.0,717.0 C1687.0,716.8 1690.0,716.6 1693.0,716.5 C1696.0,716.3 1699.0,716.1 1702.0,715.9 C1705.0,715.8 1708.0,715.6 1711.0,715.4 C1714.0,715.2 1717.0,715.1 1720.0,714.9 C1723.0,714.8 1726.0,714.6 1729.0,714.4 C1732.0,714.3 1735.0,714.1 1738.0,714.0 C1741.0,713.8 1744.0,713.7 1747.0,713.5 C1750.0,713.4 1753.0,713.2 1756.0,713.1 C1759.0,712.9 1762.0,712.8 1765.0,712.6 C1768.0,712.5 1771.0,712.4 1774.0,712.2 C1777.0,712.1 1780.0,711.9 1783.0,711.8 C1786.0,711.7 1789.0,711.6 1792.0,711.4 C1795.0,711.3 1798.0,711.2 1801.0,711.1 C1804.0,710.9 1807.0,710.8 1810.0,710.7 C1813.0,710.6 1816.0,710.5 1819.0,710.4 C1822.0,710.3 1825.0,710.2 1828.0,710.0 C1831.0,709.9 1834.0,709.8 1837.0,709.7 C1840.0,709.6 1843.0,709.5 1846.0,709.5 C1849.0,709.4 1852.0,709.3 1855.0,709.2 C1858.0,709.1 1861.0,709.0 1864.0,708.9 C1867.0,708.8 1870.0,708.8 1873.0,708.7 C1876.0,708.6 1879.0,708.5 1882.0,708.5 C1885.0,708.4 1888.0,708.3 1891.0,708.3 C1894.0,708.2 1897.0,708.2 1900.0,708.1 C1903.0,708.0 1906.0,708.0 1909.0,707.9 C1912.0,707.9 1915.0,707.8 1918.0,707.8 C1921.0,707.8 1924.0,707.7 1927.0,707.7 C1930.0,707.6 1933.0,707.6 1936.0,707.6 C1939.0,707.6 1942.0,707.5 1945.0,707.5 C1948.0,707.5 1951.0,707.5 1954.0,707.5 C1957.0,707.4 1960.0,707.4 1963.0,707.4 C1966.0,707.4 1969.0,707.4 1972.0,707.4 C1975.0,707.4 1978.0,707.4 1981.0,707.4 C1984.0,707.4 1987.0,707.4 1990.0,707.4 C1993.0,707.5 1996.0,707.5 1999.0,707.5 C2002.0,707.5 2005.0,707.5 2008.0,707.6 C2011.0,707.6 2014.0,707.6 2017.0,707.7 C2020.0,707.7 2023.0,707.7 2026.0,707.8 C2029.0,707.8 2032.0,707.9 2035.0,707.9 C2038.0,708.0 2041.0,708.1 2044.0,708.1 C2047.0,708.2 2050.0,708.2 2053.0,708.3 C2056.0,708.4 2059.0,708.5 2062.0,708.5 C2065.0,708.6 2068.0,708.7 2071.0,708.8 C2074.0,708.9 2077.0,709.0 2080.0,709.1 C2083.0,709.2 2086.0,709.3 2089.0,709.4 C2092.0,709.5 2095.3,709.6 2098.0,709.7 C2100.7,709.8 2103.8,709.9 2105.0,710.0" stroke="#a890f0" stroke-width="4.9"/>
<path d="M325.0,761.2 C326.5,761.5 331.0,762.5 334.0,763.1 C337.0,763.8 340.0,764.4 343.0,765.0 C346.0,765.7 349.0,766.3 352.0,766.9 C355.0,767.5 358.0,768.1 361.0,768.8 C364.0,769.4 367.0,770.0 370.0,770.6 C373.0,771.2 376.0,771.8 379.0,772.4 C382.0,773.0 385.0,773.6 388.0,774.2 C391.0,774.8 394.0,775.3 397.0,775.9 C400.0,776.5 403.0,777.1 406.0,777.6 C409.0,778.2 412.0,778.7 415.0,779.2 C418.0,779.8 421.0,780.3 424.0,780.8 C427.0,781.3 430.0,781.7 433.0,782.2 C436.0,782.7 439.0,783.1 442.0,783.6 C445.0,784.0 448.0,784.5 451.0,784.9 C454.0,785.3 457.0,785.7 460.0,786.1 C463.0,786.5 466.0,786.9 469.0,787.3 C472.0,787.6 475.0,788.0 478.0,788.4 C481.0,788.7 484.0,789.1 487.0,789.4 C490.0,789.7 493.0,790.1 496.0,790.4 C499.0,790.7 502.0,791.0 505.0,791.3 C508.0,791.6 511.0,791.9 514.0,792.2 C517.0,792.5 520.0,792.8 523.0,793.1 C526.0,793.3 529.0,793.6 532.0,793.9 C535.0,794.2 538.0,794.4 541.0,794.7 C544.0,794.9 547.0,795.2 550.0,795.4 C553.0,795.7 556.0,795.9 559.0,796.2 C562.0,796.4 565.0,796.7 568.0,796.9 C571.0,797.1 574.0,797.4 577.0,797.6 C580.0,797.8 583.0,798.1 586.0,798.3 C589.0,798.5 592.0,798.7 595.0,798.8 C598.0,799.0 601.0,799.2 604.0,799.3 C607.0,799.5 610.0,799.6 613.0,799.7 C616.0,799.8 619.0,799.9 622.0,799.9 C625.0,800.0 628.0,800.0 631.0,800.0 C634.0,800.0 637.0,800.0 640.0,799.9 C643.0,799.8 646.0,799.7 649.0,799.5 C652.0,799.4 655.0,799.2 658.0,798.9 C661.0,798.6 664.0,798.3 667.0,797.9 C670.0,797.5 673.0,797.1 676.0,796.6 C679.0,796.1 682.0,795.6 685.0,794.9 C688.0,794.3 691.0,793.6 694.0,792.8 C697.0,792.1 700.0,791.2 703.0,790.3 C706.0,789.4 709.0,788.4 712.0,787.3 C715.0,786.2 718.0,785.1 721.0,783.9 C724.0,782.6 727.0,781.3 730.0,779.9 C733.0,778.5 736.0,777.0 739.0,775.5 C742.0,774.0 745.0,772.4 748.0,770.8 C751.0,769.2 754.0,767.5 757.0,765.8 C760.0,764.2 763.0,762.4 766.0,760.7 C769.0,759.0 772.0,757.2 775.0,755.5 C778.0,753.8 781.0,752.0 784.0,750.3 C787.0,748.6 790.0,746.9 793.0,745.2 C796.0,743.5 799.0,741.9 802.0,740.3 C805.0,738.7 808.0,737.1 811.0,735.6 C814.0,734.1 817.0,732.6 820.0,731.2 C823.0,729.9 826.0,728.6 829.0,727.3 C832.0,726.1 835.0,725.0 838.0,723.9 C841.0,722.9 844.0,721.9 847.0,721.0 C850.0,720.1 853.0,719.3 856.0,718.6 C859.0,717.8 862.0,717.2 865.0,716.6 C868.0,716.0 871.0,715.5 874.0,715.1 C877.0,714.7 880.0,714.3 883.0,714.0 C886.0,713.8 889.0,713.6 892.0,713.5 C895.0,713.3 898.0,713.3 901.0,713.3 C904.0,713.3 907.0,713.4 910.0,713.6 C913.0,713.8 916.0,714.0 919.0,714.3 C922.0,714.6 925.0,715.0 928.0,715.5 C931.0,715.9 934.0,716.4 937.0,717.0 C940.0,717.6 943.0,718.3 946.0,719.0 C949.0,719.7 952.0,720.5 955.0,721.3 C958.0,722.1 961.0,723.0 964.0,724.0 C967.0,724.9 970.0,725.9 973.0,726.9 C976.0,727.9 979.0,728.9 982.0,730.0 C985.0,731.0 988.0,732.1 991.0,733.2 C994.0,734.3 997.0,735.4 1000.0,736.5 C1003.0,737.6 1006.0,738.8 1009.0,739.9 C1012.0,741.0 1015.0,742.1 1018.0,743.2 C1021.0,744.2 1024.0,745.3 1027.0,746.4 C1030.0,747.4 1033.0,748.4 1036.0,749.4 C1039.0,750.4 1042.0,751.4 1045.0,752.3 C1048.0,753.2 1051.0,754.1 1054.0,754.9 C1057.0,755.7 1060.0,756.5 1063.0,757.3 C1066.0,758.0 1069.0,758.7 1072.0,759.4 C1075.0,760.1 1078.0,760.7 1081.0,761.3 C1084.0,761.9 1087.0,762.5 1090.0,763.0 C1093.0,763.5 1096.0,764.0 1099.0,764.4 C1102.0,764.8 1105.0,765.2 1108.0,765.6 C1111.0,766.0 1114.0,766.3 1117.0,766.6 C1120.0,766.9 1123.0,767.1 1126.0,767.3 C1129.0,767.5 1132.0,767.7 1135.0,767.9 C1138.0,768.0 1141.0,768.1 1144.0,768.2 C1147.0,768.3 1150.0,768.3 1153.0,768.4 C1156.0,768.4 1159.0,768.4 1162.0,768.4 C1165.0,768.3 1168.0,768.3 1171.0,768.2 C1174.0,768.1 1177.0,768.0 1180.0,767.9 C1183.0,767.8 1186.0,767.6 1189.0,767.5 C1192.0,767.3 1195.0,767.1 1198.0,766.9 C1201.0,766.7 1204.0,766.5 1207.0,766.3 C1210.0,766.0 1213.0,765.8 1216.0,765.5 C1219.0,765.2 1222.0,765.0 1225.0,764.7 C1228.0,764.4 1231.0,764.1 1234.0,763.8 C1237.0,763.5 1240.0,763.2 1243.0,762.8 C1246.0,762.5 1249.0,762.2 1252.0,761.9 C1255.0,761.5 1258.0,761.2 1261.0,760.8 C1264.0,760.5 1267.0,760.2 1270.0,759.8 C1273.0,759.5 1276.0,759.1 1279.0,758.8 C1282.0,758.4 1285.0,758.1 1288.0,757.7 C1291.0,757.4 1294.0,757.1 1297.0,756.7 C1300.0,756.4 1303.0,756.0 1306.0,755.7 C1309.0,755.3 1312.0,755.0 1315.0,754.6 C1318.0,754.3 1321.0,754.0 1324.0,753.6 C1327.0,753.3 1330.0,752.9 1333.0,752.6 C1336.0,752.3 1339.0,751.9 1342.0,751.6 C1345.0,751.2 1348.0,750.9 1351.0,750.6 C1354.0,750.2 1357.0,749.9 1360.0,749.6 C1363.0,749.3 1366.0,748.9 1369.0,748.6 C1372.0,748.3 1375.0,748.0 1378.0,747.7 C1381.0,747.3 1384.0,747.0 1387.0,746.7 C1390.0,746.4 1393.0,746.1 1396.0,745.8 C1399.0,745.5 1402.0,745.2 1405.0,744.9 C1408.0,744.6 1411.0,744.3 1414.0,744.0 C1417.0,743.7 1420.0,743.4 1423.0,743.1 C1426.0,742.8 1429.0,742.5 1432.0,742.2 C1435.0,741.9 1438.0,741.6 1441.0,741.3 C1444.0,740.9 1447.0,740.6 1450.0,740.3 C1453.0,740.0 1456.0,739.7 1459.0,739.4 C1462.0,739.1 1465.0,738.8 1468.0,738.5 C1471.0,738.2 1474.0,737.8 1477.0,737.5 C1480.0,737.2 1483.0,736.9 1486.0,736.6 C1489.0,736.3 1492.0,736.0 1495.0,735.7 C1498.0,735.4 1501.0,735.1 1504.0,734.8 C1507.0,734.5 1510.0,734.1 1513.0,733.8 C1516.0,733.5 1519.0,733.2 1522.0,732.9 C1525.0,732.6 1528.0,732.3 1531.0,732.0 C1534.0,731.7 1537.0,731.4 1540.0,731.1 C1543.0,730.8 1546.0,730.5 1549.0,730.3 C1552.0,730.0 1555.0,729.7 1558.0,729.4 C1561.0,729.1 1564.0,728.8 1567.0,728.5 C1570.0,728.2 1573.0,727.9 1576.0,727.7 C1579.0,727.4 1582.0,727.1 1585.0,726.8 C1588.0,726.6 1591.0,726.3 1594.0,726.0 C1597.0,725.7 1600.0,725.5 1603.0,725.2 C1606.0,725.0 1609.0,724.7 1612.0,724.4 C1615.0,724.2 1618.0,723.9 1621.0,723.7 C1624.0,723.4 1627.0,723.2 1630.0,722.9 C1633.0,722.7 1636.0,722.5 1639.0,722.2 C1642.0,722.0 1645.0,721.8 1648.0,721.5 C1651.0,721.3 1654.0,721.1 1657.0,720.9 C1660.0,720.6 1663.0,720.4 1666.0,720.2 C1669.0,720.0 1672.0,719.8 1675.0,719.6 C1678.0,719.4 1681.0,719.2 1684.0,719.0 C1687.0,718.8 1690.0,718.6 1693.0,718.5 C1696.0,718.3 1699.0,718.1 1702.0,717.9 C1705.0,717.8 1708.0,717.6 1711.0,717.4 C1714.0,717.2 1717.0,717.1 1720.0,716.9 C1723.0,716.8 1726.0,716.6 1729.0,716.4 C1732.0,716.3 1735.0,716.1 1738.0,715.9 C1741.0,715.8 1744.0,715.6 1747.0,715.5 C1750.0,715.3 1753.0,715.2 1756.0,715.0 C1759.0,714.9 1762.0,714.7 1765.0,714.6 C1768.0,714.4 1771.0,714.3 1774.0,714.2 C1777.0,714.0 1780.0,713.9 1783.0,713.7 C1786.0,713.6 1789.0,713.5 1792.0,713.3 C1795.0,713.2 1798.0,713.1 1801.0,712.9 C1804.0,712.8 1807.0,712.7 1810.0,712.6 C1813.0,712.4 1816.0,712.3 1819.0,712.2 C1822.0,712.1 1825.0,712.0 1828.0,711.9 C1831.0,711.8 1834.0,711.6 1837.0,711.5 C1840.0,711.4 1843.0,711.3 1846.0,711.2 C1849.0,711.1 1852.0,711.0 1855.0,710.9 C1858.0,710.8 1861.0,710.7 1864.0,710.6 C1867.0,710.6 1870.0,710.5 1873.0,710.4 C1876.0,710.3 1879.0,710.2 1882.0,710.1 C1885.0,710.1 1888.0,710.0 1891.0,709.9 C1894.0,709.8 1897.0,709.8 1900.0,709.7 C1903.0,709.6 1906.0,709.6 1909.0,709.5 C1912.0,709.5 1915.0,709.4 1918.0,709.4 C1921.0,709.3 1924.0,709.3 1927.0,709.2 C1930.0,709.2 1933.0,709.1 1936.0,709.1 C1939.0,709.0 1942.0,709.0 1945.0,709.0 C1948.0,708.9 1951.0,708.9 1954.0,708.9 C1957.0,708.9 1960.0,708.8 1963.0,708.8 C1966.0,708.8 1969.0,708.8 1972.0,708.8 C1975.0,708.8 1978.0,708.8 1981.0,708.8 C1984.0,708.7 1987.0,708.7 1990.0,708.8 C1993.0,708.8 1996.0,708.8 1999.0,708.8 C2002.0,708.8 2005.0,708.8 2008.0,708.8 C2011.0,708.8 2014.0,708.9 2017.0,708.9 C2020.0,708.9 2023.0,709.0 2026.0,709.0 C2029.0,709.0 2032.0,709.1 2035.0,709.1 C2038.0,709.2 2041.0,709.2 2044.0,709.3 C2047.0,709.3 2050.0,709.4 2053.0,709.4 C2056.0,709.5 2059.0,709.6 2062.0,709.6 C2065.0,709.7 2068.0,709.8 2071.0,709.9 C2074.0,709.9 2077.0,710.0 2080.0,710.1 C2083.0,710.2 2086.0,710.3 2089.0,710.4 C2092.0,710.5 2095.3,710.6 2098.0,710.7 C2100.7,710.8 2103.8,710.9 2105.0,711.0" stroke="#3848b0" stroke-width="4.9"/>
<path d="M325.0,771.2 C326.5,771.5 331.0,772.5 334.0,773.1 C337.0,773.8 340.0,774.4 343.0,775.0 C346.0,775.7 349.0,776.3 352.0,776.9 C355.0,777.5 358.0,778.1 361.0,778.8 C364.0,779.4 367.0,780.0 370.0,780.6 C373.0,781.2 376.0,781.8 379.0,782.4 C382.0,783.0 385.0,783.6 388.0,784.2 C391.0,784.8 394.0,785.3 397.0,785.9 C400.0,786.5 403.0,787.1 406.0,787.6 C409.0,788.2 412.0,788.8 415.0,789.3 C418.0,789.9 421.0,790.4 424.0,791.0 C427.0,791.5 430.0,792.1 433.0,792.6 C436.0,793.2 439.0,793.7 442.0,794.2 C445.0,794.8 448.0,795.3 451.0,795.8 C454.0,796.3 457.0,796.9 460.0,797.4 C463.0,797.9 466.0,798.4 469.0,798.9 C472.0,799.4 475.0,799.9 478.0,800.4 C481.0,800.9 484.0,801.4 487.0,801.8 C490.0,802.3 493.0,802.8 496.0,803.3 C499.0,803.8 502.0,804.2 505.0,804.7 C508.0,805.1 511.0,805.6 514.0,806.0 C517.0,806.5 520.0,806.9 523.0,807.4 C526.0,807.8 529.0,808.3 532.0,808.7 C535.0,809.1 538.0,809.5 541.0,809.9 C544.0,810.4 547.0,810.8 550.0,811.2 C553.0,811.6 556.0,812.0 559.0,812.4 C562.0,812.8 565.0,813.2 568.0,813.6 C571.0,813.9 574.0,814.3 577.0,814.7 C580.0,815.0 583.0,815.4 586.0,815.7 C589.0,816.1 592.0,816.4 595.0,816.7 C598.0,817.0 601.0,817.2 604.0,817.5 C607.0,817.7 610.0,818.0 613.0,818.1 C616.0,818.3 619.0,818.5 622.0,818.6 C625.0,818.7 628.0,818.8 631.0,818.9 C634.0,818.9 637.0,818.9 640.0,818.9 C643.0,818.8 646.0,818.8 649.0,818.6 C652.0,818.5 655.0,818.3 658.0,818.1 C661.0,817.8 664.0,817.6 667.0,817.2 C670.0,816.9 673.0,816.5 676.0,816.0 C679.0,815.5 682.0,815.0 685.0,814.4 C688.0,813.8 691.0,813.1 694.0,812.4 C697.0,811.6 700.0,810.8 703.0,809.9 C706.0,809.0 709.0,808.1 712.0,807.0 C715.0,806.0 718.0,804.8 721.0,803.6 C724.0,802.4 727.0,801.1 730.0,799.7 C733.0,798.3 736.0,796.9 739.0,795.4 C742.0,793.9 745.0,792.3 748.0,790.7 C751.0,789.2 754.0,787.5 757.0,785.8 C760.0,784.2 763.0,782.5 766.0,780.8 C769.0,779.1 772.0,777.3 775.0,775.6 C778.0,773.9 781.0,772.2 784.0,770.5 C787.0,768.8 790.0,767.1 793.0,765.4 C796.0,763.7 799.0,762.1 802.0,760.5 C805.0,758.9 808.0,757.4 811.0,755.9 C814.0,754.4 817.0,753.0 820.0,751.6 C823.0,750.2 826.0,748.9 829.0,747.7 C832.0,746.5 835.0,745.4 838.0,744.4 C841.0,743.3 844.0,742.4 847.0,741.5 C850.0,740.6 853.0,739.8 856.0,739.1 C859.0,738.4 862.0,737.7 865.0,737.2 C868.0,736.6 871.0,736.1 874.0,735.7 C877.0,735.3 880.0,735.0 883.0,734.7 C886.0,734.5 889.0,734.3 892.0,734.2 C895.0,734.1 898.0,734.0 901.0,734.1 C904.0,734.1 907.0,734.2 910.0,734.4 C913.0,734.6 916.0,734.9 919.0,735.2 C922.0,735.5 925.0,735.9 928.0,736.4 C931.0,736.9 934.0,737.4 937.0,738.0 C940.0,738.6 943.0,739.3 946.0,740.0 C949.0,740.8 952.0,741.6 955.0,742.4 C958.0,743.3 961.0,744.2 964.0,745.1 C967.0,746.0 970.0,747.0 973.0,748.1 C976.0,749.1 979.0,750.1 982.0,751.2 C985.0,752.3 988.0,753.4 991.0,754.5 C994.0,755.6 997.0,756.7 1000.0,757.8 C1003.0,759.0 1006.0,760.1 1009.0,761.2 C1012.0,762.4 1015.0,763.5 1018.0,764.6 C1021.0,765.7 1024.0,766.8 1027.0,767.8 C1030.0,768.9 1033.0,769.9 1036.0,770.9 C1039.0,771.9 1042.0,772.9 1045.0,773.9 C1048.0,774.8 1051.0,775.7 1054.0,776.5 C1057.0,777.4 1060.0,778.2 1063.0,779.0 C1066.0,779.7 1069.0,780.5 1072.0,781.2 C1075.0,781.9 1078.0,782.5 1081.0,783.1 C1084.0,783.8 1087.0,784.3 1090.0,784.9 C1093.0,785.4 1096.0,785.9 1099.0,786.4 C1102.0,786.9 1105.0,787.3 1108.0,787.7 C1111.0,788.1 1114.0,788.5 1117.0,788.8 C1120.0,789.1 1123.0,789.5 1126.0,789.7 C1129.0,790.0 1132.0,790.3 1135.0,790.5 C1138.0,790.7 1141.0,790.9 1144.0,791.1 C1147.0,791.2 1150.0,791.4 1153.0,791.5 C1156.0,791.6 1159.0,791.7 1162.0,791.8 C1165.0,791.8 1168.0,791.9 1171.0,791.9 C1174.0,791.9 1177.0,791.9 1180.0,791.9 C1183.0,791.9 1186.0,791.9 1189.0,791.9 C1192.0,791.8 1195.0,791.7 1198.0,791.7 C1201.0,791.6 1204.0,791.5 1207.0,791.4 C1210.0,791.3 1213.0,791.2 1216.0,791.1 C1219.0,790.9 1222.0,790.8 1225.0,790.6 C1228.0,790.5 1231.0,790.3 1234.0,790.2 C1237.0,790.0 1240.0,789.8 1243.0,789.7 C1246.0,789.5 1249.0,789.3 1252.0,789.1 C1255.0,788.9 1258.0,788.8 1261.0,788.6 C1264.0,788.4 1267.0,788.2 1270.0,788.0 C1273.0,787.8 1276.0,787.6 1279.0,787.4 C1282.0,787.2 1285.0,787.0 1288.0,786.8 C1291.0,786.6 1294.0,786.4 1297.0,786.3 C1300.0,786.1 1303.0,785.9 1306.0,785.7 C1309.0,785.5 1312.0,785.3 1315.0,785.1 C1318.0,784.9 1321.0,784.7 1324.0,784.5 C1327.0,784.3 1330.0,784.1 1333.0,783.9 C1336.0,783.7 1339.0,783.5 1342.0,783.3 C1345.0,783.1 1348.0,782.9 1351.0,782.7 C1354.0,782.5 1357.0,782.3 1360.0,782.1 C1363.0,781.9 1366.0,781.7 1369.0,781.5 C1372.0,781.3 1375.0,781.1 1378.0,780.9 C1381.0,780.7 1384.0,780.5 1387.0,780.3 C1390.0,780.1 1393.0,779.9 1396.0,779.7 C1399.0,779.5 1402.0,779.3 1405.0,779.1 C1408.0,778.9 1411.0,778.7 1414.0,778.5 C1417.0,778.3 1420.0,778.1 1423.0,777.9 C1426.0,777.7 1429.0,777.4 1432.0,777.2 C1435.0,777.0 1438.0,776.8 1441.0,776.6 C1444.0,776.4 1447.0,776.2 1450.0,776.0 C1453.0,775.8 1456.0,775.6 1459.0,775.4 C1462.0,775.2 1465.0,775.0 1468.0,774.8 C1471.0,774.6 1474.0,774.4 1477.0,774.2 C1480.0,774.0 1483.0,773.8 1486.0,773.6 C1489.0,773.4 1492.0,773.2 1495.0,773.0 C1498.0,772.8 1501.0,772.6 1504.0,772.4 C1507.0,772.2 1510.0,772.0 1513.0,771.8 C1516.0,771.6 1519.0,771.4 1522.0,771.2 C1525.0,771.0 1528.0,770.8 1531.0,770.6 C1534.0,770.4 1537.0,770.2 1540.0,770.0 C1543.0,769.8 1546.0,769.6 1549.0,769.4 C1552.0,769.2 1555.0,769.0 1558.0,768.8 C1561.0,768.6 1564.0,768.4 1567.0,768.2 C1570.0,768.0 1573.0,767.9 1576.0,767.7 C1579.0,767.5 1582.0,767.3 1585.0,767.1 C1588.0,766.9 1591.0,766.7 1594.0,766.5 C1597.0,766.3 1600.0,766.1 1603.0,765.9 C1606.0,765.7 1609.0,765.5 1612.0,765.4 C1615.0,765.2 1618.0,765.0 1621.0,764.8 C1624.0,764.6 1627.0,764.4 1630.0,764.2 C1633.0,764.0 1636.0,763.9 1639.0,763.7 C1642.0,763.5 1645.0,763.3 1648.0,763.1 C1651.0,762.9 1654.0,762.8 1657.0,762.6 C1660.0,762.4 1663.0,762.2 1666.0,762.0 C1669.0,761.9 1672.0,761.7 1675.0,761.5 C1678.0,761.3 1681.0,761.1 1684.0,761.0 C1687.0,760.8 1690.0,760.6 1693.0,760.4 C1696.0,760.3 1699.0,760.1 1702.0,759.9 C1705.0,759.8 1708.0,759.6 1711.0,759.4 C1714.0,759.2 1717.0,759.1 1720.0,758.9 C1723.0,758.7 1726.0,758.6 1729.0,758.4 C1732.0,758.2 1735.0,758.1 1738.0,757.9 C1741.0,757.7 1744.0,757.6 1747.0,757.4 C1750.0,757.3 1753.0,757.1 1756.0,756.9 C1759.0,756.8 1762.0,756.6 1765.0,756.5 C1768.0,756.3 1771.0,756.2 1774.0,756.0 C1777.0,755.9 1780.0,755.7 1783.0,755.6 C1786.0,755.4 1789.0,755.2 1792.0,755.1 C1795.0,755.0 1798.0,754.8 1801.0,754.7 C1804.0,754.5 1807.0,754.4 1810.0,754.2 C1813.0,754.1 1816.0,753.9 1819.0,753.8 C1822.0,753.7 1825.0,753.5 1828.0,753.4 C1831.0,753.3 1834.0,753.1 1837.0,753.0 C1840.0,752.8 1843.0,752.7 1846.0,752.6 C1849.0,752.5 1852.0,752.3 1855.0,752.2 C1858.0,752.1 1861.0,751.9 1864.0,751.8 C1867.0,751.7 1870.0,751.6 1873.0,751.4 C1876.0,751.3 1879.0,751.2 1882.0,751.1 C1885.0,751.0 1888.0,750.9 1891.0,750.7 C1894.0,750.6 1897.0,750.5 1900.0,750.4 C1903.0,750.3 1906.0,750.2 1909.0,750.1 C1912.0,750.0 1915.0,749.9 1918.0,749.8 C1921.0,749.7 1924.0,749.6 1927.0,749.5 C1930.0,749.4 1933.0,749.3 1936.0,749.2 C1939.0,749.1 1942.0,749.0 1945.0,748.9 C1948.0,748.8 1951.0,748.7 1954.0,748.6 C1957.0,748.5 1960.0,748.4 1963.0,748.3 C1966.0,748.3 1969.0,748.2 1972.0,748.1 C1975.0,748.0 1978.0,747.9 1981.0,747.9 C1984.0,747.8 1987.0,747.7 1990.0,747.6 C1993.0,747.6 1996.0,747.5 1999.0,747.4 C2002.0,747.4 2005.0,747.3 2008.0,747.2 C2011.0,747.2 2014.0,747.1 2017.0,747.0 C2020.0,747.0 2023.0,746.9 2026.0,746.9 C2029.0,746.8 2032.0,746.8 2035.0,746.7 C2038.0,746.7 2041.0,746.6 2044.0,746.6 C2047.0,746.5 2050.0,746.5 2053.0,746.4 C2056.0,746.4 2059.0,746.4 2062.0,746.3 C2065.0,746.3 2068.0,746.2 2071.0,746.2 C2074.0,746.2 2077.0,746.2 2080.0,746.1 C2083.0,746.1 2086.0,746.1 2089.0,746.1 C2092.0,746.0 2095.3,746.0 2098.0,746.0 C2100.7,746.0 2103.8,746.0 2105.0,746.0" stroke="#2e2e2e" stroke-width="4.4"/>
<path d="M325.0,697.0 C326.0,697.2 329.0,697.8 331.0,698.2 C333.0,698.6 335.0,699.0 337.0,699.4 C339.0,699.8 341.0,700.2 343.0,700.6 C345.0,701.0 347.0,701.4 349.0,701.8 C351.0,702.2 353.0,702.6 355.0,703.0 C357.0,703.4 359.0,703.8 361.0,704.2 C363.0,704.6 365.0,705.0 367.0,705.4 C369.0,705.8 371.0,706.2 373.0,706.6 C375.0,707.0 377.0,707.4 379.0,707.8 C381.0,708.2 383.0,708.6 385.0,709.0 C387.0,709.4 389.0,709.8 391.0,710.2 C393.0,710.5 395.0,710.9 397.0,711.3 C399.0,711.7 401.0,712.1 403.0,712.5 C405.0,712.9 407.0,713.3 409.0,713.6 C411.0,714.0 413.0,714.4 415.0,714.8 C417.0,715.2 419.0,715.5 421.0,715.9 C423.0,716.3 425.0,716.7 427.0,717.0 C429.0,717.4 431.0,717.8 433.0,718.1 C435.0,718.5 437.0,718.9 439.0,719.2 C441.0,719.6 443.0,719.9 445.0,720.3 C447.0,720.7 449.0,721.0 451.0,721.4 C453.0,721.7 455.0,722.1 457.0,722.4 C459.0,722.7 461.0,723.1 463.0,723.4 C465.0,723.8 467.0,724.1 469.0,724.4 C471.0,724.8 473.0,725.1 475.0,725.4 C477.0,725.7 479.0,726.1 481.0,726.4 C483.0,726.7 485.0,727.0 487.0,727.3 C489.0,727.6 491.0,728.0 493.0,728.3 C495.0,728.6 497.0,728.9 499.0,729.2 C501.0,729.5 503.0,729.8 505.0,730.0 C507.0,730.3 509.0,730.6 511.0,730.9 C513.0,731.2 515.0,731.4 517.0,731.7 C519.0,732.0 521.0,732.3 523.0,732.5 C525.0,732.8 527.0,733.0 529.0,733.3 C531.0,733.5 533.0,733.8 535.0,734.0 C537.0,734.3 539.0,734.5 541.0,734.7 C543.0,735.0 545.0,735.2 547.0,735.4 C549.0,735.6 551.0,735.9 553.0,736.1 C555.0,736.3 557.0,736.5 559.0,736.7 C561.0,736.9 563.0,737.1 565.0,737.3 C567.0,737.5 569.0,737.6 571.0,737.8 C573.0,738.0 575.0,738.2 577.0,738.3 C579.0,738.5 581.0,738.6 583.0,738.7 C585.0,738.9 587.0,739.0 589.0,739.1 C591.0,739.2 593.0,739.3 595.0,739.4 C597.0,739.5 599.0,739.6 601.0,739.6 C603.0,739.7 605.0,739.7 607.0,739.8 C609.0,739.8 611.0,739.8 613.0,739.8 C615.0,739.8 617.0,739.8 619.0,739.7 C621.0,739.7 623.0,739.6 625.0,739.5 C627.0,739.4 629.0,739.3 631.0,739.2 C633.0,739.1 635.0,738.9 637.0,738.7 C639.0,738.6 641.0,738.4 643.0,738.2 C645.0,737.9 647.0,737.7 649.0,737.4 C651.0,737.2 653.0,736.9 655.0,736.5 C657.0,736.2 659.0,735.9 661.0,735.5 C663.0,735.1 665.0,734.7 667.0,734.2 C669.0,733.8 671.0,733.3 673.0,732.8 C675.0,732.3 677.0,731.8 679.0,731.2 C681.0,730.7 683.0,730.1 685.0,729.4 C687.0,728.8 689.0,728.1 691.0,727.4 C693.0,726.7 695.0,726.0 697.0,725.2 C699.0,724.4 701.0,723.6 703.0,722.8 C705.0,721.9 707.0,721.0 709.0,720.1 C711.0,719.2 713.0,718.2 715.0,717.2 C717.0,716.2 719.0,715.1 721.0,714.1 C723.0,713.0 725.0,711.8 727.0,710.6 C729.0,709.5 731.0,708.2 733.0,707.0 C735.0,705.7 737.0,704.4 739.0,703.0 C741.0,701.7 743.0,700.3 745.0,698.8 C747.0,697.3 749.0,695.8 751.0,694.3 C753.0,692.7 755.0,691.1 757.0,689.5 C759.0,687.8 761.0,686.1 763.0,684.3 C765.0,682.5 767.0,680.7 769.0,678.8 C771.0,677.0 773.0,675.0 775.0,673.1 C777.0,671.1 779.0,669.1 781.0,667.1 C783.0,665.1 785.0,663.1 787.0,661.1 C789.0,659.1 791.0,657.0 793.0,655.0 C795.0,653.0 797.0,651.0 799.0,649.0 C801.0,647.0 803.0,645.1 805.0,643.1 C807.0,641.2 809.0,639.4 811.0,637.5 C813.0,635.7 815.0,633.9 817.0,632.2 C819.0,630.5 821.0,628.9 823.0,627.3 C825.0,625.7 827.0,624.1 829.0,622.6 C831.0,621.2 833.0,619.7 835.0,618.4 C837.0,617.0 839.0,615.7 841.0,614.5 C843.0,613.3 845.0,612.1 847.0,611.1 C849.0,610.0 851.0,608.9 853.0,608.0 C855.0,607.1 857.0,606.2 859.0,605.4 C861.0,604.6 863.0,603.9 865.0,603.2 C867.0,602.6 869.0,602.0 871.0,601.5 C873.0,601.0 875.0,600.6 877.0,600.2 C879.0,599.9 881.0,599.6 883.0,599.3 C885.0,599.1 887.0,598.9 889.0,598.8 C891.0,598.7 893.0,598.6 895.0,598.6 C897.0,598.6 899.0,598.7 901.0,598.8 C903.0,598.9 905.0,599.0 907.0,599.2 C909.0,599.4 911.0,599.7 913.0,600.0 C915.0,600.2 917.0,600.6 919.0,600.9 C921.0,601.3 923.0,601.7 925.0,602.2 C927.0,602.6 929.0,603.1 931.0,603.6 C933.0,604.1 935.0,604.7 937.0,605.2 C939.0,605.8 941.0,606.4 943.0,607.0 C945.0,607.6 947.0,608.3 949.0,609.0 C951.0,609.6 953.0,610.3 955.0,611.0 C957.0,611.7 959.0,612.4 961.0,613.2 C963.0,613.9 965.0,614.6 967.0,615.4 C969.0,616.2 971.0,616.9 973.0,617.7 C975.0,618.4 977.0,619.2 979.0,620.0 C981.0,620.8 983.0,621.5 985.0,622.3 C987.0,623.1 989.0,623.9 991.0,624.6 C993.0,625.4 995.0,626.1 997.0,626.9 C999.0,627.6 1001.0,628.4 1003.0,629.1 C1005.0,629.8 1007.0,630.5 1009.0,631.2 C1011.0,631.9 1013.0,632.6 1015.0,633.2 C1017.0,633.9 1019.0,634.5 1021.0,635.1 C1023.0,635.7 1025.0,636.3 1027.0,636.9 C1029.0,637.5 1031.0,638.0 1033.0,638.6 C1035.0,639.1 1037.0,639.6 1039.0,640.1 C1041.0,640.6 1043.0,641.0 1045.0,641.5 C1047.0,642.0 1049.0,642.4 1051.0,642.8 C1053.0,643.2 1055.0,643.6 1057.0,644.0 C1059.0,644.4 1061.0,644.7 1063.0,645.1 C1065.0,645.4 1067.0,645.8 1069.0,646.1 C1071.0,646.4 1073.0,646.7 1075.0,647.0 C1077.0,647.2 1079.0,647.5 1081.0,647.7 C1083.0,648.0 1085.0,648.2 1087.0,648.4 C1089.0,648.6 1091.0,648.8 1093.0,649.0 C1095.0,649.2 1097.0,649.4 1099.0,649.5 C1101.0,649.7 1103.0,649.8 1105.0,649.9 C1107.0,650.0 1109.0,650.1 1111.0,650.2 C1113.0,650.3 1115.0,650.4 1117.0,650.5 C1119.0,650.5 1121.0,650.6 1123.0,650.6 C1125.0,650.7 1127.0,650.7 1129.0,650.7 C1131.0,650.7 1133.0,650.7 1135.0,650.7 C1137.0,650.7 1139.0,650.7 1141.0,650.6 C1143.0,650.6 1145.0,650.5 1147.0,650.5 C1149.0,650.4 1151.0,650.4 1153.0,650.3 C1155.0,650.2 1157.0,650.1 1159.0,650.0 C1161.0,649.9 1163.0,649.8 1165.0,649.6 C1167.0,649.5 1169.0,649.4 1171.0,649.2 C1173.0,649.1 1175.0,648.9 1177.0,648.8 C1179.0,648.6 1181.0,648.4 1183.0,648.2 C1185.0,648.1 1187.0,647.9 1189.0,647.7 C1191.0,647.5 1193.0,647.2 1195.0,647.0 C1197.0,646.8 1199.0,646.6 1201.0,646.4 C1203.0,646.1 1205.0,645.9 1207.0,645.6 C1209.0,645.4 1211.0,645.1 1213.0,644.9 C1215.0,644.6 1217.0,644.3 1219.0,644.0 C1221.0,643.8 1223.0,643.5 1225.0,643.2 C1227.0,642.9 1229.0,642.6 1231.0,642.3 C1233.0,642.0 1235.0,641.7 1237.0,641.4 C1239.0,641.1 1241.0,640.8 1243.0,640.4 C1245.0,640.1 1247.0,639.8 1249.0,639.5 C1251.0,639.1 1253.0,638.8 1255.0,638.5 C1257.0,638.1 1259.0,637.8 1261.0,637.4 C1263.0,637.1 1265.0,636.7 1267.0,636.4 C1269.0,636.0 1271.0,635.7 1273.0,635.3 C1275.0,635.0 1277.0,634.6 1279.0,634.2 C1281.0,633.9 1283.0,633.5 1285.0,633.2 C1287.0,632.8 1289.0,632.4 1291.0,632.0 C1293.0,631.7 1295.0,631.3 1297.0,630.9 C1299.0,630.6 1301.0,630.2 1303.0,629.8 C1305.0,629.4 1307.0,629.1 1309.0,628.7 C1311.0,628.3 1313.0,627.9 1315.0,627.6 C1317.0,627.2 1319.0,626.8 1321.0,626.4 C1323.0,626.1 1325.0,625.7 1327.0,625.3 C1329.0,625.0 1331.0,624.6 1333.0,624.2 C1335.0,623.9 1337.0,623.5 1339.0,623.1 C1341.0,622.8 1343.0,622.4 1345.0,622.0 C1347.0,621.7 1349.0,621.3 1351.0,621.0 C1353.0,620.6 1355.0,620.3 1357.0,619.9 C1359.0,619.6 1361.0,619.2 1363.0,618.9 C1365.0,618.5 1367.0,618.2 1369.0,617.9 C1371.0,617.5 1373.0,617.2 1375.0,616.9 C1377.0,616.5 1379.0,616.2 1381.0,615.9 C1383.0,615.6 1385.0,615.3 1387.0,615.0 C1389.0,614.7 1391.0,614.4 1393.0,614.1 C1395.0,613.8 1397.0,613.5 1399.0,613.2 C1401.0,612.9 1403.0,612.7 1405.0,612.4 C1407.0,612.1 1409.0,611.9 1411.0,611.6 C1413.0,611.4 1415.0,611.1 1417.0,610.9 C1419.0,610.6 1421.0,610.4 1423.0,610.2 C1425.0,609.9 1427.0,609.7 1429.0,609.5 C1431.0,609.3 1433.0,609.1 1435.0,608.9 C1437.0,608.7 1439.0,608.5 1441.0,608.4 C1443.0,608.2 1445.0,608.0 1447.0,607.9 C1449.0,607.7 1451.0,607.6 1453.0,607.5 C1455.0,607.3 1457.0,607.2 1459.0,607.1 C1461.0,607.0 1463.0,606.9 1465.0,606.8 C1467.0,606.7 1469.0,606.6 1471.0,606.5 C1473.0,606.5 1475.0,606.4 1477.0,606.4 C1479.0,606.3 1481.0,606.3 1483.0,606.3 C1485.0,606.3 1487.0,606.3 1489.0,606.4 C1491.0,606.4 1493.0,606.4 1495.0,606.5 C1497.0,606.6 1499.0,606.6 1501.0,606.8 C1503.0,606.9 1505.0,607.0 1507.0,607.1 C1509.0,607.3 1511.0,607.4 1513.0,607.6 C1515.0,607.8 1517.0,608.1 1519.0,608.3 C1521.0,608.5 1523.0,608.8 1525.0,609.1 C1527.0,609.4 1529.0,609.7 1531.0,610.0 C1533.0,610.4 1535.0,610.7 1537.0,611.1 C1539.0,611.5 1541.0,611.9 1543.0,612.3 C1545.0,612.7 1547.0,613.1 1549.0,613.6 C1551.0,614.0 1553.0,614.4 1555.0,614.9 C1557.0,615.4 1559.0,615.9 1561.0,616.4 C1563.0,616.8 1565.0,617.3 1567.0,617.9 C1569.0,618.4 1571.0,618.9 1573.0,619.4 C1575.0,619.9 1577.0,620.4 1579.0,621.0 C1581.0,621.5 1583.0,622.0 1585.0,622.6 C1587.0,623.1 1589.0,623.6 1591.0,624.2 C1593.0,624.7 1595.0,625.3 1597.0,625.8 C1599.0,626.3 1601.0,626.8 1603.0,627.4 C1605.0,627.9 1607.0,628.4 1609.0,628.9 C1611.0,629.4 1613.0,629.9 1615.0,630.4 C1617.0,630.9 1619.0,631.4 1621.0,631.9 C1623.0,632.3 1625.0,632.8 1627.0,633.3 C1629.0,633.7 1631.0,634.2 1633.0,634.6 C1635.0,635.1 1637.0,635.5 1639.0,635.9 C1641.0,636.4 1643.0,636.8 1645.0,637.2 C1647.0,637.6 1649.0,638.0 1651.0,638.4 C1653.0,638.8 1655.0,639.2 1657.0,639.6 C1659.0,640.0 1661.0,640.4 1663.0,640.8 C1665.0,641.2 1667.0,641.6 1669.0,642.0 C1671.0,642.3 1673.0,642.7 1675.0,643.1 C1677.0,643.4 1679.0,643.8 1681.0,644.2 C1683.0,644.5 1685.0,644.9 1687.0,645.3 C1689.0,645.6 1691.0,646.0 1693.0,646.3 C1695.0,646.7 1697.0,647.0 1699.0,647.4 C1701.0,647.7 1703.0,648.1 1705.0,648.4 C1707.0,648.8 1709.0,649.1 1711.0,649.5 C1713.0,649.9 1715.0,650.2 1717.0,650.6 C1719.0,650.9 1721.0,651.3 1723.0,651.6 C1725.0,652.0 1727.0,652.3 1729.0,652.7 C1731.0,653.0 1733.0,653.4 1735.0,653.7 C1737.0,654.1 1739.0,654.4 1741.0,654.8 C1743.0,655.1 1745.0,655.5 1747.0,655.9 C1749.0,656.2 1751.0,656.6 1753.0,656.9 C1755.0,657.3 1757.0,657.6 1759.0,658.0 C1761.0,658.3 1763.0,658.7 1765.0,659.0 C1767.0,659.4 1769.0,659.8 1771.0,660.1 C1773.0,660.5 1775.0,660.8 1777.0,661.2 C1779.0,661.5 1781.0,661.9 1783.0,662.2 C1785.0,662.6 1787.0,663.0 1789.0,663.3 C1791.0,663.7 1793.0,664.0 1795.0,664.4 C1797.0,664.7 1799.0,665.1 1801.0,665.4 C1803.0,665.8 1805.0,666.1 1807.0,666.5 C1809.0,666.9 1811.0,667.2 1813.0,667.6 C1815.0,667.9 1817.0,668.3 1819.0,668.6 C1821.0,669.0 1823.0,669.3 1825.0,669.7 C1827.0,670.0 1829.0,670.4 1831.0,670.7 C1833.0,671.0 1835.0,671.4 1837.0,671.7 C1839.0,672.1 1841.0,672.4 1843.0,672.8 C1845.0,673.1 1847.0,673.5 1849.0,673.8 C1851.0,674.2 1853.0,674.5 1855.0,674.8 C1857.0,675.2 1859.0,675.5 1861.0,675.9 C1863.0,676.2 1865.0,676.5 1867.0,676.9 C1869.0,677.2 1871.0,677.5 1873.0,677.9 C1875.0,678.2 1877.0,678.5 1879.0,678.9 C1881.0,679.2 1883.0,679.5 1885.0,679.9 C1887.0,680.2 1889.0,680.5 1891.0,680.8 C1893.0,681.2 1895.0,681.5 1897.0,681.8 C1899.0,682.1 1901.0,682.5 1903.0,682.8 C1905.0,683.1 1907.0,683.4 1909.0,683.7 C1911.0,684.0 1913.0,684.4 1915.0,684.7 C1917.0,685.0 1919.0,685.3 1921.0,685.6 C1923.0,685.9 1925.0,686.2 1927.0,686.5 C1929.0,686.8 1931.0,687.1 1933.0,687.4 C1935.0,687.7 1937.0,688.0 1939.0,688.3 C1941.0,688.6 1943.0,688.9 1945.0,689.2 C1947.0,689.5 1949.0,689.8 1951.0,690.1 C1953.0,690.4 1955.0,690.7 1957.0,691.0 C1959.0,691.3 1961.0,691.5 1963.0,691.8 C1965.0,692.1 1967.0,692.4 1969.0,692.7 C1971.0,692.9 1973.0,693.2 1975.0,693.5 C1977.0,693.7 1979.0,694.0 1981.0,694.3 C1983.0,694.5 1985.0,694.8 1987.0,695.1 C1989.0,695.3 1991.0,695.6 1993.0,695.9 C1995.0,696.1 1997.0,696.4 1999.0,696.6 C2001.0,696.9 2003.0,697.1 2005.0,697.4 C2007.0,697.6 2009.0,697.8 2011.0,698.1 C2013.0,698.3 2015.0,698.6 2017.0,698.8 C2019.0,699.0 2021.0,699.3 2023.0,699.5 C2025.0,699.7 2027.0,699.9 2029.0,700.2 C2031.0,700.4 2033.0,700.6 2035.0,700.8 C2037.0,701.0 2039.0,701.3 2041.0,701.5 C2043.0,701.7 2045.0,701.9 2047.0,702.1 C2049.0,702.3 2051.0,702.5 2053.0,702.7 C2055.0,702.9 2057.0,703.1 2059.0,703.3 C2061.0,703.5 2063.0,703.6 2065.0,703.8 C2067.0,704.0 2069.0,704.2 2071.0,704.4 C2073.0,704.5 2075.0,704.7 2077.0,704.9 C2079.0,705.1 2081.0,705.2 2083.0,705.4 C2085.0,705.5 2087.0,705.7 2089.0,705.9 C2091.0,706.0 2093.0,706.2 2095.0,706.3 C2097.0,706.5 2099.3,706.6 2101.0,706.7 C2102.7,706.9 2104.3,707.0 2105.0,707.0" stroke="#3c9048" stroke-width="4.4"/>
<path d="M325.0,681.0 C326.0,681.2 329.0,681.8 331.0,682.2 C333.0,682.6 335.0,683.0 337.0,683.5 C339.0,683.9 341.0,684.3 343.0,684.7 C345.0,685.2 347.0,685.6 349.0,686.0 C351.0,686.5 353.0,686.9 355.0,687.3 C357.0,687.8 359.0,688.2 361.0,688.6 C363.0,689.1 365.0,689.5 367.0,689.9 C369.0,690.4 371.0,690.8 373.0,691.2 C375.0,691.6 377.0,692.1 379.0,692.5 C381.0,692.9 383.0,693.4 385.0,693.8 C387.0,694.2 389.0,694.7 391.0,695.1 C393.0,695.5 395.0,696.0 397.0,696.4 C399.0,696.8 401.0,697.2 403.0,697.7 C405.0,698.1 407.0,698.5 409.0,698.9 C411.0,699.3 413.0,699.8 415.0,700.2 C417.0,700.6 419.0,701.0 421.0,701.4 C423.0,701.8 425.0,702.2 427.0,702.6 C429.0,703.1 431.0,703.5 433.0,703.9 C435.0,704.3 437.0,704.7 439.0,705.0 C441.0,705.4 443.0,705.8 445.0,706.2 C447.0,706.6 449.0,707.0 451.0,707.4 C453.0,707.7 455.0,708.1 457.0,708.5 C459.0,708.9 461.0,709.2 463.0,709.6 C465.0,709.9 467.0,710.3 469.0,710.7 C471.0,711.0 473.0,711.4 475.0,711.7 C477.0,712.0 479.0,712.4 481.0,712.7 C483.0,713.0 485.0,713.4 487.0,713.7 C489.0,714.0 491.0,714.3 493.0,714.6 C495.0,714.9 497.0,715.2 499.0,715.5 C501.0,715.8 503.0,716.1 505.0,716.4 C507.0,716.7 509.0,717.0 511.0,717.2 C513.0,717.5 515.0,717.8 517.0,718.0 C519.0,718.3 521.0,718.5 523.0,718.8 C525.0,719.0 527.0,719.2 529.0,719.5 C531.0,719.7 533.0,719.9 535.0,720.1 C537.0,720.3 539.0,720.5 541.0,720.7 C543.0,720.9 545.0,721.1 547.0,721.3 C549.0,721.4 551.0,721.6 553.0,721.8 C555.0,721.9 557.0,722.1 559.0,722.2 C561.0,722.3 563.0,722.5 565.0,722.6 C567.0,722.7 569.0,722.8 571.0,722.9 C573.0,723.0 575.0,723.1 577.0,723.2 C579.0,723.3 581.0,723.3 583.0,723.4 C585.0,723.5 587.0,723.5 589.0,723.5 C591.0,723.6 593.0,723.6 595.0,723.6 C597.0,723.6 599.0,723.6 601.0,723.6 C603.0,723.6 605.0,723.6 607.0,723.6 C609.0,723.5 611.0,723.5 613.0,723.5 C615.0,723.4 617.0,723.3 619.0,723.2 C621.0,723.2 623.0,723.1 625.0,722.9 C627.0,722.8 629.0,722.7 631.0,722.5 C633.0,722.4 635.0,722.2 637.0,722.0 C639.0,721.8 641.0,721.6 643.0,721.3 C645.0,721.1 647.0,720.8 649.0,720.5 C651.0,720.2 653.0,719.9 655.0,719.5 C657.0,719.2 659.0,718.8 661.0,718.4 C663.0,717.9 665.0,717.5 667.0,717.0 C669.0,716.5 671.0,716.0 673.0,715.4 C675.0,714.8 677.0,714.2 679.0,713.6 C681.0,712.9 683.0,712.2 685.0,711.5 C687.0,710.8 689.0,710.0 691.0,709.2 C693.0,708.4 695.0,707.5 697.0,706.6 C699.0,705.7 701.0,704.7 703.0,703.7 C705.0,702.7 707.0,701.7 709.0,700.5 C711.0,699.4 713.0,698.3 715.0,697.0 C717.0,695.8 719.0,694.6 721.0,693.2 C723.0,691.9 725.0,690.6 727.0,689.2 C729.0,687.8 731.0,686.3 733.0,684.8 C735.0,683.4 737.0,681.8 739.0,680.3 C741.0,678.7 743.0,677.1 745.0,675.5 C747.0,673.9 749.0,672.3 751.0,670.6 C753.0,668.9 755.0,667.2 757.0,665.5 C759.0,663.8 761.0,662.1 763.0,660.3 C765.0,658.6 767.0,656.8 769.0,655.0 C771.0,653.3 773.0,651.5 775.0,649.7 C777.0,647.9 779.0,646.1 781.0,644.2 C783.0,642.4 785.0,640.6 787.0,638.8 C789.0,637.0 791.0,635.2 793.0,633.4 C795.0,631.5 797.0,629.7 799.0,627.9 C801.0,626.1 803.0,624.3 805.0,622.6 C807.0,620.8 809.0,619.0 811.0,617.3 C813.0,615.5 815.0,613.8 817.0,612.1 C819.0,610.4 821.0,608.7 823.0,607.1 C825.0,605.4 827.0,603.8 829.0,602.2 C831.0,600.6 833.0,599.0 835.0,597.5 C837.0,596.0 839.0,594.6 841.0,593.1 C843.0,591.7 845.0,590.3 847.0,589.0 C849.0,587.7 851.0,586.5 853.0,585.3 C855.0,584.1 857.0,582.9 859.0,581.8 C861.0,580.8 863.0,579.8 865.0,578.8 C867.0,577.9 869.0,577.0 871.0,576.2 C873.0,575.4 875.0,574.6 877.0,574.0 C879.0,573.3 881.0,572.7 883.0,572.1 C885.0,571.6 887.0,571.1 889.0,570.6 C891.0,570.2 893.0,569.8 895.0,569.5 C897.0,569.2 899.0,569.0 901.0,568.8 C903.0,568.6 905.0,568.4 907.0,568.4 C909.0,568.3 911.0,568.3 913.0,568.3 C915.0,568.3 917.0,568.4 919.0,568.5 C921.0,568.6 923.0,568.8 925.0,569.0 C927.0,569.3 929.0,569.5 931.0,569.8 C933.0,570.1 935.0,570.4 937.0,570.8 C939.0,571.2 941.0,571.6 943.0,572.0 C945.0,572.4 947.0,572.9 949.0,573.4 C951.0,573.9 953.0,574.4 955.0,574.9 C957.0,575.4 959.0,575.9 961.0,576.5 C963.0,577.0 965.0,577.6 967.0,578.1 C969.0,578.7 971.0,579.3 973.0,579.9 C975.0,580.4 977.0,581.0 979.0,581.6 C981.0,582.2 983.0,582.7 985.0,583.3 C987.0,583.9 989.0,584.4 991.0,585.0 C993.0,585.5 995.0,586.0 997.0,586.5 C999.0,587.0 1001.0,587.5 1003.0,588.0 C1005.0,588.5 1007.0,588.9 1009.0,589.4 C1011.0,589.8 1013.0,590.2 1015.0,590.6 C1017.0,591.0 1019.0,591.3 1021.0,591.7 C1023.0,592.0 1025.0,592.4 1027.0,592.7 C1029.0,593.0 1031.0,593.3 1033.0,593.6 C1035.0,593.8 1037.0,594.1 1039.0,594.3 C1041.0,594.6 1043.0,594.8 1045.0,595.0 C1047.0,595.2 1049.0,595.4 1051.0,595.5 C1053.0,595.7 1055.0,595.8 1057.0,596.0 C1059.0,596.1 1061.0,596.2 1063.0,596.3 C1065.0,596.4 1067.0,596.5 1069.0,596.5 C1071.0,596.6 1073.0,596.6 1075.0,596.7 C1077.0,596.7 1079.0,596.7 1081.0,596.7 C1083.0,596.7 1085.0,596.7 1087.0,596.6 C1089.0,596.6 1091.0,596.5 1093.0,596.5 C1095.0,596.4 1097.0,596.3 1099.0,596.2 C1101.0,596.1 1103.0,596.0 1105.0,595.9 C1107.0,595.7 1109.0,595.6 1111.0,595.4 C1113.0,595.3 1115.0,595.1 1117.0,594.9 C1119.0,594.7 1121.0,594.5 1123.0,594.3 C1125.0,594.1 1127.0,593.9 1129.0,593.6 C1131.0,593.4 1133.0,593.1 1135.0,592.9 C1137.0,592.6 1139.0,592.3 1141.0,592.0 C1143.0,591.7 1145.0,591.4 1147.0,591.1 C1149.0,590.8 1151.0,590.4 1153.0,590.1 C1155.0,589.7 1157.0,589.4 1159.0,589.0 C1161.0,588.7 1163.0,588.3 1165.0,587.9 C1167.0,587.5 1169.0,587.1 1171.0,586.7 C1173.0,586.3 1175.0,585.8 1177.0,585.4 C1179.0,585.0 1181.0,584.5 1183.0,584.1 C1185.0,583.6 1187.0,583.1 1189.0,582.7 C1191.0,582.2 1193.0,581.7 1195.0,581.2 C1197.0,580.7 1199.0,580.2 1201.0,579.7 C1203.0,579.2 1205.0,578.6 1207.0,578.1 C1209.0,577.6 1211.0,577.0 1213.0,576.5 C1215.0,575.9 1217.0,575.4 1219.0,574.8 C1221.0,574.2 1223.0,573.7 1225.0,573.1 C1227.0,572.5 1229.0,571.9 1231.0,571.3 C1233.0,570.7 1235.0,570.1 1237.0,569.5 C1239.0,568.9 1241.0,568.3 1243.0,567.6 C1245.0,567.0 1247.0,566.4 1249.0,565.8 C1251.0,565.1 1253.0,564.5 1255.0,563.9 C1257.0,563.2 1259.0,562.6 1261.0,561.9 C1263.0,561.3 1265.0,560.6 1267.0,560.0 C1269.0,559.3 1271.0,558.7 1273.0,558.0 C1275.0,557.4 1277.0,556.7 1279.0,556.0 C1281.0,555.4 1283.0,554.7 1285.0,554.1 C1287.0,553.4 1289.0,552.7 1291.0,552.1 C1293.0,551.4 1295.0,550.8 1297.0,550.1 C1299.0,549.5 1301.0,548.8 1303.0,548.1 C1305.0,547.5 1307.0,546.8 1309.0,546.2 C1311.0,545.5 1313.0,544.9 1315.0,544.2 C1317.0,543.6 1319.0,543.0 1321.0,542.3 C1323.0,541.7 1325.0,541.0 1327.0,540.4 C1329.0,539.8 1331.0,539.2 1333.0,538.5 C1335.0,537.9 1337.0,537.3 1339.0,536.7 C1341.0,536.1 1343.0,535.5 1345.0,534.9 C1347.0,534.3 1349.0,533.7 1351.0,533.1 C1353.0,532.6 1355.0,532.0 1357.0,531.4 C1359.0,530.9 1361.0,530.3 1363.0,529.8 C1365.0,529.2 1367.0,528.7 1369.0,528.2 C1371.0,527.6 1373.0,527.1 1375.0,526.6 C1377.0,526.1 1379.0,525.6 1381.0,525.1 C1383.0,524.6 1385.0,524.1 1387.0,523.7 C1389.0,523.2 1391.0,522.8 1393.0,522.3 C1395.0,521.9 1397.0,521.5 1399.0,521.1 C1401.0,520.6 1403.0,520.2 1405.0,519.9 C1407.0,519.5 1409.0,519.1 1411.0,518.7 C1413.0,518.4 1415.0,518.0 1417.0,517.7 C1419.0,517.4 1421.0,517.1 1423.0,516.8 C1425.0,516.5 1427.0,516.2 1429.0,516.0 C1431.0,515.7 1433.0,515.5 1435.0,515.3 C1437.0,515.1 1439.0,514.9 1441.0,514.8 C1443.0,514.6 1445.0,514.5 1447.0,514.4 C1449.0,514.3 1451.0,514.2 1453.0,514.1 C1455.0,514.1 1457.0,514.0 1459.0,514.0 C1461.0,514.0 1463.0,514.1 1465.0,514.1 C1467.0,514.2 1469.0,514.3 1471.0,514.4 C1473.0,514.5 1475.0,514.7 1477.0,514.9 C1479.0,515.1 1481.0,515.3 1483.0,515.6 C1485.0,515.9 1487.0,516.2 1489.0,516.5 C1491.0,516.8 1493.0,517.2 1495.0,517.6 C1497.0,518.1 1499.0,518.5 1501.0,519.0 C1503.0,519.5 1505.0,520.1 1507.0,520.7 C1509.0,521.3 1511.0,521.9 1513.0,522.6 C1515.0,523.2 1517.0,524.0 1519.0,524.7 C1521.0,525.5 1523.0,526.3 1525.0,527.1 C1527.0,527.9 1529.0,528.8 1531.0,529.7 C1533.0,530.6 1535.0,531.6 1537.0,532.5 C1539.0,533.5 1541.0,534.5 1543.0,535.6 C1545.0,536.6 1547.0,537.7 1549.0,538.7 C1551.0,539.8 1553.0,540.9 1555.0,542.1 C1557.0,543.2 1559.0,544.4 1561.0,545.6 C1563.0,546.7 1565.0,547.9 1567.0,549.2 C1569.0,550.4 1571.0,551.6 1573.0,552.9 C1575.0,554.1 1577.0,555.4 1579.0,556.6 C1581.0,557.9 1583.0,559.2 1585.0,560.5 C1587.0,561.8 1589.0,563.1 1591.0,564.4 C1593.0,565.7 1595.0,567.0 1597.0,568.3 C1599.0,569.6 1601.0,571.0 1603.0,572.3 C1605.0,573.6 1607.0,574.9 1609.0,576.2 C1611.0,577.5 1613.0,578.9 1615.0,580.2 C1617.0,581.5 1619.0,582.8 1621.0,584.1 C1623.0,585.4 1625.0,586.6 1627.0,587.9 C1629.0,589.2 1631.0,590.5 1633.0,591.8 C1635.0,593.0 1637.0,594.3 1639.0,595.5 C1641.0,596.8 1643.0,598.0 1645.0,599.3 C1647.0,600.5 1649.0,601.8 1651.0,603.0 C1653.0,604.2 1655.0,605.4 1657.0,606.6 C1659.0,607.8 1661.0,609.0 1663.0,610.2 C1665.0,611.4 1667.0,612.6 1669.0,613.8 C1671.0,614.9 1673.0,616.1 1675.0,617.2 C1677.0,618.4 1679.0,619.5 1681.0,620.7 C1683.0,621.8 1685.0,622.9 1687.0,624.0 C1689.0,625.1 1691.0,626.2 1693.0,627.3 C1695.0,628.4 1697.0,629.4 1699.0,630.5 C1701.0,631.6 1703.0,632.6 1705.0,633.6 C1707.0,634.7 1709.0,635.7 1711.0,636.7 C1713.0,637.7 1715.0,638.7 1717.0,639.7 C1719.0,640.7 1721.0,641.6 1723.0,642.6 C1725.0,643.5 1727.0,644.5 1729.0,645.4 C1731.0,646.3 1733.0,647.2 1735.0,648.1 C1737.0,649.0 1739.0,649.9 1741.0,650.8 C1743.0,651.7 1745.0,652.5 1747.0,653.4 C1749.0,654.2 1751.0,655.1 1753.0,655.9 C1755.0,656.7 1757.0,657.6 1759.0,658.4 C1761.0,659.2 1763.0,660.0 1765.0,660.8 C1767.0,661.6 1769.0,662.4 1771.0,663.2 C1773.0,663.9 1775.0,664.7 1777.0,665.5 C1779.0,666.2 1781.0,667.0 1783.0,667.7 C1785.0,668.5 1787.0,669.2 1789.0,669.9 C1791.0,670.7 1793.0,671.4 1795.0,672.1 C1797.0,672.8 1799.0,673.6 1801.0,674.3 C1803.0,675.0 1805.0,675.7 1807.0,676.4 C1809.0,677.1 1811.0,677.8 1813.0,678.5 C1815.0,679.2 1817.0,679.8 1819.0,680.5 C1821.0,681.2 1823.0,681.9 1825.0,682.6 C1827.0,683.2 1829.0,683.9 1831.0,684.6 C1833.0,685.3 1835.0,685.9 1837.0,686.6 C1839.0,687.3 1841.0,687.9 1843.0,688.6 C1845.0,689.3 1847.0,689.9 1849.0,690.6 C1851.0,691.3 1853.0,691.9 1855.0,692.6 C1857.0,693.3 1859.0,693.9 1861.0,694.6 C1863.0,695.3 1865.0,695.9 1867.0,696.6 C1869.0,697.3 1871.0,697.9 1873.0,698.6 C1875.0,699.3 1877.0,700.0 1879.0,700.6 C1881.0,701.3 1883.0,702.0 1885.0,702.7 C1887.0,703.4 1889.0,704.1 1891.0,704.8 C1893.0,705.5 1895.0,706.1 1897.0,706.8 C1899.0,707.6 1901.0,708.3 1903.0,709.0 C1905.0,709.7 1907.0,710.4 1909.0,711.1 C1911.0,711.8 1913.0,712.6 1915.0,713.3 C1917.0,714.0 1919.0,714.8 1921.0,715.5 C1923.0,716.3 1925.0,717.0 1927.0,717.8 C1929.0,718.6 1931.0,719.3 1933.0,720.1 C1935.0,720.9 1937.0,721.7 1939.0,722.5 C1941.0,723.2 1943.0,724.0 1945.0,724.8 C1947.0,725.6 1949.0,726.4 1951.0,727.2 C1953.0,728.0 1955.0,728.8 1957.0,729.6 C1959.0,730.4 1961.0,731.2 1963.0,732.0 C1965.0,732.8 1967.0,733.6 1969.0,734.4 C1971.0,735.2 1973.0,736.0 1975.0,736.8 C1977.0,737.6 1979.0,738.4 1981.0,739.1 C1983.0,739.9 1985.0,740.7 1987.0,741.5 C1989.0,742.2 1991.0,743.0 1993.0,743.8 C1995.0,744.5 1997.0,745.3 1999.0,746.0 C2001.0,746.8 2003.0,747.5 2005.0,748.2 C2007.0,748.9 2009.0,749.6 2011.0,750.3 C2013.0,751.0 2015.0,751.7 2017.0,752.4 C2019.0,753.1 2021.0,753.7 2023.0,754.4 C2025.0,755.0 2027.0,755.7 2029.0,756.3 C2031.0,756.9 2033.0,757.5 2035.0,758.1 C2037.0,758.7 2039.0,759.3 2041.0,759.8 C2043.0,760.4 2045.0,760.9 2047.0,761.4 C2049.0,761.9 2051.0,762.4 2053.0,762.9 C2055.0,763.4 2057.0,763.8 2059.0,764.3 C2061.0,764.7 2063.0,765.1 2065.0,765.5 C2067.0,765.9 2069.0,766.2 2071.0,766.6 C2073.0,766.9 2075.0,767.2 2077.0,767.5 C2079.0,767.8 2081.0,768.1 2083.0,768.3 C2085.0,768.5 2087.0,768.8 2089.0,768.9 C2091.0,769.1 2093.0,769.3 2095.0,769.4 C2097.0,769.5 2099.3,769.6 2101.0,769.7 C2102.7,769.7 2104.3,769.7 2105.0,769.7" stroke="#2e8888" stroke-width="4.4"/>
<path d="M520.0,718.6 C520.7,718.8 522.7,719.2 524.0,719.4 C525.3,719.7 526.7,719.9 528.0,720.1 C529.3,720.4 530.7,720.6 532.0,720.7 C533.3,720.9 534.7,721.1 536.0,721.2 C537.3,721.3 538.7,721.5 540.0,721.6 C541.3,721.7 542.7,721.7 544.0,721.8 C545.3,721.8 546.7,721.9 548.0,721.9 C549.3,721.9 550.7,721.9 552.0,721.9 C553.3,721.9 554.7,721.8 556.0,721.8 C557.3,721.7 558.7,721.6 560.0,721.5 C561.3,721.4 562.7,721.2 564.0,721.1 C565.3,720.9 566.7,720.8 568.0,720.6 C569.3,720.4 570.7,720.1 572.0,719.9 C573.3,719.7 574.7,719.4 576.0,719.1 C577.3,718.8 578.7,718.5 580.0,718.2 C581.3,717.8 582.7,717.5 584.0,717.1 C585.3,716.7 586.7,716.3 588.0,715.9 C589.3,715.4 590.7,715.0 592.0,714.5 C593.3,714.0 594.7,713.5 596.0,713.0 C597.3,712.5 598.7,711.9 600.0,711.3 C601.3,710.7 602.7,710.1 604.0,709.5 C605.3,708.9 606.7,708.2 608.0,707.5 C609.3,706.9 610.7,706.2 612.0,705.4 C613.3,704.7 614.7,703.9 616.0,703.1 C617.3,702.4 618.7,701.5 620.0,700.7 C621.3,699.9 622.7,699.0 624.0,698.1 C625.3,697.2 626.7,696.3 628.0,695.3 C629.3,694.4 630.7,693.4 632.0,692.4 C633.3,691.4 634.7,690.4 636.0,689.3 C637.3,688.3 638.7,687.2 640.0,686.1 C641.3,684.9 642.7,683.8 644.0,682.6 C645.3,681.4 646.7,680.2 648.0,679.0 C649.3,677.8 650.7,676.5 652.0,675.2 C653.3,673.9 654.7,672.6 656.0,671.3 C657.3,669.9 658.7,668.5 660.0,667.1 C661.3,665.7 662.7,664.3 664.0,662.8 C665.3,661.3 666.7,659.9 668.0,658.3 C669.3,656.8 670.7,655.3 672.0,653.7 C673.3,652.1 674.7,650.5 676.0,648.8 C677.3,647.2 678.7,645.5 680.0,643.9 C681.3,642.2 682.7,640.4 684.0,638.7 C685.3,636.9 686.7,635.2 688.0,633.4 C689.3,631.6 690.7,629.7 692.0,627.9 C693.3,626.0 694.7,624.1 696.0,622.2 C697.3,620.3 698.7,618.4 700.0,616.4 C701.3,614.4 702.7,612.4 704.0,610.4 C705.3,608.4 706.7,606.3 708.0,604.3 C709.3,602.2 710.7,600.1 712.0,598.0 C713.3,595.8 714.7,593.7 716.0,591.5 C717.3,589.3 718.7,587.1 720.0,584.9 C721.3,582.7 722.7,580.4 724.0,578.1 C725.3,575.9 726.7,573.6 728.0,571.2 C729.3,568.9 730.7,566.5 732.0,564.2 C733.3,561.8 734.7,559.4 736.0,556.9 C737.3,554.5 738.7,552.0 740.0,549.6 C741.3,547.1 742.7,544.6 744.0,542.0 C745.3,539.5 746.7,537.0 748.0,534.4 C749.3,531.8 750.7,529.3 752.0,526.7 C753.3,524.1 754.7,521.5 756.0,518.9 C757.3,516.3 758.7,513.7 760.0,511.1 C761.3,508.5 762.7,505.9 764.0,503.3 C765.3,500.7 766.7,498.1 768.0,495.5 C769.3,493.0 770.7,490.4 772.0,487.8 C773.3,485.3 774.7,482.8 776.0,480.2 C777.3,477.7 778.7,475.2 780.0,472.8 C781.3,470.3 782.7,467.9 784.0,465.5 C785.3,463.1 786.7,460.7 788.0,458.4 C789.3,456.1 790.7,453.8 792.0,451.5 C793.3,449.3 794.7,447.1 796.0,444.9 C797.3,442.8 798.7,440.7 800.0,438.6 C801.3,436.6 802.7,434.6 804.0,432.6 C805.3,430.7 806.7,428.8 808.0,427.0 C809.3,425.1 810.7,423.4 812.0,421.7 C813.3,419.9 814.7,418.3 816.0,416.7 C817.3,415.2 818.7,413.7 820.0,412.2 C821.3,410.8 822.7,409.4 824.0,408.2 C825.3,406.9 826.7,405.7 828.0,404.5 C829.3,403.4 830.7,402.4 832.0,401.4 C833.3,400.4 834.7,399.6 836.0,398.8 C837.3,398.0 838.7,397.3 840.0,396.7 C841.3,396.1 842.7,395.6 844.0,395.1 C845.3,394.7 846.7,394.4 848.0,394.2 C849.3,393.9 850.7,393.8 852.0,393.8 C853.3,393.8 854.7,393.9 856.0,394.0 C857.3,394.2 858.7,394.5 860.0,395.0 C861.3,395.4 862.7,395.9 864.0,396.5 C865.3,397.2 866.7,397.9 868.0,398.8 C869.3,399.7 870.7,400.7 872.0,401.8 C873.3,402.9 874.7,404.1 876.0,405.5 C877.3,406.8 878.7,408.3 880.0,409.9 C881.3,411.5 882.7,413.2 884.0,415.0 C885.3,416.8 886.7,418.8 888.0,420.8 C889.3,422.8 890.7,425.0 892.0,427.3 C893.3,429.6 894.7,431.9 896.0,434.4 C897.3,436.9 898.7,439.5 900.0,442.3 C901.3,445.0 902.7,447.8 904.0,450.8 C905.3,453.7 906.7,456.8 908.0,459.9 C909.3,463.1 910.7,466.3 912.0,469.7 C913.3,473.1 914.7,476.6 916.0,480.1 C917.3,483.7 918.7,487.4 920.0,491.1 C921.3,494.8 922.7,498.7 924.0,502.6 C925.3,506.5 926.7,510.4 928.0,514.4 C929.3,518.5 930.7,522.5 932.0,526.7 C933.3,530.8 934.7,534.9 936.0,539.1 C937.3,543.3 938.7,547.6 940.0,551.8 C941.3,556.0 942.7,560.3 944.0,564.6 C945.3,568.9 946.7,573.2 948.0,577.4 C949.3,581.7 950.7,586.0 952.0,590.3 C953.3,594.5 954.7,598.8 956.0,603.0 C957.3,607.2 958.7,611.4 960.0,615.6 C961.3,619.8 962.7,623.9 964.0,628.0 C965.3,632.2 966.7,636.3 968.0,640.4 C969.3,644.5 970.7,648.5 972.0,652.6 C973.3,656.7 974.7,660.7 976.0,664.7 C977.3,668.7 978.7,672.7 980.0,676.7 C981.3,680.7 982.7,684.6 984.0,688.6 C985.3,692.5 986.7,696.4 988.0,700.4 C989.3,704.3 990.7,708.2 992.0,712.0 C993.3,715.9 994.7,719.7 996.0,723.6 C997.3,727.4 998.7,731.2 1000.0,735.0 C1001.3,738.8 1002.7,742.6 1004.0,746.3 C1005.3,750.1 1006.7,753.8 1008.0,757.5 C1009.3,761.2 1010.7,764.9 1012.0,768.6 C1013.3,772.2 1014.7,775.9 1016.0,779.5 C1017.3,783.1 1018.7,786.7 1020.0,790.3 C1021.3,793.8 1022.7,797.4 1024.0,800.9 C1025.3,804.4 1026.7,807.9 1028.0,811.4 C1029.3,814.9 1030.7,818.3 1032.0,821.7 C1033.3,825.1 1034.7,828.5 1036.0,831.9 C1037.3,835.3 1038.7,838.6 1040.0,841.9 C1041.3,845.2 1042.7,848.5 1044.0,851.8 C1045.3,855.0 1046.7,858.3 1048.0,861.4 C1049.3,864.6 1050.7,867.8 1052.0,871.0 C1053.3,874.1 1054.7,877.2 1056.0,880.3 C1057.3,883.4 1058.7,886.4 1060.0,889.4 C1061.3,892.4 1062.7,895.4 1064.0,898.4 C1065.3,901.3 1066.7,904.3 1068.0,907.1 C1069.3,910.0 1070.7,912.9 1072.0,915.7 C1073.3,918.5 1074.7,921.3 1076.0,924.1 C1077.3,926.8 1078.7,929.5 1080.0,932.2 C1081.3,934.9 1082.7,937.6 1084.0,940.2 C1085.3,942.8 1086.7,945.4 1088.0,948.0 C1089.3,950.5 1090.7,953.1 1092.0,955.5 C1093.3,958.0 1094.7,960.5 1096.0,962.9 C1097.3,965.4 1098.7,967.8 1100.0,970.1 C1101.3,972.5 1102.7,974.9 1104.0,977.2 C1105.3,979.5 1106.7,981.8 1108.0,984.0 C1109.3,986.3 1110.7,988.5 1112.0,990.7 C1113.3,992.9 1114.7,995.1 1116.0,997.2 C1117.3,999.4 1118.7,1001.5 1120.0,1003.6 C1121.3,1005.6 1122.7,1007.7 1124.0,1009.7 C1125.3,1011.8 1126.7,1013.8 1128.0,1015.8 C1129.3,1017.7 1130.7,1019.7 1132.0,1021.6 C1133.3,1023.6 1134.7,1025.5 1136.0,1027.4 C1137.3,1029.3 1138.7,1031.1 1140.0,1032.9 C1141.3,1034.8 1142.7,1036.6 1144.0,1038.4 C1145.3,1040.2 1146.7,1041.9 1148.0,1043.7 C1149.3,1045.4 1150.7,1047.2 1152.0,1048.9 C1153.3,1050.6 1154.7,1052.2 1156.0,1053.9 C1157.3,1055.6 1158.7,1057.2 1160.0,1058.8 C1161.3,1060.4 1162.7,1062.0 1164.0,1063.6 C1165.3,1065.2 1166.7,1066.7 1168.0,1068.3 C1169.3,1069.8 1170.7,1071.3 1172.0,1072.8 C1173.3,1074.3 1174.7,1075.8 1176.0,1077.3 C1177.3,1078.7 1178.7,1080.2 1180.0,1081.6 C1181.3,1083.0 1182.7,1084.5 1184.0,1085.9 C1185.3,1087.3 1186.7,1088.6 1188.0,1090.0 C1189.3,1091.4 1190.7,1092.7 1192.0,1094.0 C1193.3,1095.4 1194.7,1096.7 1196.0,1098.0 C1197.3,1099.3 1198.7,1100.6 1200.0,1101.9 C1201.3,1103.1 1202.7,1104.4 1204.0,1105.6 C1205.3,1106.9 1206.7,1108.1 1208.0,1109.3 C1209.3,1110.6 1210.7,1111.8 1212.0,1113.0 C1213.3,1114.2 1214.7,1115.4 1216.0,1116.5 C1217.3,1117.7 1218.7,1118.9 1220.0,1120.0 C1221.3,1121.2 1222.7,1122.3 1224.0,1123.4 C1225.3,1124.6 1226.7,1125.7 1228.0,1126.8 C1229.3,1127.9 1230.7,1129.0 1232.0,1130.1 C1233.3,1131.2 1234.7,1132.3 1236.0,1133.3 C1237.3,1134.4 1238.7,1135.4 1240.0,1136.5 C1241.3,1137.5 1242.7,1138.6 1244.0,1139.6 C1245.3,1140.6 1246.7,1141.6 1248.0,1142.6 C1249.3,1143.6 1250.7,1144.6 1252.0,1145.6 C1253.3,1146.6 1254.7,1147.6 1256.0,1148.6 C1257.3,1149.5 1258.7,1150.5 1260.0,1151.4 C1261.3,1152.4 1262.7,1153.3 1264.0,1154.2 C1265.3,1155.2 1266.7,1156.1 1268.0,1157.0 C1269.3,1157.9 1270.7,1158.8 1272.0,1159.7 C1273.3,1160.6 1274.7,1161.5 1276.0,1162.3 C1277.3,1163.2 1278.7,1164.1 1280.0,1164.9 C1281.3,1165.8 1282.7,1166.6 1284.0,1167.5 C1285.3,1168.3 1286.7,1169.2 1288.0,1170.0 C1289.3,1170.8 1290.7,1171.6 1292.0,1172.4 C1293.3,1173.2 1294.7,1174.0 1296.0,1174.8 C1297.3,1175.6 1298.7,1176.4 1300.0,1177.1 C1301.3,1177.9 1302.7,1178.7 1304.0,1179.4 C1305.3,1180.2 1306.7,1180.9 1308.0,1181.7 C1309.3,1182.4 1310.7,1183.1 1312.0,1183.9 C1313.3,1184.6 1314.7,1185.3 1316.0,1186.0 C1317.3,1186.7 1318.7,1187.4 1320.0,1188.1 C1321.3,1188.8 1322.7,1189.5 1324.0,1190.2 C1325.3,1190.9 1326.7,1191.5 1328.0,1192.2 C1329.3,1192.9 1330.7,1193.5 1332.0,1194.2 C1333.3,1194.8 1334.7,1195.5 1336.0,1196.1 C1337.3,1196.7 1338.7,1197.4 1340.0,1198.0 C1341.3,1198.6 1342.7,1199.2 1344.0,1199.8 C1345.3,1200.4 1346.7,1201.0 1348.0,1201.6 C1349.3,1202.2 1350.7,1202.8 1352.0,1203.4 C1353.3,1204.0 1354.7,1204.6 1356.0,1205.1 C1357.3,1205.7 1358.7,1206.3 1360.0,1206.8 C1361.3,1207.4 1362.7,1208.0 1364.0,1208.5 C1365.3,1209.1 1366.7,1209.6 1368.0,1210.1 C1369.3,1210.7 1370.7,1211.2 1372.0,1211.7 C1373.3,1212.3 1374.7,1212.8 1376.0,1213.3 C1377.3,1213.8 1378.7,1214.3 1380.0,1214.8 C1381.3,1215.3 1382.7,1215.8 1384.0,1216.3 C1385.3,1216.8 1386.7,1217.3 1388.0,1217.8 C1389.3,1218.3 1390.7,1218.7 1392.0,1219.2 C1393.3,1219.7 1394.7,1220.2 1396.0,1220.6 C1397.3,1221.1 1398.7,1221.5 1400.0,1222.0 C1401.3,1222.5 1402.7,1222.9 1404.0,1223.3 C1405.3,1223.8 1406.7,1224.2 1408.0,1224.7 C1409.3,1225.1 1410.7,1225.5 1412.0,1226.0 C1413.3,1226.4 1414.7,1226.8 1416.0,1227.2 C1417.3,1227.7 1418.7,1228.1 1420.0,1228.5 C1421.3,1228.9 1422.7,1229.3 1424.0,1229.7 C1425.3,1230.1 1426.7,1230.5 1428.0,1230.9 C1429.3,1231.3 1430.7,1231.7 1432.0,1232.1 C1433.3,1232.5 1434.7,1232.9 1436.0,1233.3 C1437.3,1233.6 1438.7,1234.0 1440.0,1234.4 C1441.3,1234.8 1442.7,1235.2 1444.0,1235.5 C1445.3,1235.9 1446.7,1236.3 1448.0,1236.6 C1449.3,1237.0 1450.7,1237.4 1452.0,1237.7 C1453.3,1238.1 1454.7,1238.4 1456.0,1238.8 C1457.3,1239.1 1458.7,1239.5 1460.0,1239.8 C1461.3,1240.2 1462.7,1240.5 1464.0,1240.9 C1465.3,1241.2 1466.7,1241.6 1468.0,1241.9 C1469.3,1242.3 1470.7,1242.6 1472.0,1242.9 C1473.3,1243.3 1474.7,1243.6 1476.0,1243.9 C1477.3,1244.3 1478.7,1244.6 1480.0,1244.9 C1481.3,1245.3 1482.7,1245.6 1484.0,1245.9 C1485.3,1246.2 1486.7,1246.6 1488.0,1246.9 C1489.3,1247.2 1490.7,1247.5 1492.0,1247.8 C1493.3,1248.2 1494.7,1248.5 1496.0,1248.8 C1497.3,1249.1 1498.7,1249.4 1500.0,1249.7 C1501.3,1250.0 1502.7,1250.4 1504.0,1250.7 C1505.3,1251.0 1506.7,1251.3 1508.0,1251.6 C1509.3,1251.9 1510.7,1252.2 1512.0,1252.5 C1513.3,1252.8 1514.7,1253.1 1516.0,1253.4 C1517.3,1253.7 1518.7,1254.0 1520.0,1254.3 C1521.3,1254.6 1522.7,1254.9 1524.0,1255.2 C1525.3,1255.5 1526.7,1255.8 1528.0,1256.1 C1529.3,1256.3 1530.7,1256.6 1532.0,1256.9 C1533.3,1257.2 1534.7,1257.5 1536.0,1257.8 C1537.3,1258.1 1538.7,1258.4 1540.0,1258.6 C1541.3,1258.9 1542.7,1259.2 1544.0,1259.5 C1545.3,1259.8 1546.7,1260.0 1548.0,1260.3 C1549.3,1260.6 1550.7,1260.9 1552.0,1261.1 C1553.3,1261.4 1554.7,1261.7 1556.0,1261.9 C1557.3,1262.2 1558.7,1262.5 1560.0,1262.7 C1561.3,1263.0 1562.7,1263.3 1564.0,1263.5 C1565.3,1263.8 1566.7,1264.1 1568.0,1264.3 C1569.3,1264.6 1570.7,1264.9 1572.0,1265.1 C1573.3,1265.4 1574.7,1265.6 1576.0,1265.9 C1577.3,1266.1 1578.7,1266.4 1580.0,1266.7 C1581.3,1266.9 1582.7,1267.2 1584.0,1267.4 C1585.3,1267.7 1586.7,1267.9 1588.0,1268.2 C1589.3,1268.4 1590.7,1268.6 1592.0,1268.9 C1593.3,1269.1 1594.7,1269.4 1596.0,1269.6 C1597.3,1269.9 1598.7,1270.1 1600.0,1270.3 C1601.3,1270.6 1602.7,1270.8 1604.0,1271.1 C1605.3,1271.3 1606.7,1271.5 1608.0,1271.8 C1609.3,1272.0 1610.7,1272.2 1612.0,1272.5 C1613.3,1272.7 1614.7,1272.9 1616.0,1273.2 C1617.3,1273.4 1618.7,1273.6 1620.0,1273.8 C1621.3,1274.1 1622.7,1274.3 1624.0,1274.5 C1625.3,1274.7 1626.7,1275.0 1628.0,1275.2 C1629.3,1275.4 1630.7,1275.6 1632.0,1275.9 C1633.3,1276.1 1634.7,1276.3 1636.0,1276.5 C1637.3,1276.7 1638.7,1276.9 1640.0,1277.2 C1641.3,1277.4 1642.7,1277.6 1644.0,1277.8 C1645.3,1278.0 1646.7,1278.2 1648.0,1278.4 C1649.3,1278.6 1650.7,1278.8 1652.0,1279.1 C1653.3,1279.3 1654.7,1279.5 1656.0,1279.7 C1657.3,1279.9 1658.7,1280.1 1660.0,1280.3 C1661.3,1280.5 1662.7,1280.7 1664.0,1280.9 C1665.3,1281.1 1666.7,1281.3 1668.0,1281.5 C1669.3,1281.7 1670.7,1281.9 1672.0,1282.1 C1673.3,1282.3 1674.7,1282.5 1676.0,1282.7 C1677.3,1282.9 1678.7,1283.1 1680.0,1283.2 C1681.3,1283.4 1682.7,1283.6 1684.0,1283.8 C1685.3,1284.0 1686.7,1284.2 1688.0,1284.4 C1689.3,1284.6 1690.7,1284.8 1692.0,1284.9 C1693.3,1285.1 1694.7,1285.3 1696.0,1285.5 C1697.3,1285.7 1698.7,1285.9 1700.0,1286.0 C1701.3,1286.2 1702.7,1286.4 1704.0,1286.6 C1705.3,1286.8 1706.7,1286.9 1708.0,1287.1 C1709.3,1287.3 1710.7,1287.5 1712.0,1287.6 C1713.3,1287.8 1714.7,1288.0 1716.0,1288.2 C1717.3,1288.3 1718.7,1288.5 1720.0,1288.7 C1721.3,1288.8 1722.7,1289.0 1724.0,1289.2 C1725.3,1289.3 1726.7,1289.5 1728.0,1289.7 C1729.3,1289.8 1730.7,1290.0 1732.0,1290.2 C1733.3,1290.3 1734.7,1290.5 1736.0,1290.7 C1737.3,1290.8 1738.7,1291.0 1740.0,1291.2 C1741.3,1291.3 1742.7,1291.5 1744.0,1291.6 C1745.3,1291.8 1746.7,1291.9 1748.0,1292.1 C1749.3,1292.3 1750.7,1292.4 1752.0,1292.6 C1753.3,1292.7 1754.7,1292.9 1756.0,1293.0 C1757.3,1293.2 1758.7,1293.3 1760.0,1293.5 C1761.3,1293.6 1762.7,1293.8 1764.0,1293.9 C1765.3,1294.1 1766.7,1294.2 1768.0,1294.4 C1769.3,1294.5 1770.7,1294.7 1772.0,1294.8 C1773.3,1295.0 1774.7,1295.1 1776.0,1295.3 C1777.3,1295.4 1778.7,1295.6 1780.0,1295.7 C1781.3,1295.8 1782.7,1296.0 1784.0,1296.1 C1785.3,1296.3 1786.7,1296.4 1788.0,1296.6 C1789.3,1296.7 1790.7,1296.8 1792.0,1297.0 C1793.3,1297.1 1794.7,1297.2 1796.0,1297.4 C1797.3,1297.5 1798.7,1297.7 1800.0,1297.8 C1801.3,1297.9 1802.7,1298.1 1804.0,1298.2 C1805.3,1298.3 1806.7,1298.5 1808.0,1298.6 C1809.3,1298.7 1810.7,1298.9 1812.0,1299.0 C1813.3,1299.1 1814.7,1299.2 1816.0,1299.4 C1817.3,1299.5 1818.7,1299.6 1820.0,1299.8 C1821.3,1299.9 1822.7,1300.0 1824.0,1300.1 C1825.3,1300.3 1826.7,1300.4 1828.0,1300.5 C1829.3,1300.6 1830.7,1300.8 1832.0,1300.9 C1833.3,1301.0 1834.7,1301.1 1836.0,1301.3 C1837.3,1301.4 1838.7,1301.5 1840.0,1301.6 C1841.3,1301.7 1842.7,1301.9 1844.0,1302.0 C1845.3,1302.1 1846.7,1302.2 1848.0,1302.3 C1849.3,1302.5 1850.7,1302.6 1852.0,1302.7 C1853.3,1302.8 1854.7,1302.9 1856.0,1303.0 C1857.3,1303.2 1858.7,1303.3 1860.0,1303.4 C1861.3,1303.5 1862.7,1303.6 1864.0,1303.7 C1865.3,1303.8 1866.7,1303.9 1868.0,1304.1 C1869.3,1304.2 1870.7,1304.3 1872.0,1304.4 C1873.3,1304.5 1874.7,1304.6 1876.0,1304.7 C1877.3,1304.8 1878.7,1304.9 1880.0,1305.1 C1881.3,1305.2 1882.7,1305.3 1884.0,1305.4 C1885.3,1305.5 1886.7,1305.6 1888.0,1305.7 C1889.3,1305.8 1890.7,1305.9 1892.0,1306.0 C1893.3,1306.1 1894.7,1306.2 1896.0,1306.3 C1897.3,1306.4 1898.7,1306.5 1900.0,1306.6 C1901.3,1306.7 1902.7,1306.8 1904.0,1306.9 C1905.3,1307.0 1906.7,1307.1 1908.0,1307.2 C1909.3,1307.3 1910.7,1307.4 1912.0,1307.5 C1913.3,1307.6 1914.7,1307.7 1916.0,1307.8 C1917.3,1307.9 1918.7,1308.0 1920.0,1308.1 C1921.3,1308.2 1922.7,1308.3 1924.0,1308.4 C1925.3,1308.5 1926.7,1308.6 1928.0,1308.7 C1929.3,1308.8 1930.7,1308.9 1932.0,1309.0 C1933.3,1309.1 1934.7,1309.2 1936.0,1309.3 C1937.3,1309.4 1938.7,1309.5 1940.0,1309.6 C1941.3,1309.7 1942.7,1309.8 1944.0,1309.9 C1945.3,1310.0 1946.7,1310.0 1948.0,1310.1 C1949.3,1310.2 1950.7,1310.3 1952.0,1310.4 C1953.3,1310.5 1954.7,1310.6 1956.0,1310.7 C1957.3,1310.8 1958.7,1310.9 1960.0,1311.0 C1961.3,1311.1 1962.7,1311.1 1964.0,1311.2 C1965.3,1311.3 1966.7,1311.4 1968.0,1311.5 C1969.3,1311.6 1970.7,1311.7 1972.0,1311.8 C1973.3,1311.9 1974.7,1311.9 1976.0,1312.0 C1977.3,1312.1 1978.7,1312.2 1980.0,1312.3 C1981.3,1312.4 1982.7,1312.5 1984.0,1312.5 C1985.3,1312.6 1986.7,1312.7 1988.0,1312.8 C1989.3,1312.9 1990.7,1313.0 1992.0,1313.1 C1993.3,1313.1 1994.7,1313.2 1996.0,1313.3 C1997.3,1313.4 1998.7,1313.5 2000.0,1313.6 C2001.3,1313.7 2002.7,1313.7 2004.0,1313.8 C2005.3,1313.9 2006.7,1314.0 2008.0,1314.1 C2009.3,1314.2 2010.7,1314.2 2012.0,1314.3 C2013.3,1314.4 2014.7,1314.5 2016.0,1314.6 C2017.3,1314.7 2018.7,1314.7 2020.0,1314.8 C2021.3,1314.9 2022.7,1315.0 2024.0,1315.1 C2025.3,1315.1 2026.7,1315.2 2028.0,1315.3 C2029.3,1315.4 2030.7,1315.5 2032.0,1315.6 C2033.3,1315.6 2034.7,1315.7 2036.0,1315.8 C2037.3,1315.9 2038.7,1316.0 2040.0,1316.0 C2041.3,1316.1 2042.7,1316.2 2044.0,1316.3 C2045.3,1316.4 2046.7,1316.4 2048.0,1316.5 C2049.3,1316.6 2050.7,1316.7 2052.0,1316.8 C2053.3,1316.8 2054.7,1316.9 2056.0,1317.0 C2057.3,1317.1 2058.7,1317.2 2060.0,1317.2 C2061.3,1317.3 2062.7,1317.4 2064.0,1317.5 C2065.3,1317.6 2066.7,1317.6 2068.0,1317.7 C2069.3,1317.8 2070.7,1317.9 2072.0,1318.0 C2073.3,1318.0 2074.7,1318.1 2076.0,1318.2 C2077.3,1318.3 2078.7,1318.3 2080.0,1318.4 C2081.3,1318.5 2082.7,1318.6 2084.0,1318.7 C2085.3,1318.7 2086.7,1318.8 2088.0,1318.9 C2089.3,1319.0 2090.7,1319.1 2092.0,1319.1 C2093.3,1319.2 2094.7,1319.3 2096.0,1319.4 C2097.3,1319.5 2098.8,1319.5 2100.0,1319.6 C2101.2,1319.7 2102.9,1319.8 2103.5,1319.8" stroke="#3232a0" stroke-width="4.8"/>
<path d="M325.0,681.0 C326.0,681.2 329.0,681.8 331.0,682.2 C333.0,682.6 335.0,683.0 337.0,683.5 C339.0,683.9 341.0,684.3 343.0,684.7 C345.0,685.2 347.0,685.6 349.0,686.0 C351.0,686.5 353.0,686.9 355.0,687.3 C357.0,687.8 359.0,688.2 361.0,688.6 C363.0,689.1 365.0,689.5 367.0,689.9 C369.0,690.4 371.0,690.8 373.0,691.2 C375.0,691.6 377.0,692.1 379.0,692.5 C381.0,692.9 383.0,693.4 385.0,693.8 C387.0,694.2 389.0,694.7 391.0,695.1 C393.0,695.5 395.0,696.0 397.0,696.4 C399.0,696.8 401.0,697.2 403.0,697.7 C405.0,698.1 407.0,698.5 409.0,698.9 C411.0,699.3 413.0,699.8 415.0,700.2 C417.0,700.6 419.0,701.0 421.0,701.4 C423.0,701.8 425.0,702.2 427.0,702.6 C429.0,703.1 431.0,703.5 433.0,703.9 C435.0,704.3 437.0,704.7 439.0,705.0 C441.0,705.4 443.0,705.8 445.0,706.2 C447.0,706.6 449.0,707.0 451.0,707.4 C453.0,707.7 455.0,708.1 457.0,708.5 C459.0,708.9 461.0,709.2 463.0,709.6 C465.0,709.9 467.0,710.3 469.0,710.7 C471.0,711.0 473.0,711.4 475.0,711.7 C477.0,712.0 479.0,712.4 481.0,712.7 C483.0,713.0 485.0,713.4 487.0,713.7 C489.0,714.0 491.0,714.3 493.0,714.6 C495.0,714.9 497.0,715.2 499.0,715.5 C501.0,715.8 503.0,716.1 505.0,716.4 C507.0,716.7 509.0,717.0 511.0,717.2 C513.0,717.5 515.0,717.8 517.0,718.0 C519.0,718.3 521.0,718.5 523.0,718.8 C525.0,719.0 527.0,719.2 529.0,719.5 C531.0,719.7 533.0,719.9 535.0,720.1 C537.0,720.3 539.0,720.5 541.0,720.7 C543.0,720.9 545.0,721.1 547.0,721.3 C549.0,721.4 552.0,721.7 553.0,721.8" stroke="#2e8888" stroke-width="4.6"/>
</g>
<g stroke="#3c3c3c" stroke-width="5.6" fill="none" filter="url(#soft3)">
<rect x="325.0" y="47.3" width="1780.0" height="1337.7"/>
<line x1="325.0" y1="1117.5" x2="352.0" y2="1117.5"/>
<line x1="325.0" y1="849.9" x2="352.0" y2="849.9"/>
<line x1="325.0" y1="582.4" x2="352.0" y2="582.4"/>
<line x1="325.0" y1="314.8" x2="352.0" y2="314.8"/>
<line x1="770.0" y1="1385.0" x2="770.0" y2="1358.0"/>
<line x1="1215.0" y1="1385.0" x2="1215.0" y2="1358.0"/>
<line x1="1660.0" y1="1385.0" x2="1660.0" y2="1358.0"/>
</g>
<g font-size="78.5" fill="#000" stroke="#000" stroke-width="1.1">
<text x="295" y="1407.0" text-anchor="end">0.0</text>
<text x="295" y="1139.5" text-anchor="end">0.2</text>
<text x="295" y="871.9" text-anchor="end">0.4</text>
<text x="295" y="604.4" text-anchor="end">0.6</text>
<text x="295" y="336.8" text-anchor="end">0.8</text>
<text x="295" y="69.3" text-anchor="end">1.0</text>
<text x="323.0" y="1476.5" text-anchor="middle">400</text>
<text x="768.0" y="1476.5" text-anchor="middle">500</text>
<text x="1213.0" y="1476.5" text-anchor="middle">600</text>
<text x="1658.0" y="1476.5" text-anchor="middle">700</text>
<text x="2103.0" y="1476.5" text-anchor="middle">800</text>
</g>
<text x="872" y="1620.5" font-size="95" fill="#000" stroke="#000" stroke-width="0.9">Wavelength/ nm</text>
<text transform="translate(129,1019) rotate(-90)" font-size="93" fill="#000" stroke="#000" stroke-width="0.9">Absorbance</text>
<text x="452" y="392" font-size="87" fill="#1e1e1e" textLength="176" lengthAdjust="spacingAndGlyphs">DMT</text>
<g font-size="83" fill="#000" text-anchor="middle" stroke="#000" stroke-width="1.4">
<text x="1676" y="274">Other interfering</text>
<text x="1691" y="375.5">substances</text>
</g>
<g stroke="#111" stroke-width="8" fill="none" stroke-linecap="round" stroke-linejoin="miter">
<line x1="582" y1="431" x2="697" y2="544"/>
<polyline points="660,538 700,547 688,507"/>
<line x1="1759" y1="428" x2="1725" y2="592"/>
<polyline points="1711,570 1724,598 1750,576"/>
</g>
<!-- Panel B -->
<text x="9" y="1763" font-size="115" font-weight="bold" fill="#000">(B)</text>
<rect x="252" y="1679" width="1850" height="910" fill="url(#pbg)"/>
<g filter="url(#soft)">
<rect x="252" y="1679" width="1850" height="6" fill="#b8b8b4"/>
<rect x="252" y="1685" width="1850" height="10" fill="#dcdcd8"/>
<circle cx="862" cy="2040" r="118" fill="#d4b4ae" opacity="0.55"/>
<circle cx="403.0" cy="1801.0" r="103" fill="none" stroke="#d3d4ce" stroke-width="9"/>
<circle cx="625.0" cy="1801.0" r="103" fill="none" stroke="#d3d4ce" stroke-width="9"/>
<circle cx="850.0" cy="1801.0" r="103" fill="none" stroke="#d3d4ce" stroke-width="9"/>
<circle cx="1073.0" cy="1801.0" r="103" fill="none" stroke="#d3d4ce" stroke-width="9"/>
<circle cx="1299.0" cy="1801.0" r="103" fill="none" stroke="#d3d4ce" stroke-width="9"/>
<circle cx="1521.0" cy="1801.0" r="103" fill="none" stroke="#d3d4ce" stroke-width="9"/>
<circle cx="1744.0" cy="1801.0" r="103" fill="none" stroke="#d3d4ce" stroke-width="9"/>
<circle cx="1970.0" cy="1801.0" r="103" fill="none" stroke="#d3d4ce" stroke-width="9"/>
<circle cx="403.0" cy="2029.0" r="103" fill="none" stroke="#d3d4ce" stroke-width="9"/>
<circle cx="625.0" cy="2029.0" r="103" fill="none" stroke="#d3d4ce" stroke-width="9"/>
<circle cx="850.0" cy="2029.0" r="103" fill="none" stroke="#e0c6be" stroke-width="9"/>
<circle cx="1073.0" cy="2029.0" r="103" fill="none" stroke="#d3d4ce" stroke-width="9"/>
<circle cx="1299.0" cy="2029.0" r="103" fill="none" stroke="#d3d4ce" stroke-width="9"/>
<circle cx="1521.0" cy="2029.0" r="103" fill="none" stroke="#d3d4ce" stroke-width="9"/>
<circle cx="1744.0" cy="2029.0" r="103" fill="none" stroke="#d3d4ce" stroke-width="9"/>
<circle cx="1970.0" cy="2029.0" r="103" fill="none" stroke="#d3d4ce" stroke-width="9"/>
<circle cx="403.0" cy="2254.0" r="103" fill="none" stroke="#d3d4ce" stroke-width="9"/>
<circle cx="625.0" cy="2254.0" r="103" fill="none" stroke="#d3d4ce" stroke-width="9"/>
<circle cx="850.0" cy="2254.0" r="103" fill="none" stroke="#d3d4ce" stroke-width="9"/>
<circle cx="1073.0" cy="2254.0" r="103" fill="none" stroke="#d3d4ce" stroke-width="9"/>
<circle cx="1299.0" cy="2254.0" r="103" fill="none" stroke="#d3d4ce" stroke-width="9"/>
<circle cx="1521.0" cy="2254.0" r="103" fill="none" stroke="#d3d4ce" stroke-width="9"/>
<circle cx="1744.0" cy="2254.0" r="103" fill="none" stroke="#d3d4ce" stroke-width="9"/>
<circle cx="1970.0" cy="2254.0" r="103" fill="none" stroke="#d3d4ce" stroke-width="9"/>
<circle cx="403.0" cy="2482.0" r="103" fill="none" stroke="#d3d4ce" stroke-width="9"/>
<circle cx="625.0" cy="2482.0" r="103" fill="none" stroke="#d3d4ce" stroke-width="9"/>
<circle cx="850.0" cy="2482.0" r="103" fill="none" stroke="#d3d4ce" stroke-width="9"/>
<circle cx="1073.0" cy="2482.0" r="103" fill="none" stroke="#d3d4ce" stroke-width="9"/>
<circle cx="1299.0" cy="2482.0" r="103" fill="none" stroke="#d3d4ce" stroke-width="9"/>
<circle cx="1521.0" cy="2482.0" r="103" fill="none" stroke="#d3d4ce" stroke-width="9"/>
<circle cx="1744.0" cy="2482.0" r="103" fill="none" stroke="#d3d4ce" stroke-width="9"/>
<circle cx="1970.0" cy="2482.0" r="103" fill="none" stroke="#d3d4ce" stroke-width="9"/>
<g clip-path="url(#cw00)"><circle cx="404.0" cy="1802.0" r="97.5" fill="#b6b7b1"/><circle cx="438.0" cy="1806.0" r="97" fill="url(#wg)"/></g>
<g clip-path="url(#cw01)"><circle cx="626.0" cy="1802.0" r="97.5" fill="#a9aaa4"/><circle cx="642.0" cy="1806.0" r="97" fill="url(#wg)"/></g>
<circle cx="851.0" cy="1802.0" r="97.5" fill="url(#wg)"/>
<circle cx="1074.0" cy="1802.0" r="97.5" fill="url(#wg)"/>
<circle cx="1300.0" cy="1802.0" r="97.5" fill="url(#wg)"/>
<circle cx="1522.0" cy="1802.0" r="97.5" fill="url(#wg)"/>
<circle cx="1745.0" cy="1802.0" r="97.5" fill="url(#wg)"/>
<g clip-path="url(#cw07)"><circle cx="1971.0" cy="1802.0" r="97.5" fill="#b0b1ab"/><circle cx="1953.0" cy="1806.0" r="97" fill="url(#wg)"/></g>
<g clip-path="url(#cw10)"><circle cx="404.0" cy="2030.0" r="97.5" fill="#b6b7b1"/><circle cx="438.0" cy="2034.0" r="97" fill="url(#wg)"/></g>
<g clip-path="url(#cw11)"><circle cx="626.0" cy="2030.0" r="97.5" fill="#aba4a6"/><circle cx="642.0" cy="2034.0" r="97" fill="url(#wi)"/></g>
<circle cx="851.0" cy="2030.0" r="97.5" fill="url(#wj)"/>
<circle cx="1074.0" cy="2030.0" r="97.5" fill="url(#wg)"/>
<circle cx="1300.0" cy="2030.0" r="97.5" fill="url(#wg)"/>
<circle cx="1522.0" cy="2030.0" r="97.5" fill="url(#wg)"/>
<circle cx="1745.0" cy="2030.0" r="97.5" fill="url(#wg)"/>
<g clip-path="url(#cw17)"><circle cx="1971.0" cy="2030.0" r="97.5" fill="#b0b1ab"/><circle cx="1953.0" cy="2034.0" r="97" fill="url(#wg)"/></g>
<g clip-path="url(#cw20)"><circle cx="404.0" cy="2255.0" r="97.5" fill="#b6b7b1"/><circle cx="438.0" cy="2259.0" r="97" fill="url(#wg)"/></g>
<g clip-path="url(#cw21)"><circle cx="626.0" cy="2255.0" r="97.5" fill="#a9aaa4"/><circle cx="642.0" cy="2259.0" r="97" fill="url(#wg)"/></g>
<circle cx="851.0" cy="2255.0" r="97.5" fill="url(#wr)"/>
<circle cx="1074.0" cy="2255.0" r="97.5" fill="url(#wg)"/>
<circle cx="1300.0" cy="2255.0" r="97.5" fill="url(#wg)"/>
<circle cx="1522.0" cy="2255.0" r="97.5" fill="url(#wg)"/>
<circle cx="1745.0" cy="2255.0" r="97.5" fill="url(#wg)"/>
<g clip-path="url(#cw27)"><circle cx="1971.0" cy="2255.0" r="97.5" fill="#b0b1ab"/><circle cx="1953.0" cy="2259.0" r="97" fill="url(#wg)"/></g>
<g clip-path="url(#cw30)"><circle cx="404.0" cy="2483.0" r="97.5" fill="#b6b7b1"/><circle cx="438.0" cy="2487.0" r="97" fill="url(#wg)"/></g>
<g clip-path="url(#cw31)"><circle cx="626.0" cy="2483.0" r="97.5" fill="#a9aaa4"/><circle cx="642.0" cy="2487.0" r="97" fill="url(#wg)"/></g>
<circle cx="851.0" cy="2483.0" r="97.5" fill="url(#wg)"/>
<circle cx="1074.0" cy="2483.0" r="97.5" fill="url(#wg)"/>
<circle cx="1300.0" cy="2483.0" r="97.5" fill="url(#wg)"/>
<circle cx="1522.0" cy="2483.0" r="97.5" fill="url(#wg)"/>
<circle cx="1745.0" cy="2483.0" r="97.5" fill="url(#wg)"/>
<g clip-path="url(#cw37)"><circle cx="1971.0" cy="2483.0" r="97.5" fill="#b0b1ab"/><circle cx="1953.0" cy="2487.0" r="97" fill="url(#wg)"/></g>
<rect x="252" y="1686" width="1850" height="70" fill="url(#topfade)"/>
</g>
<g font-size="106" fill="#0a0a0a" stroke="#0a0a0a" stroke-width="0.7" filter="url(#soft3)">
<text x="250" y="1780" font-size="91">Control</text>
<text x="630" y="1770" font-size="100" text-anchor="middle">a</text>
<text x="862" y="1770" font-size="100" text-anchor="middle">b</text>
<text x="1058" y="1770" font-size="100" text-anchor="middle">c</text>
<text x="1294.6" y="1770" font-size="100" text-anchor="middle">d</text>
<text x="1529" y="1770" font-size="100" text-anchor="middle">e</text>
<text x="1743" y="1770" font-size="100" text-anchor="middle">f</text>
<text x="1981.5" y="1770" font-size="100" text-anchor="middle">g</text>
<text x="385.8" y="2003" font-size="104" text-anchor="middle">h</text>
<text x="628" y="2003" font-size="104" text-anchor="middle">i</text>
<text x="847.5" y="2003" font-size="104" text-anchor="middle">j</text>
<text x="1061.5" y="2003" font-size="104" text-anchor="middle">k</text>
<text x="1298" y="2003" font-size="104" text-anchor="middle">l</text>
<text x="1526.6" y="2003" font-size="104" text-anchor="middle">m</text>
<text x="1743" y="2003" font-size="104" text-anchor="middle">n</text>
<text x="1970" y="2003" font-size="104" text-anchor="middle">o</text>
<text x="385.8" y="2225" font-size="105" text-anchor="middle">p</text>
<text x="622" y="2225" font-size="105" text-anchor="middle">q</text>
<text x="862" y="2225" font-size="105" text-anchor="middle">r</text>
<text x="1061.5" y="2225" font-size="105" text-anchor="middle">s</text>
<text x="1300" y="2225" font-size="105" text-anchor="middle">t</text>
<text x="1515" y="2225" font-size="105" text-anchor="middle">u</text>
<text x="1745" y="2225" font-size="105" text-anchor="middle">v</text>
<text x="1979" y="2225" font-size="105" text-anchor="middle">w</text>
<text x="376.8" y="2469" font-size="106" text-anchor="middle">x</text>
<text x="605" y="2469" font-size="106" text-anchor="middle">y</text>
<text x="836" y="2469" font-size="106" text-anchor="middle">z</text>
<text x="1056" y="2469" font-size="106" text-anchor="middle">A</text>
<text x="1297" y="2469" font-size="106" text-anchor="middle">B</text>
<text x="1509" y="2469" font-size="106" text-anchor="middle">C</text>
<text x="1740.5" y="2469" font-size="106" text-anchor="middle">D</text>
<text x="1979" y="2469" font-size="106" text-anchor="middle">E</text>
</g>
</svg>
</body></html>
